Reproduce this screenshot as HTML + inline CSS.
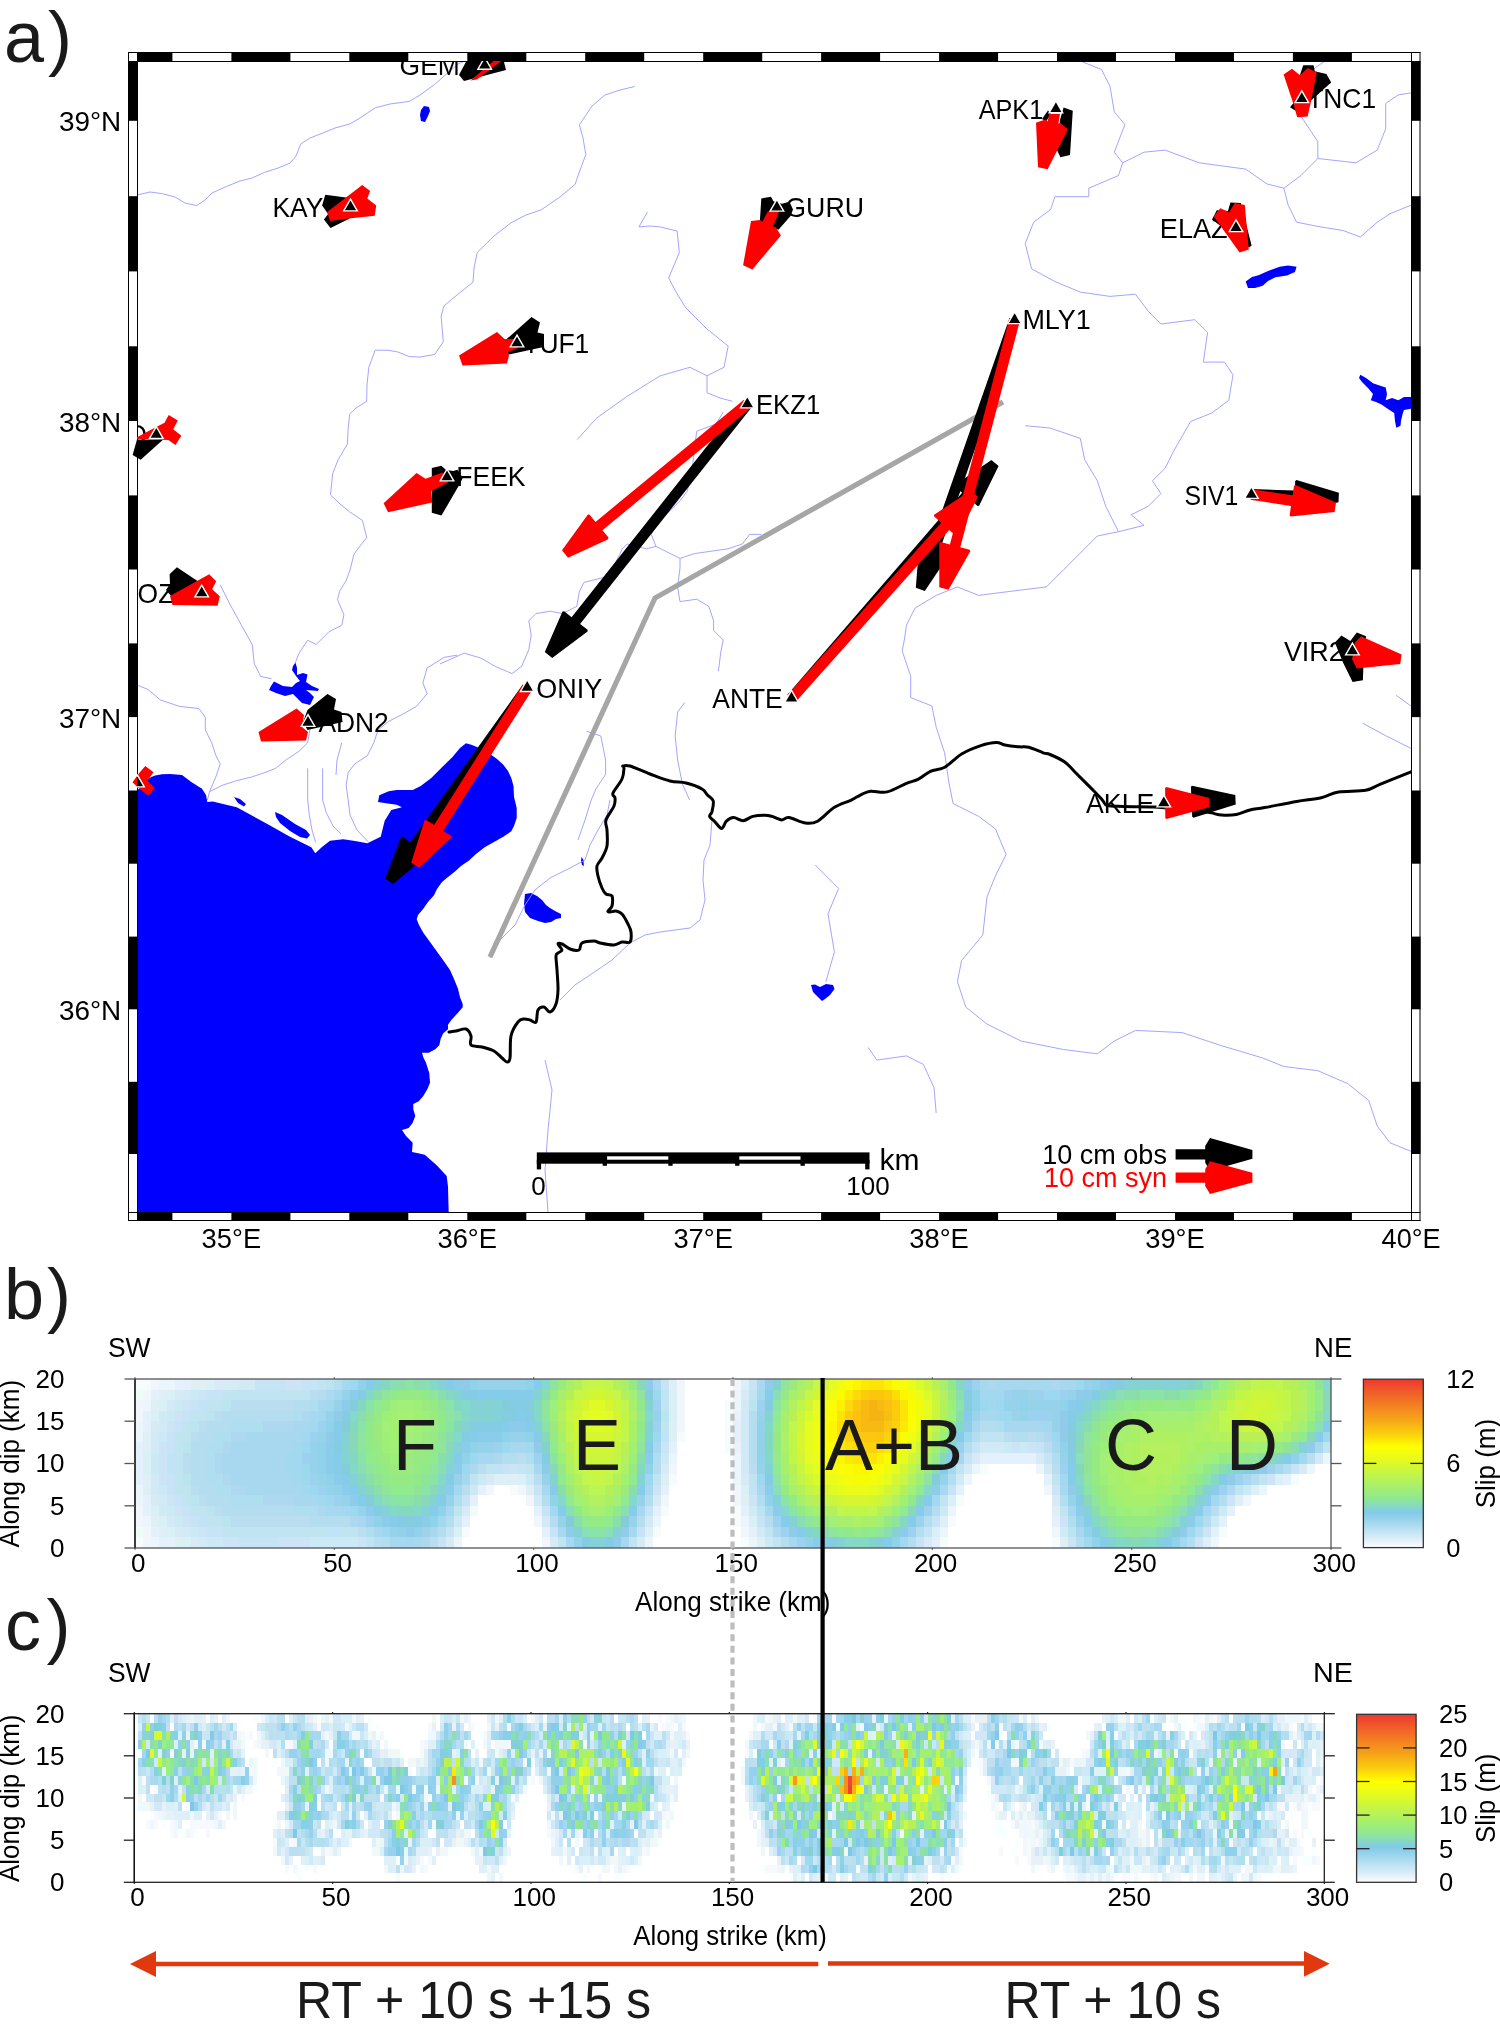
<!DOCTYPE html><html><head><meta charset="utf-8"><title>Figure</title><style>html,body{margin:0;padding:0;background:#fff;}svg{display:block;will-change:transform;}text{font-family:"Liberation Sans",sans-serif;}</style></head><body><svg width="1500" height="2034" viewBox="0 0 1500 2034"><defs><clipPath id="mc"><rect x="137" y="61" width="1274" height="1151"/></clipPath><clipPath id="oc"><rect x="128" y="61" width="1292" height="1151"/></clipPath></defs><rect width="1500" height="2034" fill="#fff"/><text transform="translate(4.0,61.5)" font-size="72" fill="#1a1a1a">a</text><text transform="translate(48.0,61.5)" font-size="72" fill="#1a1a1a">)</text><text transform="translate(4.0,1318.5)" font-size="72" fill="#1a1a1a">b</text><text transform="translate(47.0,1318.5)" font-size="72" fill="#1a1a1a">)</text><text transform="translate(5.0,1650.3)" font-size="72" fill="#1a1a1a">c</text><text transform="translate(46.5,1650.3)" font-size="72" fill="#1a1a1a">)</text><g clip-path="url(#mc)"><path d="M137.0 790.0 L140.0 788.5 L144.0 784.0 L149.0 778.0 L155.0 775.5 L162.0 774.3 L170.0 774.0 L182.0 775.0 L191.3 782.0 L202.0 788.7 L206.0 795.0 L207.3 802.0 L212.7 801.5 L236.7 807.3 L268.7 824.7 L290.0 836.7 L311.3 847.3 L315.3 853.2 L322.0 847.0 L330.0 840.7 L343.3 839.3 L355.0 841.0 L367.3 843.3 L380.7 836.7 L384.7 820.7 L391.3 810.0 L402.0 807.3 L396.7 804.7 L386.0 803.3 L378.0 802.0 L379.3 795.3 L388.7 791.3 L396.7 790.0 L412.7 790.0 L420.7 786.0 L431.3 778.0 L442.0 767.3 L452.7 756.7 L460.0 748.0 L466.0 743.3 L471.3 744.7 L482.0 749.0 L490.0 754.0 L497.0 759.0 L503.3 764.7 L508.0 771.0 L511.3 778.0 L513.5 786.0 L514.0 796.7 L516.7 808.0 L516.7 818.0 L514.0 826.0 L511.3 831.3 L503.3 836.7 L494.0 842.0 L484.7 847.3 L476.0 854.0 L468.7 860.7 L461.0 866.0 L455.3 871.3 L448.0 877.0 L442.0 882.0 L437.0 889.0 L434.0 895.3 L428.0 902.0 L423.3 908.7 L418.0 915.0 L416.7 919.3 L419.0 925.0 L423.3 932.7 L430.0 942.0 L436.7 951.3 L443.0 960.0 L450.0 970.0 L454.0 979.0 L458.0 988.7 L460.0 997.3 L462.7 1004.0 L462.7 1007.3 L458.0 1012.7 L451.3 1020.0 L448.0 1024.7 L448.0 1029.3 L443.3 1033.3 L440.7 1038.7 L439.3 1045.3 L435.3 1049.3 L428.7 1052.7 L422.0 1052.7 L423.3 1057.3 L426.0 1062.7 L429.3 1073.3 L430.0 1082.7 L427.3 1089.3 L423.3 1096.0 L418.7 1101.3 L413.3 1104.0 L413.3 1109.3 L415.3 1116.0 L412.7 1122.7 L408.7 1128.0 L402.0 1130.0 L406.0 1136.0 L412.7 1142.7 L412.0 1152.0 L418.0 1153.3 L424.7 1154.7 L436.7 1165.3 L446.7 1176.0 L448.0 1186.7 L448.7 1213.0 L137.0 1213.0Z" fill="#0000ff"/><path d="M234.0 797.0 L240.0 799.0 L246.0 804.0 L244.0 806.5 L238.0 803.0Z" fill="#0000ff"/><path d="M275.0 812.0 L282.0 815.0 L295.0 824.0 L306.0 830.0 L310.0 835.0 L307.0 838.5 L300.0 837.0 L290.0 831.0 L280.0 823.0 L276.0 817.0Z" fill="#0000ff"/><path d="M295.5 662.5 L297.0 668.0 L297.0 675.0 L303.0 673.0 L307.5 674.5 L306.0 682.0 L312.0 686.0 L319.0 689.0 L318.0 691.0 L306.0 690.0 L310.0 693.0 L314.0 697.0 L310.0 705.0 L302.0 703.0 L297.0 698.0 L293.0 694.0 L285.0 696.0 L276.0 693.0 L269.0 690.0 L271.0 686.0 L274.0 681.5 L283.0 686.0 L292.0 687.0 L296.0 683.0 L300.0 681.0 L296.0 676.0 L292.0 670.0 L293.0 666.0Z" fill="#0000ff"/><path d="M424.0 106.0 L429.0 107.0 L430.0 111.0 L428.0 116.0 L425.0 122.0 L421.0 121.0 L420.0 115.0 L421.0 110.0Z" fill="#0000ff"/><path d="M525.0 894.0 L531.0 893.0 L537.0 896.0 L542.0 900.0 L546.0 905.0 L550.0 908.0 L555.0 911.0 L561.0 914.0 L561.0 918.0 L556.0 919.0 L551.0 922.0 L545.0 923.0 L538.0 921.0 L530.0 918.0 L525.0 912.0 L524.0 904.0Z" fill="#0000ff"/><path d="M581.5 857.0 L583.5 860.0 L583.8 866.0 L582.0 865.0 L581.0 861.0Z" fill="#0000ff"/><path d="M1245.7 281.5 L1252.0 277.0 L1258.5 275.2 L1268.0 271.0 L1279.7 266.7 L1288.0 265.5 L1296.6 266.7 L1295.0 272.0 L1287.0 275.5 L1275.4 277.3 L1268.0 281.0 L1262.7 285.8 L1255.0 288.0 L1248.0 288.0Z" fill="#0000ff"/><path d="M1360.3 374.8 L1366.0 378.0 L1373.0 383.3 L1378.0 385.0 L1385.7 387.6 L1387.0 394.0 L1385.7 400.3 L1392.0 398.0 L1398.4 400.3 L1404.0 397.0 L1411.0 397.0 L1411.0 408.7 L1404.0 410.0 L1402.6 414.0 L1401.0 421.0 L1400.5 425.7 L1396.3 427.8 L1395.0 421.0 L1394.2 413.0 L1388.0 409.0 L1381.5 404.5 L1376.0 402.0 L1370.8 400.3 L1373.0 394.0 L1368.0 388.0 L1362.0 382.0 L1359.0 378.0Z" fill="#0000ff"/><path d="M811.0 985.0 L815.0 984.5 L820.0 987.0 L826.0 984.0 L833.0 985.0 L834.5 989.0 L830.0 995.0 L825.0 999.0 L822.0 1001.0 L818.0 997.0 L813.0 992.0Z" fill="#0000ff"/><g fill="none" stroke="#9a9aff" stroke-width="0.9" stroke-linejoin="round"><path d="M137.0 195.0 L150.0 192.0 L162.5 193.7 L175.0 197.0 L185.0 203.0 L196.5 205.6 L205.0 200.0 L212.0 193.0 L226.3 186.5 L240.0 181.0 L252.0 178.0 L264.6 172.4 L278.0 168.0 L290.1 163.1 L296.0 156.0 L300.8 143.9 L310.0 138.0 L324.2 132.5 L335.0 128.0 L349.7 124.0 L360.0 118.0 L375.2 107.8 L390.0 104.0 L409.2 101.4 L420.0 95.0 L434.7 84.4 L443.0 77.0 L451.8 69.5 L458.0 64.0 L464.5 61.0"/><path d="M634.7 86.5 L620.0 90.0 L604.9 95.0 L592.0 106.0 L579.4 124.8 L583.0 138.0 L585.8 154.6 L580.0 170.0 L575.1 184.4 L560.0 197.0 L541.1 209.9 L526.0 215.0 L511.3 222.6 L494.0 236.0 L477.3 252.4 L474.0 268.0 L473.0 282.2 L462.0 291.0 L451.8 299.2 L444.0 306.0 L441.1 316.2 L443.3 341.7 L434.7 354.5 L420.0 357.0 L409.2 356.6 L398.0 352.0 L388.0 350.2 L375.2 350.2 L368.8 367.3 L367.0 385.0 L366.7 401.3 L356.0 408.0 L349.7 414.0 L348.0 430.0 L347.5 443.8 L338.0 460.0 L332.7 473.6 L330.5 494.9 L340.0 504.0 L349.7 511.9 L362.4 520.4 L366.7 537.4 L360.0 546.0 L353.9 554.4 L350.0 570.0 L346.1 580.5 L339.7 591.2 L337.5 599.7 L343.9 614.7 L341.8 625.3 L329.0 631.7 L316.2 644.5 L307.7 640.3 L299.1 653.1 L294.9 663.7"/><path d="M647.4 212.0 L638.9 226.9 L650.0 226.0 L660.2 226.9 L677.2 231.1 L679.3 252.4 L668.7 277.9 L676.0 292.0 L685.7 307.7 L707.0 329.0 L728.2 346.0 L724.0 367.3 L707.0 375.8 L707.0 392.8 L720.0 398.0 L732.5 401.3"/><path d="M577.2 439.6 L596.4 418.3 L626.1 397.0 L660.2 375.8 L690.0 367.3 L707.0 375.8"/><path d="M1080.3 61.0 L1101.6 69.5 L1110.0 86.4 L1114.3 111.9 L1124.9 124.6 L1114.3 152.2 L1122.7 162.8 L1118.5 175.5 L1088.8 188.2 L1088.8 196.7 L1054.9 196.7 L1050.7 209.4 L1033.7 222.2 L1025.2 243.4 L1031.6 268.8 L1054.9 281.5 L1080.3 292.1 L1110.0 296.4 L1135.5 294.2 L1148.2 311.2 L1160.9 324.0 L1194.8 319.7 L1207.6 332.4 L1203.3 362.1 L1224.5 362.1 L1233.0 374.8 L1228.8 400.3 L1211.8 413.0 L1190.6 421.5 L1173.6 451.2 L1165.2 468.1 L1152.4 480.8 L1160.9 493.6 L1148.2 506.3 L1131.2 514.8 L1144.0 525.4 L1118.5 531.7 L1097.3 536.0 L1080.3 553.0 L1063.4 569.9 L1046.4 586.9 L1012.5 591.1 L978.6 595.4 L957.4 586.9 L936.2 595.4 L915.0 608.1 L906.5 625.0 L904.3 640.0 L902.2 650.9 L910.7 676.3 L910.7 697.5 L931.9 706.0 L936.2 727.2 L944.6 752.7 L948.9 782.4 L953.1 803.6 L978.6 816.3 L995.5 829.0 L1006.1 854.5 L995.5 875.7 L987.0 896.9 L982.8 935.0 L961.6 960.5 L957.4 981.7 L965.8 1007.1 L987.0 1024.1 L1021.0 1041.0 L1063.4 1049.5 L1097.3 1053.8 L1114.3 1041.0 L1135.5 1030.4 L1182.1 1032.6 L1220.3 1045.3 L1262.7 1058.0 L1283.9 1066.5 L1317.8 1070.7 L1347.5 1083.5 L1368.7 1100.4 L1377.2 1125.9 L1390.0 1142.8 L1411.0 1151.3"/><path d="M1122.7 162.8 L1144.0 152.2 L1165.2 150.1 L1199.1 162.8 L1245.7 169.1 L1267.0 184.0 L1283.9 188.2 L1288.2 205.2 L1296.6 222.2 L1317.8 226.4 L1343.3 230.6 L1360.3 237.0 L1377.2 222.2 L1390.0 213.7 L1411.0 205.2"/><path d="M1283.9 188.2 L1300.9 175.5 L1317.8 158.5 L1317.8 141.6 L1300.9 116.1 L1300.9 103.4 L1305.0 85.0 L1312.0 70.0 L1325.0 61.0"/><path d="M1317.8 158.5 L1356.0 162.8 L1377.2 150.1 L1385.7 128.9 L1385.7 103.4 L1398.4 94.9 L1411.0 92.8"/><path d="M1025.2 425.7 L1050.0 428.0 L1080.3 438.4 L1084.6 459.6 L1097.3 480.8 L1105.8 506.3 L1118.5 531.7"/><path d="M815.3 865.0 L838.6 888.4 L828.0 913.8 L834.4 952.0 L825.9 981.7"/><path d="M868.3 1047.4 L876.8 1060.1 L906.5 1055.9 L923.4 1064.4 L934.0 1087.7 L936.2 1113.1"/><path d="M1396.3 695.4 L1411.0 706.0"/><path d="M1362.4 723.0 L1385.7 735.7 L1411.0 748.4"/><path d="M220.2 584.8 L230.9 606.1 L241.5 625.3 L252.2 644.5 L254.3 663.7 L260.7 676.5 L271.4 678.7"/><path d="M309.8 729.9 L307.7 742.7 L299.1 751.2 L286.3 759.7 L275.7 768.3 L265.0 772.5 L252.2 776.8 L235.1 781.1 L222.3 785.3 L209.5 791.7 L207.4 800.0"/><path d="M137.0 685.1 L147.7 689.3 L160.5 700.0 L179.7 706.4 L198.9 708.5 L205.3 717.1 L205.3 729.9 L211.7 742.7 L215.9 755.5 L220.2 764.0 L215.9 776.8 L209.5 791.7"/><path d="M457.0 655.2 L444.2 657.3 L427.1 668.0 L422.9 682.9 L427.1 693.6 L416.5 706.4 L401.5 714.9 L388.7 721.3 L378.1 729.9 L373.8 742.7 L367.4 755.5 L354.6 764.0 L348.2 772.5 L346.1 785.3 L348.2 800.0 L350.0 815.0 L357.0 830.0 L368.8 842.5"/><path d="M322.6 768.3 L322.6 800.0 L326.3 812.7 L333.0 826.0 L341.2 834.0"/><path d="M307.7 768.3 L307.7 800.0 L309.3 815.0 L312.0 830.0 L315.6 842.5"/><path d="M341.8 742.7 L337.0 760.0 L336.0 775.0"/><path d="M440.0 664.0 L464.0 653.2 L480.8 658.0 L495.2 666.4 L512.0 673.6 L521.6 666.4 L528.8 649.6 L531.2 635.2 L528.8 620.8 L536.0 613.6 L550.4 611.2 L562.4 613.6 L576.8 606.4 L579.2 592.0 L584.0 582.4 L603.2 577.6 L612.8 568.0 L622.4 548.8 L627.2 544.0 L636.8 546.4 L646.4 548.8 L656.0 546.4 L665.6 551.2 L680.0 558.4 L694.4 553.6 L711.2 551.2 L728.0 548.8 L742.4 544.0 L749.6 534.4 L761.6 534.4"/><path d="M680.0 558.4 L680.0 568.0 L677.6 587.2 L680.0 601.6 L696.8 599.2 L708.8 606.4 L713.6 620.8 L713.6 630.4 L723.2 640.0 L720.8 652.0 L718.4 671.2"/><path d="M656.0 546.4 L651.2 534.4 L656.0 524.8 L665.6 515.2 L680.0 500.8 L687.2 491.2 L692.0 472.0 L694.4 448.0 L696.8 431.2 L716.0 424.0 L723.2 412.0"/><path d="M684.8 702.4 L677.6 712.0 L675.2 736.0 L677.6 760.0 L682.4 784.0 L689.6 800.0"/><path d="M586.4 731.2 L600.8 736.0 L605.6 760.0 L605.6 774.4 L596.0 788.8 L591.2 800.0 L585.0 820.0 L578.0 840.0"/><path d="M490.0 958.0 L500.0 940.0 L515.0 925.0 L525.0 905.0 L535.0 890.0 L550.0 878.0 L570.0 868.0 L585.0 860.0 L590.0 845.0 L598.0 830.0 L607.0 815.0 L610.0 800.0"/><path d="M545.0 1060.0 L552.0 1090.0 L548.0 1130.0 L545.0 1170.0 L548.0 1212.0"/><path d="M560.0 1000.0 L575.0 985.0 L590.0 975.0 L612.0 960.0 L630.0 943.0"/><path d="M630.0 943.0 L645.0 935.0 L660.0 932.0 L690.0 928.0 L700.0 920.0 L705.0 900.0 L703.0 880.0 L704.0 860.0 L710.0 845.0 L712.0 820.0"/></g><path d="M449.0 1032.0 C450.2 1031.8 453.2 1031.5 456.0 1031.0 C458.8 1030.5 463.5 1028.2 466.0 1029.0 C468.5 1029.8 470.2 1033.3 471.0 1036.0 C471.8 1038.7 469.2 1043.2 471.0 1045.0 C472.8 1046.8 478.2 1046.0 482.0 1047.0 C485.8 1048.0 490.7 1049.2 494.0 1051.0 C497.3 1052.8 499.8 1056.2 502.0 1058.0 C504.2 1059.8 505.7 1062.0 507.0 1062.0 C508.3 1062.0 509.3 1062.3 510.0 1058.0 C510.7 1053.7 509.7 1042.0 511.0 1036.0 C512.3 1030.0 515.8 1024.8 518.0 1022.0 C520.2 1019.2 522.0 1019.3 524.0 1019.0 C526.0 1018.7 528.0 1019.5 530.0 1020.0 C532.0 1020.5 534.7 1023.7 536.0 1022.0 C537.3 1020.3 536.7 1012.5 538.0 1010.0 C539.3 1007.5 542.0 1006.7 544.0 1007.0 C546.0 1007.3 548.0 1012.5 550.0 1012.0 C552.0 1011.5 554.7 1007.7 556.0 1004.0 C557.3 1000.3 557.8 995.7 558.0 990.0 C558.2 984.3 557.3 975.7 557.0 970.0 C556.7 964.3 555.8 958.8 556.0 956.0 C556.2 953.2 557.0 954.0 558.0 953.0 C559.0 952.0 562.0 951.5 562.0 950.0 C562.0 948.5 558.0 945.0 558.0 944.0 C558.0 943.0 560.0 943.2 562.0 944.0 C564.0 944.8 567.2 948.0 570.0 949.0 C572.8 950.0 577.0 951.0 579.0 950.0 C581.0 949.0 579.5 944.5 582.0 943.0 C584.5 941.5 591.0 941.0 594.0 941.0 C597.0 941.0 596.7 942.3 600.0 943.0 C603.3 943.7 610.3 945.2 614.0 945.0 C617.7 944.8 619.3 942.5 622.0 942.0 C624.7 941.5 628.5 943.7 630.0 942.0 C631.5 940.3 631.3 935.0 631.0 932.0 C630.7 929.0 629.5 927.0 628.0 924.0 C626.5 921.0 624.0 916.2 622.0 914.0 C620.0 911.8 618.0 911.3 616.0 911.0 C614.0 910.7 611.3 912.0 610.0 912.0 C608.7 912.0 607.7 912.0 608.0 911.0 C608.3 910.0 611.3 908.5 612.0 906.0 C612.7 903.5 613.0 898.0 612.0 896.0 C611.0 894.0 607.7 895.3 606.0 894.0 C604.3 892.7 603.3 891.0 602.0 888.0 C600.7 885.0 598.8 879.7 598.0 876.0 C597.2 872.3 596.3 869.0 597.0 866.0 C597.7 863.0 600.3 861.3 602.0 858.0 C603.7 854.7 606.2 850.7 607.0 846.0 C607.8 841.3 607.2 834.3 607.0 830.0 C606.8 825.7 604.8 824.0 606.0 820.0 C607.2 816.0 612.5 809.7 614.0 806.0 C615.5 802.3 615.2 800.2 615.0 798.0 C614.8 795.8 611.8 796.2 613.0 793.0 C614.2 789.8 620.2 783.2 622.0 779.0 C623.8 774.8 623.8 770.2 624.0 768.0 C624.2 765.8 622.0 766.3 623.0 766.0 C624.0 765.7 625.5 764.7 630.0 766.0 C634.5 767.3 643.3 771.5 650.0 774.0 C656.7 776.5 664.0 779.5 670.0 781.0 C676.0 782.5 680.7 781.7 686.0 783.0 C691.3 784.3 698.5 787.0 702.0 789.0 C705.5 791.0 705.3 792.8 707.2 794.8 C709.1 796.8 712.4 798.0 713.2 800.8 C714.0 803.6 712.6 809.0 712.0 811.6 C711.4 814.2 709.2 814.8 709.6 816.4 C710.0 818.0 712.4 819.2 714.4 821.2 C716.4 823.2 719.6 828.4 721.6 828.4 C723.6 828.4 724.4 823.0 726.4 821.2 C728.4 819.4 730.8 817.7 733.6 817.6 C736.4 817.5 740.0 820.9 743.2 820.7 C746.4 820.5 749.2 817.3 752.8 816.4 C756.4 815.5 761.6 815.2 764.8 815.2 C768.0 815.2 769.2 815.6 772.0 816.4 C774.8 817.2 778.8 819.8 781.6 820.0 C784.4 820.2 784.8 817.1 788.8 817.6 C792.8 818.1 800.8 822.5 805.6 823.1 C810.4 823.7 812.8 823.8 817.6 821.2 C822.4 818.6 828.8 810.8 834.4 807.3 C840.0 803.8 846.8 802.2 851.2 800.1 C855.6 798.0 857.6 796.3 860.8 794.8 C864.0 793.3 866.0 791.7 870.4 791.2 C874.8 790.7 881.2 793.2 887.2 791.9 C893.2 790.6 901.2 785.4 906.4 783.3 C911.6 781.2 914.4 781.2 918.4 779.2 C922.4 777.2 926.0 773.3 930.4 771.3 C934.8 769.3 939.6 770.1 944.8 767.2 C950.0 764.3 955.6 757.6 961.6 754.0 C967.6 750.4 975.0 747.5 980.8 745.6 C986.6 743.7 992.4 742.6 996.4 742.5 C1000.4 742.4 1001.0 744.2 1004.8 744.9 C1008.6 745.6 1015.2 746.4 1019.2 746.8 C1023.2 747.2 1024.8 746.3 1028.8 747.3 C1032.8 748.3 1039.7 751.6 1043.2 752.8 C1046.7 754.0 1046.4 753.0 1050.0 754.5 C1053.6 756.0 1060.7 759.1 1064.8 762.0 C1068.9 764.9 1069.8 766.9 1074.7 771.8 C1079.6 776.7 1089.7 786.7 1094.4 791.5 C1099.1 796.3 1100.6 798.1 1102.7 800.4 C1104.8 802.7 1103.7 804.5 1107.2 805.5 C1110.8 806.5 1116.3 806.2 1124.0 806.5 C1131.7 806.8 1144.3 806.6 1153.6 807.0 C1162.9 807.4 1172.3 808.3 1180.0 809.0 C1187.7 809.7 1194.8 810.4 1200.0 811.0 C1205.2 811.6 1207.9 812.2 1211.5 812.9 C1215.1 813.6 1217.5 814.8 1221.7 815.1 C1225.9 815.4 1231.7 815.4 1236.4 814.5 C1241.1 813.6 1245.3 811.1 1250.0 810.0 C1254.7 808.9 1256.8 809.0 1264.6 807.6 C1272.4 806.2 1287.2 803.0 1296.7 801.4 C1306.2 799.8 1314.3 799.3 1321.3 797.7 C1328.3 796.1 1331.2 793.2 1338.6 792.0 C1346.0 790.8 1358.7 791.6 1365.7 790.3 C1372.7 789.0 1373.0 787.2 1380.5 784.1 C1388.0 781.0 1405.9 773.8 1411.0 771.8" fill="none" stroke="#000" stroke-width="3" stroke-linejoin="round" stroke-linecap="round"/><path d="M490.0 957.0 L655.0 598.0 L1003.0 402.0" fill="none" stroke="#a6a6a6" stroke-width="5.2" stroke-linejoin="miter"/><g font-size="26" fill="#000"><text transform="translate(399.6,75.0) scale(1,1.04)" font-size="26.4">GEM</text><text transform="translate(978.7,119.0) scale(1,1.04)" font-size="26.4" textLength="64.5" lengthAdjust="spacingAndGlyphs">APK1</text><text transform="translate(1376.1,108.4) scale(1,1.04)" font-size="26.4" text-anchor="end">TNC1</text><text transform="translate(272.5,217.0) scale(1,1.04)" font-size="26.4">KAY</text><text transform="translate(785.3,216.8) scale(1,1.04)" font-size="26.4" textLength="78.7" lengthAdjust="spacingAndGlyphs">GURU</text><text transform="translate(1159.8,237.8) scale(1,1.04)" font-size="26.4" textLength="67.9" lengthAdjust="spacingAndGlyphs">ELAZ</text><text transform="translate(589.3,353.3) scale(1,1.04)" font-size="26.4" text-anchor="end">TUF1</text><text transform="translate(1022.4,328.9) scale(1,1.04)" font-size="26.4" textLength="68.4" lengthAdjust="spacingAndGlyphs">MLY1</text><text transform="translate(755.9,414.0) scale(1,1.04)" font-size="26.4" textLength="64.3" lengthAdjust="spacingAndGlyphs">EKZ1</text><text transform="translate(147.1,444.0) scale(1,1.04)" font-size="26.4" text-anchor="end">NIGD</text><text transform="translate(456.2,486.3) scale(1,1.04)" font-size="26.4" textLength="69.4" lengthAdjust="spacingAndGlyphs">FEEK</text><text transform="translate(1184.6,504.6) scale(1,1.04)" font-size="26.4" textLength="53.8" lengthAdjust="spacingAndGlyphs">SIV1</text><text transform="translate(137.6,603.0) scale(1,1.04)" font-size="26.4">OZA</text><text transform="translate(1283.9,660.8) scale(1,1.04)" font-size="26.4" textLength="59.8" lengthAdjust="spacingAndGlyphs">VIR2</text><text transform="translate(536.3,697.5) scale(1,1.04)" font-size="26.4" textLength="65.9" lengthAdjust="spacingAndGlyphs">ONIY</text><text transform="translate(712.3,708.2) scale(1,1.04)" font-size="26.4" textLength="70.4" lengthAdjust="spacingAndGlyphs">ANTE</text><text transform="translate(388.8,732.0) scale(1,1.04)" font-size="26.4" text-anchor="end">ADN2</text><text transform="translate(1086.1,813.0) scale(1,1.04)" font-size="26.4" textLength="68.1" lengthAdjust="spacingAndGlyphs">AKLE</text></g></g><rect x="128" y="52" width="1292.5" height="9" fill="#fff"/><rect x="128" y="1212" width="1292.5" height="9" fill="#fff"/><rect x="128" y="52" width="9" height="1169" fill="#fff"/><rect x="1411" y="52" width="9.5" height="1169" fill="#fff"/><rect x="137.0" y="52" width="35.4" height="9" fill="#000"/><rect x="137.0" y="1212" width="35.4" height="9" fill="#000"/><rect x="231.4" y="52" width="59.0" height="9" fill="#000"/><rect x="231.4" y="1212" width="59.0" height="9" fill="#000"/><rect x="349.3" y="52" width="59.0" height="9" fill="#000"/><rect x="349.3" y="1212" width="59.0" height="9" fill="#000"/><rect x="467.3" y="52" width="59.0" height="9" fill="#000"/><rect x="467.3" y="1212" width="59.0" height="9" fill="#000"/><rect x="585.2" y="52" width="59.0" height="9" fill="#000"/><rect x="585.2" y="1212" width="59.0" height="9" fill="#000"/><rect x="703.2" y="52" width="59.0" height="9" fill="#000"/><rect x="703.2" y="1212" width="59.0" height="9" fill="#000"/><rect x="821.1" y="52" width="59.0" height="9" fill="#000"/><rect x="821.1" y="1212" width="59.0" height="9" fill="#000"/><rect x="939.1" y="52" width="59.0" height="9" fill="#000"/><rect x="939.1" y="1212" width="59.0" height="9" fill="#000"/><rect x="1057.0" y="52" width="59.0" height="9" fill="#000"/><rect x="1057.0" y="1212" width="59.0" height="9" fill="#000"/><rect x="1175.0" y="52" width="59.0" height="9" fill="#000"/><rect x="1175.0" y="1212" width="59.0" height="9" fill="#000"/><rect x="1292.9" y="52" width="59.0" height="9" fill="#000"/><rect x="1292.9" y="1212" width="59.0" height="9" fill="#000"/><rect x="128" y="1081.8" width="9" height="72.2" fill="#000"/><rect x="1411" y="1081.8" width="9.5" height="72.2" fill="#000"/><rect x="128" y="936.6" width="9" height="72.7" fill="#000"/><rect x="1411" y="936.6" width="9.5" height="72.7" fill="#000"/><rect x="128" y="790.5" width="9" height="73.2" fill="#000"/><rect x="1411" y="790.5" width="9.5" height="73.2" fill="#000"/><rect x="128" y="643.4" width="9" height="73.7" fill="#000"/><rect x="1411" y="643.4" width="9.5" height="73.7" fill="#000"/><rect x="128" y="495.4" width="9" height="74.1" fill="#000"/><rect x="1411" y="495.4" width="9.5" height="74.1" fill="#000"/><rect x="128" y="346.3" width="9" height="74.7" fill="#000"/><rect x="1411" y="346.3" width="9.5" height="74.7" fill="#000"/><rect x="128" y="196.2" width="9" height="75.2" fill="#000"/><rect x="1411" y="196.2" width="9.5" height="75.2" fill="#000"/><rect x="128" y="61.0" width="9" height="59.8" fill="#000"/><rect x="1411" y="61.0" width="9.5" height="59.8" fill="#000"/><line x1="128.5" y1="52" x2="128.5" y2="1221" stroke="#000" stroke-width="1"/><line x1="137.5" y1="52" x2="137.5" y2="1221" stroke="#000" stroke-width="1"/><line x1="1411.5" y1="52" x2="1411.5" y2="1221" stroke="#000" stroke-width="1"/><line x1="1420" y1="52" x2="1420" y2="1221" stroke="#000" stroke-width="1"/><line x1="128" y1="52.5" x2="1420.5" y2="52.5" stroke="#000" stroke-width="1"/><line x1="128" y1="61.5" x2="1420.5" y2="61.5" stroke="#000" stroke-width="1"/><line x1="128" y1="1212.5" x2="1420.5" y2="1212.5" stroke="#000" stroke-width="1"/><line x1="128" y1="1220.5" x2="1420.5" y2="1220.5" stroke="#000" stroke-width="1"/><g clip-path="url(#oc)"><g fill="#000"><polygon points="468.0,58.0 503.0,58.0 506.0,70.0 464.0,81.0 459.0,75.0"/><polygon points="1063.6,107.6 1072.8,110.8 1070.0,155.0 1060.4,157.2 1057.0,150.0 1060.0,120.0"/><polygon points="1042.0,119.0 1048.0,110.4 1051.0,114.0 1046.0,121.5"/><polygon points="1303.2,65.2 1313.6,65.2 1314.8,71.2 1326.4,74.0 1331.2,82.4 1324.4,88.4 1310.8,100.8 1296.0,111.0 1290.0,107.2 1296.0,100.0 1300.0,75.0"/><polygon points="325.3,194.7 345.9,197.5 367.3,198.9 370.1,201.7 348.7,219.0 330.5,227.9 323.9,219.5 328.1,213.9 322.1,205.5"/><polygon points="761.3,198.5 771.0,196.7 773.4,201.3 781.8,203.7 789.5,201.8 793.0,209.5 790.5,216.0 778.5,229.8 772.9,227.5 762.2,222.3 759.9,220.5"/><polygon points="1230.4,202.6 1240.8,203.0 1251.6,245.4 1249.2,247.4 1212.0,219.4 1216.8,210.2 1228.0,211.0"/><polygon points="531.5,317.0 540.0,322.5 537.5,332.5 544.0,334.0 543.5,347.0 509.0,354.5 507.0,352.5 504.5,341.0"/><polygon points="137.0,439.5 162.7,440.0 140.7,459.8 132.6,454.9"/><polygon points="431.8,468.0 441.4,465.8 446.0,470.0 453.3,470.9 457.3,469.7 462.9,477.7 459.5,484.5 441.4,515.6 431.8,512.8"/><polygon points="176.9,567.3 196.4,580.2 213.0,590.0 205.0,600.0 171.0,596.0 166.0,590.0 170.0,584.0 169.6,574.3"/><polygon points="1341.4,635.4 1350.3,641.0 1356.8,632.6 1366.1,636.3 1363.0,660.0 1363.3,669.0 1362.9,680.2 1352.6,682.1 1342.3,661.1 1334.9,642.4"/><polygon points="327.5,694.0 336.0,699.0 334.0,709.5 341.5,712.0 342.5,722.0 307.5,730.0 303.0,722.0 307.5,710.0"/><polygon points="552.2,657.9 587.6,631.4 587.6,629.8 580.1,623.9 751.5,407.4 743.1,400.6 571.6,617.2 564.1,611.2 562.5,611.5 544.8,652.1"/><polygon points="393.1,884.0 427.1,855.6 427.0,854.1 419.1,848.5 531.6,690.7 522.8,684.5 410.3,842.2 402.5,836.7 401.0,837.1 385.3,878.4"/><polygon points="924.8,591.0 949.5,554.3 949.0,552.8 939.9,549.6 1019.7,321.5 1009.5,317.9 929.7,546.1 920.7,542.9 919.3,543.7 915.8,587.8"/><polygon points="991.4,459.9 954.9,484.9 954.9,486.5 962.1,492.7 787.4,694.8 795.6,701.8 970.3,499.8 977.6,506.1 979.1,505.8 998.6,466.1"/><polygon points="1338.9,492.8 1296.5,480.0 1295.2,481.0 1294.9,490.6 1251.6,489.1 1251.2,499.9 1294.5,501.4 1294.2,511.0 1295.4,512.0 1338.5,502.2"/><polygon points="1235.3,795.1 1192.0,785.7 1190.9,786.8 1191.3,796.4 1163.6,797.6 1164.0,808.4 1191.8,807.2 1192.2,816.7 1193.5,817.7 1235.7,804.5"/></g><g fill="#f00"><polygon points="470.5,80.5 477.0,79.5 504.0,59.0 496.0,59.0"/><polygon points="1036.0,122.8 1045.2,119.6 1047.6,121.6 1049.2,114.0 1060.0,114.0 1058.4,123.6 1060.8,123.2 1068.0,129.6 1047.6,169.2 1038.0,167.2"/><polygon points="1283.6,74.4 1292.0,68.8 1300.0,75.2 1307.6,68.0 1316.8,72.4 1310.8,102.4 1307.6,116.4 1297.2,117.2 1293.2,103.2"/><polygon points="362.2,184.9 370.1,191.0 367.3,198.5 376.2,205.5 374.8,215.7 348.7,218.5 330.0,220.9 327.2,212.0"/><polygon points="767.8,211.6 779.0,211.6 772.9,227.5 775.7,227.0 780.9,235.4 752.4,269.5 743.1,265.3 751.0,220.9 759.9,220.0 762.2,222.3"/><polygon points="1220.4,208.2 1229.2,212.2 1234.8,203.0 1244.8,205.0 1248.8,249.4 1239.6,252.6 1213.6,216.2"/><polygon points="497.0,332.0 504.5,339.0 514.0,339.0 518.0,348.0 508.0,352.0 509.0,355.5 507.0,363.5 462.5,365.5 459.0,355.5"/><polygon points="137.0,437.2 152.9,428.8 164.5,422.7 168.7,415.0 177.8,420.4 173.2,429.3 181.3,435.8 175.5,444.9 168.3,440.0 137.0,439.1"/><polygon points="416.5,473.1 425.5,478.8 442.5,472.6 448.2,482.2 431.2,491.3 432.3,502.6 388.1,512.2 383.6,503.2"/><polygon points="209.2,574.3 216.2,581.3 212.1,589.3 219.8,596.3 217.6,605.8 172.5,605.1 170.0,595.9"/><polygon points="1361.0,636.3 1401.6,654.5 1400.2,663.9 1356.8,668.5 1352.1,659.2 1354.9,642.4"/><polygon points="296.5,708.5 304.0,715.0 302.0,727.0 308.0,732.0 306.0,740.5 261.0,741.5 258.5,732.0"/><polygon points="145.3,766.0 153.5,772.3 147.3,780.7 154.8,788.0 148.3,795.7 137.7,787.3 132.5,782.3 139.0,773.3"/><polygon points="568.0,557.7 608.2,539.2 608.5,537.6 602.4,530.2 750.7,408.2 743.9,399.8 595.5,521.9 589.4,514.5 587.9,514.5 562.0,550.3"/><polygon points="419.2,867.7 451.6,837.5 451.4,836.0 443.2,830.9 531.8,690.5 522.6,684.7 434.1,825.1 426.0,820.0 424.5,820.5 411.2,862.7"/><polygon points="948.5,589.7 970.3,551.2 969.6,549.8 960.3,547.3 1019.8,321.1 1009.4,318.3 949.9,544.6 940.6,542.1 939.3,543.0 939.3,587.3"/><polygon points="971.0,490.3 934.1,514.8 934.0,516.3 941.2,522.7 787.5,694.7 795.5,701.9 949.2,529.9 956.4,536.3 957.9,536.1 978.0,496.7"/><polygon points="1336.0,502.5 1295.4,485.0 1294.0,485.8 1292.6,495.3 1252.2,489.2 1250.6,499.8 1291.0,506.0 1289.6,515.4 1290.6,516.6 1334.6,511.9"/><polygon points="1209.2,797.9 1166.3,787.0 1165.1,788.0 1165.2,797.6 1163.8,797.6 1163.8,808.4 1165.2,808.4 1165.3,818.0 1166.5,819.0 1209.2,807.3"/></g></g><g clip-path="url(#mc)" fill="#000" stroke="#fff" stroke-width="1.4" stroke-linejoin="miter"><polygon points="484.7,57.4 491.5,69.2 477.9,69.2"/><polygon points="1055.9,101.0 1062.7,112.8 1049.1,112.8"/><polygon points="1301.8,90.8 1308.6,102.6 1295.0,102.6"/><polygon points="350.5,199.1 357.3,210.9 343.7,210.9"/><polygon points="776.9,199.3 783.7,211.1 770.1,211.1"/><polygon points="1236.0,219.8 1242.8,231.6 1229.2,231.6"/><polygon points="517.0,335.1 523.8,346.9 510.2,346.9"/><polygon points="1014.6,311.8 1021.4,323.6 1007.8,323.6"/><polygon points="747.3,396.1 754.1,407.9 740.5,407.9"/><polygon points="156.3,426.6 163.1,438.4 149.5,438.4"/><polygon points="447.0,469.1 453.8,480.9 440.2,480.9"/><polygon points="1251.4,486.6 1258.2,498.4 1244.6,498.4"/><polygon points="201.7,585.1 208.5,596.9 194.9,596.9"/><polygon points="1352.4,643.1 1359.2,654.9 1345.6,654.9"/><polygon points="527.2,679.7 534.0,691.5 520.4,691.5"/><polygon points="791.5,690.4 798.3,702.2 784.7,702.2"/><polygon points="308.0,714.6 314.8,726.4 301.2,726.4"/><polygon points="1163.8,795.1 1170.6,806.9 1157.0,806.9"/><polygon points="137.5,775.1 144.3,786.9 130.7,786.9"/></g><g font-size="26" fill="#000"><text transform="translate(58.9,1019.9) scale(1,1.04)" font-size="26.5" textLength="62.3" lengthAdjust="spacingAndGlyphs">36°N</text><text transform="translate(58.9,727.7) scale(1,1.04)" font-size="26.5" textLength="62.3" lengthAdjust="spacingAndGlyphs">37°N</text><text transform="translate(58.9,431.6) scale(1,1.04)" font-size="26.5" textLength="62.3" lengthAdjust="spacingAndGlyphs">38°N</text><text transform="translate(58.9,131.4) scale(1,1.04)" font-size="26.5" textLength="62.3" lengthAdjust="spacingAndGlyphs">39°N</text><text transform="translate(201.6,1248.4) scale(1,1.04)" font-size="26.5" textLength="59.5" lengthAdjust="spacingAndGlyphs">35°E</text><text transform="translate(437.5,1248.4) scale(1,1.04)" font-size="26.5" textLength="59.5" lengthAdjust="spacingAndGlyphs">36°E</text><text transform="translate(673.4,1248.4) scale(1,1.04)" font-size="26.5" textLength="59.5" lengthAdjust="spacingAndGlyphs">37°E</text><text transform="translate(909.3,1248.4) scale(1,1.04)" font-size="26.5" textLength="59.5" lengthAdjust="spacingAndGlyphs">38°E</text><text transform="translate(1145.2,1248.4) scale(1,1.04)" font-size="26.5" textLength="59.5" lengthAdjust="spacingAndGlyphs">39°E</text><text transform="translate(1381.6,1248.4) scale(1,1.04)" font-size="26.5" textLength="59.0" lengthAdjust="spacingAndGlyphs">40°E</text></g><rect x="536.8" y="1152.4" width="332.7" height="11.3" fill="#000"/><rect x="607.1" y="1156.3" width="61.2" height="3.4" fill="#fff"/><rect x="739.3" y="1156.3" width="61.2" height="3.4" fill="#fff"/><rect x="602.7" y="1160" width="4.3" height="5.8" fill="#000"/><rect x="668.3" y="1160" width="4.3" height="5.8" fill="#000"/><rect x="735.1" y="1160" width="4.3" height="5.8" fill="#000"/><rect x="800.5" y="1160" width="4.3" height="5.8" fill="#000"/><rect x="536.8" y="1160" width="4.3" height="9.4" fill="#000"/><rect x="865.2" y="1160" width="4.3" height="9.4" fill="#000"/><text transform="translate(538.5,1195.0)" font-size="26" text-anchor="middle">0</text><text transform="translate(868.0,1195.0)" font-size="26" text-anchor="middle">100</text><text transform="translate(879.5,1169.5)" font-size="30">km</text><text transform="translate(1042.3,1163.6) scale(1,1.02)" font-size="26.5" textLength="124.6" lengthAdjust="spacingAndGlyphs">10 cm obs</text><text transform="translate(1043.9,1186.8) scale(1,1.02)" font-size="26.5" fill="#f00" textLength="123.0" lengthAdjust="spacingAndGlyphs">10 cm syn</text><polygon fill="#000" points="1252.4,1150.0 1210.0,1138.0 1205.2,1146.0 1205.2,1149.2 1175.6,1149.2 1175.6,1159.6 1205.2,1159.6 1205.2,1162.8 1210.0,1170.8 1252.4,1158.8"/><polygon fill="#f00" points="1252.4,1172.8 1210.0,1161.2 1205.2,1169.2 1205.2,1172.4 1175.6,1172.4 1175.6,1182.8 1205.2,1182.8 1205.2,1186.0 1210.0,1194.0 1252.4,1182.4"/><g transform="translate(135,1379) scale(7.973333333333334,10.5625)" shape-rendering="crispEdges"><path fill="#f6fcfc" d="M0 0h2v1h-2zM74 2h1v1h-1zM74 3h1v1h-1zM74 4h1v1h-1zM68 5h1v1h-1zM74 5h1v1h-1zM74 6h1v1h-1zM106 8h1v1h-1zM67 9h1v1h-1zM145 9h1v1h-1zM47 10h1v1h-1zM103 11h1v1h-1zM66 12h1v1h-1zM75 12h1v1h-1zM75 13h1v1h-1zM102 13h1v1h-1zM41 14h1v1h-1zM65 14h1v1h-1zM136 14h1v1h-1zM0 15h1v1h-1zM76 15h1v1h-1zM101 15h1v1h-1zM115 15h1v1h-1z"/><path fill="#f0f6fc" d="M2 0h1v1h-1zM68 0h1v1h-1zM75 0h1v1h-1zM1 1h1v1h-1zM68 1h1v1h-1zM0 2h1v1h-1zM68 2h1v1h-1zM0 3h1v1h-1zM68 3h1v1h-1zM68 4h1v1h-1zM67 8h1v1h-1zM44 10h1v1h-1zM48 10h1v1h-1zM75 10h1v1h-1zM114 10h1v1h-1zM49 11h1v1h-1zM66 11h1v1h-1zM75 11h1v1h-1zM139 11h1v1h-1zM0 12h1v1h-1zM0 13h1v1h-1zM50 13h1v1h-1zM1 14h1v1h-1zM76 14h1v1h-1zM115 14h1v1h-1zM1 15h1v1h-1zM51 15h1v1h-1zM135 15h1v1h-1z"/><path fill="#eaf6fc" d="M3 0h2v1h-2zM75 1h1v1h-1zM1 2h1v1h-1zM75 2h1v1h-1zM0 4h1v1h-1zM0 5h1v1h-1zM67 7h1v1h-1zM75 7h1v1h-1zM149 7h1v1h-1zM75 8h1v1h-1zM105 8h1v1h-1zM113 8h1v1h-1zM147 8h1v1h-1zM75 9h1v1h-1zM104 9h1v1h-1zM0 10h1v1h-1zM141 10h1v1h-1zM0 11h1v1h-1zM102 12h1v1h-1zM1 13h1v1h-1zM65 13h1v1h-1zM76 13h1v1h-1zM101 14h1v1h-1zM2 15h1v1h-1zM40 15h1v1h-1zM64 15h1v1h-1zM77 15h1v1h-1z"/><path fill="#e4f0fc" d="M5 0h2v1h-2zM2 1h1v1h-1zM1 3h1v1h-1zM1 4h1v1h-1zM75 4h1v1h-1zM75 5h1v1h-1zM0 6h1v1h-1zM67 6h1v1h-1zM0 7h1v1h-1zM106 7h7v1h-7zM0 8h1v1h-1zM0 9h1v1h-1zM114 9h1v1h-1zM144 9h1v1h-1zM43 10h1v1h-1zM66 10h1v1h-1zM103 10h1v1h-1zM1 11h1v1h-1zM42 11h1v1h-1zM1 12h1v1h-1zM50 12h1v1h-1zM65 12h1v1h-1zM76 12h1v1h-1zM137 12h1v1h-1zM41 13h1v1h-1zM115 13h1v1h-1zM136 13h1v1h-1zM2 14h1v1h-1zM51 14h1v1h-1zM77 14h1v1h-1zM135 14h1v1h-1zM3 15h2v1h-2zM100 15h1v1h-1z"/><path fill="#def0f6" d="M7 0h2v1h-2zM67 0h1v1h-1zM3 1h1v1h-1zM2 2h1v1h-1zM67 4h1v1h-1zM1 5h1v1h-1zM67 5h1v1h-1zM1 6h1v1h-1zM1 9h1v1h-1zM45 9h3v1h-3zM66 9h1v1h-1zM1 10h1v1h-1zM49 10h1v1h-1zM140 10h1v1h-1zM76 11h1v1h-1zM138 11h1v1h-1zM115 12h1v1h-1zM2 13h1v1h-1zM101 13h1v1h-1zM3 14h1v1h-1zM64 14h1v1h-1zM5 15h1v1h-1zM78 15h1v1h-1zM116 15h1v1h-1zM134 15h1v1h-1z"/><path fill="#d8f0f6" d="M9 0h1v1h-1zM76 0h1v1h-1zM4 1h1v1h-1zM67 1h1v1h-1zM3 2h1v1h-1zM67 2h1v1h-1zM2 3h1v1h-1zM67 3h1v1h-1zM1 7h1v1h-1zM1 8h1v1h-1zM48 9h1v1h-1zM143 9h1v1h-1zM76 10h1v1h-1zM102 11h1v1h-1zM2 12h1v1h-1zM3 13h1v1h-1zM77 13h1v1h-1zM4 14h1v1h-1zM40 14h1v1h-1zM100 14h1v1h-1zM6 15h1v1h-1z"/><path fill="#d8eaf6" d="M10 0h3v1h-3zM5 1h1v1h-1zM76 1h1v1h-1zM2 4h1v1h-1zM105 7h1v1h-1zM113 7h1v1h-1zM66 8h1v1h-1zM104 8h1v1h-1zM146 8h1v1h-1zM44 9h1v1h-1zM76 9h1v1h-1zM2 11h1v1h-1zM65 11h1v1h-1zM115 11h1v1h-1zM41 12h1v1h-1zM5 14h1v1h-1zM7 15h1v1h-1zM39 15h1v1h-1zM52 15h1v1h-1zM63 15h1v1h-1zM99 15h1v1h-1z"/><path fill="#d2eaf6" d="M13 0h2v1h-2zM6 1h1v1h-1zM4 2h1v1h-1zM76 2h1v1h-1zM3 3h1v1h-1zM76 3h1v1h-1zM3 4h1v1h-1zM76 4h1v1h-1zM2 5h1v1h-1zM76 5h1v1h-1zM2 6h1v1h-1zM76 6h1v1h-1zM106 6h3v1h-3zM76 7h1v1h-1zM148 7h1v1h-1zM76 8h1v1h-1zM114 8h1v1h-1zM2 9h1v1h-1zM103 9h1v1h-1zM2 10h1v1h-1zM3 11h1v1h-1zM50 11h1v1h-1zM3 12h1v1h-1zM77 12h1v1h-1zM4 13h1v1h-1zM51 13h1v1h-1zM64 13h1v1h-1zM6 14h1v1h-1zM78 14h1v1h-1zM116 14h1v1h-1zM8 15h1v1h-1z"/><path fill="#c6e4f6" d="M15 0h4v1h-4zM21 0h2v1h-2zM66 0h1v1h-1zM77 0h1v1h-1zM9 1h2v1h-2zM7 2h1v1h-1zM6 3h1v1h-1zM5 4h1v1h-1zM4 5h1v1h-1zM4 6h1v1h-1zM105 6h1v1h-1zM113 6h1v1h-1zM104 7h1v1h-1zM114 7h1v1h-1zM46 8h1v1h-1zM48 8h1v1h-1zM145 8h1v1h-1zM4 9h1v1h-1zM4 10h1v1h-1zM50 10h1v1h-1zM102 10h1v1h-1zM5 11h1v1h-1zM41 11h1v1h-1zM6 12h1v1h-1zM51 12h1v1h-1zM64 12h1v1h-1zM7 13h1v1h-1zM78 13h1v1h-1zM100 13h1v1h-1zM9 14h2v1h-2zM39 14h1v1h-1zM52 14h1v1h-1zM63 14h1v1h-1zM99 14h1v1h-1zM13 15h5v1h-5zM38 15h1v1h-1zM98 15h1v1h-1z"/><path fill="#cce4f6" d="M19 0h2v1h-2zM8 1h1v1h-1zM6 2h1v1h-1zM5 3h1v1h-1zM4 4h1v1h-1zM3 6h1v1h-1zM66 6h1v1h-1zM110 6h1v1h-1zM112 6h1v1h-1zM3 7h1v1h-1zM3 8h1v1h-1zM47 8h1v1h-1zM3 9h1v1h-1zM142 9h1v1h-1zM65 10h1v1h-1zM115 10h1v1h-1zM4 11h1v1h-1zM77 11h1v1h-1zM137 11h1v1h-1zM5 12h1v1h-1zM6 13h1v1h-1zM116 13h1v1h-1zM8 14h1v1h-1zM134 14h1v1h-1zM11 15h2v1h-2zM18 15h4v1h-4zM28 15h1v1h-1zM117 15h1v1h-1zM133 15h1v1h-1z"/><path fill="#c0e4f0" d="M23 0h1v1h-1zM11 1h11v1h-11zM66 1h1v1h-1zM77 1h1v1h-1zM9 2h2v1h-2zM66 2h1v1h-1zM7 3h2v1h-2zM6 4h1v1h-1zM66 4h1v1h-1zM5 5h2v1h-2zM106 5h1v1h-1zM108 5h1v1h-1zM5 6h1v1h-1zM149 6h1v1h-1zM5 7h1v1h-1zM5 8h1v1h-1zM44 8h1v1h-1zM49 8h1v1h-1zM103 8h1v1h-1zM5 9h1v1h-1zM42 9h1v1h-1zM65 9h1v1h-1zM77 9h1v1h-1zM115 9h1v1h-1zM141 9h1v1h-1zM5 10h2v1h-2zM138 10h1v1h-1zM6 11h1v1h-1zM101 11h1v1h-1zM7 12h2v1h-2zM40 12h1v1h-1zM116 12h1v1h-1zM9 13h2v1h-2zM11 14h13v1h-13zM26 14h2v1h-2zM79 14h1v1h-1zM29 15h1v1h-1zM53 15h1v1h-1zM62 15h1v1h-1zM80 15h1v1h-1z"/><path fill="#bae4f0" d="M24 0h1v1h-1zM11 2h1v1h-1zM77 2h1v1h-1zM9 3h1v1h-1zM66 3h1v1h-1zM7 4h1v1h-1zM6 6h1v1h-1zM6 9h1v1h-1zM7 11h1v1h-1zM9 12h1v1h-1zM78 12h1v1h-1zM11 13h1v1h-1zM117 14h1v1h-1z"/><path fill="#b4def0" d="M25 0h1v1h-1zM23 1h1v1h-1zM20 2h2v1h-2zM11 3h9v1h-9zM77 3h1v1h-1zM9 4h3v1h-3zM77 4h1v1h-1zM106 4h2v1h-2zM8 5h2v1h-2zM77 5h1v1h-1zM105 5h1v1h-1zM110 5h2v1h-2zM113 5h1v1h-1zM7 6h2v1h-2zM77 6h1v1h-1zM104 6h1v1h-1zM7 7h2v1h-2zM46 7h2v1h-2zM77 7h1v1h-1zM7 8h2v1h-2zM65 8h1v1h-1zM144 8h1v1h-1zM7 9h2v1h-2zM102 9h1v1h-1zM140 9h1v1h-1zM8 10h2v1h-2zM9 11h3v1h-3zM51 11h1v1h-1zM64 11h1v1h-1zM116 11h1v1h-1zM136 11h1v1h-1zM11 12h9v1h-9zM100 12h1v1h-1zM22 13h5v1h-5zM39 13h1v1h-1zM52 13h1v1h-1zM63 13h1v1h-1zM79 13h1v1h-1zM99 13h1v1h-1zM134 13h1v1h-1zM38 14h1v1h-1zM98 14h1v1h-1zM133 14h1v1h-1zM31 15h1v1h-1zM81 15h1v1h-1zM97 15h1v1h-1zM118 15h1v1h-1zM132 15h1v1h-1z"/><path fill="#a8d8f0" d="M26 0h1v1h-1zM65 0h1v1h-1zM78 0h1v1h-1zM106 0h1v1h-1zM108 0h7v1h-7zM116 0h2v1h-2zM23 2h1v1h-1zM22 3h1v1h-1zM106 3h2v1h-2zM20 4h2v1h-2zM105 4h1v1h-1zM109 4h5v1h-5zM14 5h7v1h-7zM12 6h8v1h-8zM47 6h2v1h-2zM65 6h1v1h-1zM115 6h1v1h-1zM148 6h1v1h-1zM11 7h8v1h-8zM43 7h2v1h-2zM103 7h1v1h-1zM11 8h8v1h-8zM50 8h1v1h-1zM143 8h1v1h-1zM12 9h8v1h-8zM41 9h1v1h-1zM139 9h1v1h-1zM14 10h7v1h-7zM51 10h1v1h-1zM64 10h1v1h-1zM78 10h1v1h-1zM101 10h1v1h-1zM116 10h1v1h-1zM20 11h3v1h-3zM24 12h2v1h-2zM39 12h1v1h-1zM63 12h1v1h-1zM28 13h1v1h-1zM30 14h1v1h-1zM37 14h1v1h-1zM53 14h1v1h-1zM62 14h1v1h-1zM118 14h1v1h-1zM32 15h2v1h-2zM35 15h1v1h-1zM54 15h1v1h-1zM61 15h1v1h-1zM82 15h1v1h-1z"/><path fill="#9cd8f0" d="M27 0h1v1h-1zM118 0h1v1h-1zM65 1h1v1h-1zM114 1h2v1h-2zM106 2h1v1h-1zM108 2h1v1h-1zM109 3h1v1h-1zM65 5h1v1h-1zM104 5h1v1h-1zM115 5h1v1h-1zM149 5h1v1h-1zM21 6h1v1h-1zM46 6h1v1h-1zM42 7h1v1h-1zM21 8h1v1h-1zM41 8h1v1h-1zM21 9h1v1h-1zM64 9h1v1h-1zM78 9h1v1h-1zM22 10h1v1h-1zM24 11h1v1h-1zM27 12h1v1h-1zM133 13h1v1h-1zM31 14h1v1h-1zM132 14h1v1h-1z"/><path fill="#90d2ea" d="M28 0h1v1h-1zM42 0h1v1h-1zM49 0h1v1h-1zM120 0h1v1h-1zM105 1h1v1h-1zM105 2h1v1h-1zM111 2h1v1h-1zM116 2h1v1h-1zM24 4h1v1h-1zM78 4h1v1h-1zM46 5h1v1h-1zM49 5h1v1h-1zM78 5h1v1h-1zM23 6h1v1h-1zM42 6h1v1h-1zM78 6h1v1h-1zM116 6h1v1h-1zM23 7h1v1h-1zM41 7h1v1h-1zM78 7h1v1h-1zM145 7h1v1h-1zM23 8h1v1h-1zM64 8h1v1h-1zM24 9h1v1h-1zM25 10h1v1h-1zM52 11h1v1h-1zM79 11h1v1h-1zM38 12h1v1h-1zM30 13h1v1h-1zM37 13h1v1h-1zM33 14h1v1h-1zM35 14h1v1h-1zM119 14h1v1h-1zM55 15h1v1h-1zM84 15h1v1h-1zM95 15h1v1h-1zM120 15h1v1h-1zM130 15h1v1h-1z"/><path fill="#84ccea" d="M29 0h1v1h-1zM39 0h1v1h-1zM50 0h1v1h-1zM122 0h1v1h-1zM43 1h7v1h-7zM79 1h1v1h-1zM118 2h1v1h-1zM48 3h1v1h-1zM104 3h1v1h-1zM117 3h1v1h-1zM25 4h1v1h-1zM46 4h1v1h-1zM49 4h1v1h-1zM149 4h1v1h-1zM25 5h1v1h-1zM42 5h1v1h-1zM50 5h1v1h-1zM103 5h1v1h-1zM148 5h1v1h-1zM25 7h1v1h-1zM40 7h1v1h-1zM144 7h1v1h-1zM25 8h1v1h-1zM101 8h1v1h-1zM117 8h1v1h-1zM140 8h1v1h-1zM26 9h1v1h-1zM117 9h1v1h-1zM27 10h1v1h-1zM52 10h1v1h-1zM63 10h1v1h-1zM28 11h1v1h-1zM38 11h1v1h-1zM99 11h1v1h-1zM37 12h1v1h-1zM53 12h1v1h-1zM62 12h1v1h-1zM98 12h1v1h-1zM32 13h1v1h-1zM81 13h1v1h-1zM97 13h1v1h-1zM119 13h1v1h-1zM83 14h1v1h-1zM86 15h1v1h-1zM94 15h1v1h-1zM121 15h1v1h-1zM129 15h1v1h-1z"/><path fill="#84d2d8" d="M30 0h1v1h-1zM38 0h1v1h-1zM124 0h1v1h-1zM129 0h2v1h-2zM43 2h1v1h-1zM45 2h1v1h-1zM119 2h1v1h-1zM45 3h1v1h-1zM118 3h1v1h-1zM50 4h1v1h-1zM64 5h1v1h-1zM40 6h1v1h-1zM146 6h1v1h-1zM39 8h1v1h-1zM27 9h1v1h-1zM63 9h1v1h-1zM28 10h1v1h-1zM38 10h1v1h-1zM80 11h1v1h-1zM31 12h1v1h-1zM131 13h1v1h-1zM55 14h1v1h-1zM60 14h1v1h-1zM57 15h2v1h-2zM122 15h1v1h-1zM128 15h1v1h-1z"/><path fill="#84d8c0" d="M31 0h1v1h-1zM103 0h1v1h-1zM133 0h1v1h-1zM39 1h1v1h-1zM122 1h1v1h-1zM28 2h1v1h-1zM40 2h1v1h-1zM119 3h1v1h-1zM27 4h1v1h-1zM79 5h1v1h-1zM118 5h1v1h-1zM79 6h1v1h-1zM27 7h1v1h-1zM101 7h1v1h-1zM63 8h1v1h-1zM137 8h1v1h-1zM28 9h1v1h-1zM29 10h1v1h-1zM98 11h1v1h-1zM33 12h2v1h-2zM96 13h1v1h-1zM85 14h1v1h-1zM124 15h1v1h-1zM126 15h1v1h-1z"/><path fill="#8adeb4" d="M32 0h1v1h-1zM36 0h1v1h-1zM80 1h1v1h-1zM121 2h1v1h-1zM40 3h1v1h-1zM145 6h1v1h-1zM28 8h1v1h-1zM38 8h1v1h-1zM31 11h1v1h-1zM54 12h1v1h-1zM61 12h1v1h-1zM131 12h1v1h-1zM83 13h1v1h-1zM94 14h1v1h-1zM122 14h1v1h-1z"/><path fill="#8adeae" d="M33 0h1v1h-1zM35 0h1v1h-1zM30 1h1v1h-1zM38 1h1v1h-1zM51 1h1v1h-1zM103 1h1v1h-1zM124 1h1v1h-1zM28 3h1v1h-1zM103 3h1v1h-1zM119 4h1v1h-1zM39 5h1v1h-1zM63 7h1v1h-1zM100 8h1v1h-1zM136 8h1v1h-1zM30 10h1v1h-1zM62 10h1v1h-1zM133 10h1v1h-1zM132 11h1v1h-1zM120 12h1v1h-1zM55 13h1v1h-1zM60 13h1v1h-1zM121 13h1v1h-1zM86 14h1v1h-1zM128 14h1v1h-1z"/><path fill="#8ae4a8" d="M34 0h1v1h-1zM134 0h1v1h-1zM126 1h3v1h-3zM131 1h1v1h-1zM29 2h1v1h-1zM39 2h1v1h-1zM103 2h1v1h-1zM28 4h1v1h-1zM51 4h1v1h-1zM28 7h1v1h-1zM37 9h1v1h-1zM134 9h1v1h-1zM36 10h1v1h-1zM119 10h1v1h-1zM32 11h1v1h-1zM57 14h2v1h-2z"/><path fill="#84d8c6" d="M37 0h1v1h-1zM29 1h1v1h-1zM50 2h1v1h-1zM120 2h1v1h-1zM41 3h1v1h-1zM50 3h1v1h-1zM79 4h1v1h-1zM103 4h1v1h-1zM39 7h1v1h-1zM79 7h1v1h-1zM27 8h1v1h-1zM38 9h1v1h-1zM118 9h1v1h-1zM135 9h1v1h-1zM30 11h1v1h-1zM32 12h1v1h-1zM35 12h1v1h-1zM120 13h1v1h-1zM129 14h1v1h-1zM90 15h2v1h-2zM123 15h1v1h-1zM127 15h1v1h-1z"/><path fill="#8accea" d="M40 0h1v1h-1zM64 0h1v1h-1zM104 0h1v1h-1zM121 0h1v1h-1zM27 1h1v1h-1zM119 1h1v1h-1zM26 2h1v1h-1zM117 2h1v1h-1zM47 4h2v1h-2zM43 5h3v1h-3zM24 6h1v1h-1zM41 6h1v1h-1zM24 7h1v1h-1zM64 7h1v1h-1zM102 7h1v1h-1zM24 8h1v1h-1zM40 8h1v1h-1zM51 8h1v1h-1zM25 9h1v1h-1zM26 10h1v1h-1zM39 10h1v1h-1zM79 10h1v1h-1zM135 10h1v1h-1zM134 11h1v1h-1zM29 12h1v1h-1zM80 12h1v1h-1zM118 12h1v1h-1zM133 12h1v1h-1zM31 13h1v1h-1zM36 13h1v1h-1zM132 13h1v1h-1zM96 14h1v1h-1zM85 15h1v1h-1z"/><path fill="#90ccea" d="M41 0h1v1h-1zM79 0h1v1h-1zM118 1h1v1h-1zM25 3h1v1h-1zM116 3h1v1h-1zM104 4h1v1h-1zM116 4h1v1h-1zM24 5h1v1h-1zM116 5h1v1h-1zM50 6h1v1h-1zM147 6h1v1h-1zM141 8h1v1h-1zM137 9h1v1h-1zM100 10h1v1h-1zM117 10h1v1h-1zM27 11h1v1h-1zM34 14h1v1h-1zM54 14h1v1h-1zM61 14h1v1h-1zM82 14h1v1h-1zM131 14h1v1h-1zM60 15h1v1h-1z"/><path fill="#96d2ea" d="M43 0h6v1h-6zM119 0h1v1h-1zM26 1h1v1h-1zM110 1h2v1h-2zM117 1h1v1h-1zM25 2h1v1h-1zM109 2h2v1h-2zM112 2h4v1h-4zM24 3h1v1h-1zM65 3h1v1h-1zM78 3h1v1h-1zM111 3h1v1h-1zM115 3h1v1h-1zM115 4h1v1h-1zM23 5h1v1h-1zM47 5h2v1h-2zM22 6h1v1h-1zM43 6h2v1h-2zM103 6h1v1h-1zM22 7h1v1h-1zM116 7h1v1h-1zM22 8h1v1h-1zM78 8h1v1h-1zM23 9h1v1h-1zM40 9h1v1h-1zM51 9h1v1h-1zM101 9h1v1h-1zM24 10h1v1h-1zM26 11h1v1h-1zM39 11h1v1h-1zM63 11h1v1h-1zM117 11h1v1h-1zM28 12h1v1h-1zM53 13h1v1h-1zM62 13h1v1h-1zM118 13h1v1h-1zM32 14h1v1h-1z"/><path fill="#84d8cc" d="M51 0h1v1h-1zM149 0h1v1h-1zM41 2h1v1h-1zM27 3h1v1h-1zM64 3h1v1h-1zM149 3h1v1h-1zM118 4h1v1h-1zM40 5h1v1h-1zM99 10h1v1h-1zM53 11h1v1h-1zM62 11h1v1h-1zM81 12h1v1h-1zM121 14h1v1h-1zM89 15h1v1h-1z"/><path fill="#90e4a2" d="M52 0h1v1h-1zM80 2h1v1h-1zM39 3h1v1h-1zM28 5h1v1h-1zM119 5h1v1h-1zM28 6h1v1h-1zM80 9h1v1h-1zM99 9h1v1h-1zM129 13h1v1h-1zM127 14h1v1h-1z"/><path fill="#9cea7e" d="M53 0h1v1h-1zM82 0h1v1h-1zM102 1h1v1h-1zM36 2h1v1h-1zM37 3h1v1h-1zM124 3h1v1h-1zM30 4h1v1h-1zM52 4h1v1h-1zM122 4h1v1h-1zM30 5h1v1h-1zM36 5h1v1h-1zM121 5h1v1h-1zM145 5h1v1h-1zM35 6h1v1h-1zM31 7h1v1h-1zM34 7h1v1h-1zM32 8h2v1h-2zM132 9h1v1h-1zM54 10h1v1h-1zM61 10h1v1h-1zM121 10h1v1h-1zM131 10h1v1h-1zM128 12h1v1h-1zM86 13h1v1h-1z"/><path fill="#a8f06c" d="M54 0h1v1h-1zM61 0h1v1h-1zM83 0h1v1h-1zM101 0h1v1h-1zM137 0h1v1h-1zM53 1h1v1h-1zM82 1h1v1h-1zM62 2h1v1h-1zM81 3h1v1h-1zM133 3h1v1h-1zM125 4h8v1h-8zM62 5h1v1h-1zM124 5h1v1h-1zM123 6h1v1h-1zM134 6h6v1h-6zM99 7h1v1h-1zM122 7h2v1h-2zM132 7h1v1h-1zM81 8h1v1h-1zM122 8h1v1h-1zM131 8h1v1h-1zM123 9h1v1h-1zM130 9h1v1h-1zM82 10h1v1h-1zM123 10h2v1h-2zM129 10h1v1h-1zM83 11h1v1h-1zM124 11h4v1h-4zM85 12h1v1h-1zM88 13h2v1h-2zM92 13h1v1h-1z"/><path fill="#b4f05a" d="M55 0h1v1h-1zM60 0h1v1h-1zM84 0h1v1h-1zM145 0h1v1h-1zM61 1h1v1h-1zM83 1h1v1h-1zM137 1h1v1h-1zM101 2h1v1h-1zM136 2h1v1h-1zM101 3h1v1h-1zM135 3h1v1h-1zM145 3h1v1h-1zM135 4h1v1h-1zM144 4h1v1h-1zM100 5h1v1h-1zM136 5h1v1h-1zM127 7h3v1h-3zM55 9h1v1h-1zM60 9h1v1h-1zM56 10h1v1h-1zM59 10h1v1h-1zM83 10h1v1h-1zM96 10h1v1h-1zM87 12h1v1h-1zM93 12h1v1h-1z"/><path fill="#c0f64e" d="M56 0h1v1h-1zM59 0h1v1h-1zM140 0h1v1h-1zM143 0h1v1h-1zM61 2h1v1h-1zM136 3h1v1h-1zM144 3h1v1h-1zM82 4h1v1h-1zM143 4h1v1h-1zM54 5h1v1h-1zM61 5h1v1h-1zM98 7h1v1h-1zM56 9h1v1h-1zM59 9h1v1h-1zM94 11h1v1h-1zM88 12h1v1h-1zM92 12h1v1h-1z"/><path fill="#c6f648" d="M57 0h2v1h-2zM85 0h1v1h-1zM55 1h1v1h-1zM60 1h1v1h-1zM84 1h1v1h-1zM54 3h1v1h-1zM137 3h1v1h-1zM143 3h1v1h-1zM56 8h1v1h-1zM59 8h1v1h-1zM57 9h2v1h-2zM96 9h1v1h-1zM95 10h1v1h-1zM86 11h1v1h-1z"/><path fill="#96ea84" d="M62 0h1v1h-1zM33 1h3v1h-3zM52 1h1v1h-1zM81 1h1v1h-1zM134 1h1v1h-1zM31 2h1v1h-1zM37 2h1v1h-1zM127 2h2v1h-2zM131 2h2v1h-2zM30 3h1v1h-1zM123 3h1v1h-1zM121 4h1v1h-1zM37 5h1v1h-1zM52 5h1v1h-1zM80 5h1v1h-1zM30 6h1v1h-1zM36 6h1v1h-1zM80 6h1v1h-1zM120 6h1v1h-1zM143 6h1v1h-1zM30 7h1v1h-1zM35 7h2v1h-2zM120 7h1v1h-1zM136 7h1v1h-1zM31 8h1v1h-1zM35 8h1v1h-1zM53 8h1v1h-1zM62 8h1v1h-1zM120 8h1v1h-1zM134 8h1v1h-1zM32 9h3v1h-3zM120 9h1v1h-1zM81 10h1v1h-1zM82 11h1v1h-1zM121 11h1v1h-1zM130 11h1v1h-1zM83 12h1v1h-1zM122 12h1v1h-1zM129 12h1v1h-1zM57 13h2v1h-2zM94 13h1v1h-1zM124 13h4v1h-4z"/><path fill="#8ad8ba" d="M63 0h1v1h-1zM149 1h1v1h-1zM149 2h1v1h-1zM27 5h1v1h-1zM51 5h1v1h-1zM147 5h1v1h-1zM27 6h1v1h-1zM39 6h1v1h-1zM118 6h1v1h-1zM142 7h1v1h-1zM52 8h1v1h-1zM37 10h1v1h-1zM36 11h1v1h-1zM119 11h1v1h-1zM97 12h1v1h-1zM125 15h1v1h-1z"/><path fill="#84d2cc" d="M80 0h1v1h-1zM132 0h1v1h-1zM51 6h1v1h-1zM92 15h1v1h-1z"/><path fill="#90e49c" d="M81 0h1v1h-1zM31 1h1v1h-1zM37 1h1v1h-1zM63 1h1v1h-1zM132 1h1v1h-1zM51 2h1v1h-1zM51 3h1v1h-1zM38 6h1v1h-1zM63 6h1v1h-1zM119 6h1v1h-1zM140 7h1v1h-1zM29 8h1v1h-1zM37 8h1v1h-1zM135 8h1v1h-1zM119 9h1v1h-1zM31 10h1v1h-1zM120 11h1v1h-1zM84 13h1v1h-1zM95 13h1v1h-1zM87 14h1v1h-1zM93 14h1v1h-1zM124 14h1v1h-1zM126 14h1v1h-1z"/><path fill="#d2f636" d="M86 0h1v1h-1zM84 2h1v1h-1zM140 2h2v1h-2zM55 3h1v1h-1zM60 3h1v1h-1zM139 3h2v1h-2zM55 4h1v1h-1zM60 4h1v1h-1zM83 4h1v1h-1zM56 6h4v1h-4zM83 7h1v1h-1zM97 7h1v1h-1zM84 9h1v1h-1zM94 10h1v1h-1zM88 11h1v1h-1z"/><path fill="#e4fc24" d="M87 0h1v1h-1zM86 1h1v1h-1zM85 2h1v1h-1zM99 2h1v1h-1zM57 3h2v1h-2zM99 3h1v1h-1zM84 4h1v1h-1zM97 6h1v1h-1zM84 7h1v1h-1z"/><path fill="#f0fc12" d="M88 0h1v1h-1zM87 1h1v1h-1zM86 2h1v1h-1zM85 4h1v1h-1zM85 5h1v1h-1zM97 5h1v1h-1zM85 6h1v1h-1zM86 8h1v1h-1zM88 9h1v1h-1zM93 9h1v1h-1z"/><path fill="#fcfc06" d="M89 0h1v1h-1zM87 2h1v1h-1zM86 4h1v1h-1zM97 4h1v1h-1zM86 5h1v1h-1zM86 6h1v1h-1zM88 8h1v1h-1zM93 8h1v1h-1z"/><path fill="#fcf600" d="M90 0h1v1h-1zM96 1h1v1h-1zM87 4h1v1h-1zM87 5h1v1h-1zM88 7h1v1h-1zM90 8h2v1h-2z"/><path fill="#fcea06" d="M91 0h1v1h-1zM89 1h1v1h-1zM96 4h1v1h-1zM88 6h1v1h-1zM89 7h1v1h-1z"/><path fill="#fce406" d="M92 0h2v1h-2zM96 2h1v1h-1zM88 3h1v1h-1zM96 3h1v1h-1zM88 5h1v1h-1zM95 5h1v1h-1zM94 6h1v1h-1zM90 7h3v1h-3z"/><path fill="#fcf006" d="M94 0h1v1h-1zM88 2h1v1h-1zM93 7h1v1h-1z"/><path fill="#fcfc00" d="M95 0h1v1h-1zM88 1h1v1h-1zM97 2h1v1h-1zM87 3h1v1h-1zM97 3h1v1h-1zM96 5h1v1h-1zM87 6h1v1h-1zM95 6h1v1h-1zM87 7h1v1h-1zM94 7h1v1h-1zM89 8h1v1h-1zM92 8h1v1h-1z"/><path fill="#f6fc0c" d="M96 0h1v1h-1zM86 3h1v1h-1zM86 7h1v1h-1zM95 7h1v1h-1zM87 8h1v1h-1zM89 9h1v1h-1zM92 9h1v1h-1z"/><path fill="#eafc18" d="M97 0h1v1h-1zM98 1h1v1h-1zM85 3h1v1h-1zM98 4h1v1h-1zM85 7h1v1h-1zM87 9h1v1h-1zM89 10h3v1h-3z"/><path fill="#d8fc2a" d="M98 0h1v1h-1zM99 1h1v1h-1zM84 3h1v1h-1zM56 4h1v1h-1zM59 4h1v1h-1zM84 8h1v1h-1zM85 9h1v1h-1z"/><path fill="#ccf63c" d="M99 0h1v1h-1zM56 1h1v1h-1zM59 1h1v1h-1zM140 1h3v1h-3zM55 2h1v1h-1zM60 2h1v1h-1zM100 2h1v1h-1zM139 2h1v1h-1zM142 2h1v1h-1zM83 3h1v1h-1zM100 3h1v1h-1zM138 3h1v1h-1zM141 3h2v1h-2zM140 4h1v1h-1zM55 5h1v1h-1zM60 5h1v1h-1zM99 5h1v1h-1zM98 6h1v1h-1zM56 7h4v1h-4zM57 8h2v1h-2zM83 8h1v1h-1zM85 10h1v1h-1zM87 11h1v1h-1zM93 11h1v1h-1z"/><path fill="#baf054" d="M100 0h1v1h-1zM139 0h1v1h-1zM144 0h1v1h-1zM145 1h1v1h-1zM145 2h1v1h-1zM82 3h1v1h-1zM137 5h5v1h-5zM54 6h1v1h-1zM61 6h1v1h-1zM99 6h1v1h-1zM82 8h1v1h-1zM85 11h1v1h-1z"/><path fill="#90ea8a" d="M102 0h1v1h-1zM32 1h1v1h-1zM36 1h1v1h-1zM63 2h1v1h-1zM125 2h1v1h-1zM38 3h1v1h-1zM122 3h1v1h-1zM29 4h1v1h-1zM38 4h1v1h-1zM63 4h1v1h-1zM102 4h1v1h-1zM147 4h1v1h-1zM29 5h1v1h-1zM120 5h1v1h-1zM29 6h1v1h-1zM37 6h1v1h-1zM138 7h1v1h-1zM30 8h1v1h-1zM36 8h1v1h-1zM31 9h1v1h-1zM35 9h1v1h-1zM133 9h1v1h-1zM120 10h1v1h-1zM97 11h1v1h-1zM55 12h1v1h-1zM60 12h1v1h-1zM85 13h1v1h-1zM123 13h1v1h-1zM89 14h1v1h-1zM91 14h1v1h-1z"/><path fill="#9cd2f0" d="M105 0h1v1h-1zM109 1h1v1h-1zM113 1h1v1h-1zM116 1h1v1h-1zM65 2h1v1h-1zM78 2h1v1h-1zM112 3h3v1h-3zM23 4h1v1h-1zM65 4h1v1h-1zM22 5h1v1h-1zM45 6h1v1h-1zM21 7h1v1h-1zM50 7h1v1h-1zM116 8h1v1h-1zM22 9h1v1h-1zM138 9h1v1h-1zM23 10h1v1h-1zM136 10h1v1h-1zM25 11h1v1h-1zM99 12h1v1h-1zM29 13h1v1h-1zM80 13h1v1h-1zM81 14h1v1h-1zM97 14h1v1h-1zM83 15h1v1h-1z"/><path fill="#aed8f0" d="M107 0h1v1h-1zM115 0h1v1h-1zM24 1h1v1h-1zM21 3h1v1h-1zM16 4h4v1h-4zM12 5h2v1h-2zM114 5h1v1h-1zM11 6h1v1h-1zM10 7h1v1h-1zM45 7h1v1h-1zM10 8h1v1h-1zM42 8h1v1h-1zM11 9h1v1h-1zM12 10h2v1h-2zM137 10h1v1h-1zM16 11h4v1h-4zM23 12h1v1h-1zM27 13h1v1h-1zM80 14h1v1h-1zM36 15h1v1h-1z"/><path fill="#84ccde" d="M123 0h1v1h-1zM64 1h1v1h-1zM27 2h1v1h-1zM49 2h1v1h-1zM79 2h1v1h-1zM104 2h1v1h-1zM46 3h1v1h-1zM42 4h1v1h-1zM117 5h1v1h-1zM117 6h1v1h-1zM34 13h1v1h-1zM130 14h1v1h-1zM87 15h1v1h-1zM93 15h1v1h-1z"/><path fill="#84d2d2" d="M125 0h4v1h-4zM131 0h1v1h-1zM40 1h1v1h-1zM50 1h1v1h-1zM121 1h1v1h-1zM42 2h1v1h-1zM44 2h1v1h-1zM64 2h1v1h-1zM42 3h3v1h-3zM79 3h1v1h-1zM41 4h1v1h-1zM64 4h1v1h-1zM26 5h1v1h-1zM26 6h1v1h-1zM102 6h1v1h-1zM26 7h1v1h-1zM143 7h1v1h-1zM79 8h1v1h-1zM138 8h1v1h-1zM52 9h1v1h-1zM118 10h1v1h-1zM134 10h1v1h-1zM37 11h1v1h-1zM133 11h1v1h-1zM36 12h1v1h-1zM119 12h1v1h-1zM132 12h1v1h-1zM82 13h1v1h-1zM84 14h1v1h-1zM95 14h1v1h-1zM88 15h1v1h-1z"/><path fill="#90ea90" d="M135 0h1v1h-1zM133 1h1v1h-1zM30 2h1v1h-1zM124 2h1v1h-1zM80 3h1v1h-1zM63 5h1v1h-1zM146 5h1v1h-1zM52 6h1v1h-1zM29 7h1v1h-1zM37 7h1v1h-1zM80 8h1v1h-1zM53 9h1v1h-1zM62 9h1v1h-1zM32 10h3v1h-3zM98 10h1v1h-1zM132 10h1v1h-1zM54 11h1v1h-1zM61 11h1v1h-1zM131 11h1v1h-1zM96 12h1v1h-1zM121 12h1v1h-1zM56 13h1v1h-1zM59 13h1v1h-1zM128 13h1v1h-1zM88 14h1v1h-1zM92 14h1v1h-1z"/><path fill="#9cf07e" d="M136 0h1v1h-1zM52 2h1v1h-1zM102 3h1v1h-1zM142 6h1v1h-1zM135 7h1v1h-1zM133 8h1v1h-1zM123 12h1v1h-1z"/><path fill="#b4f060" d="M138 0h1v1h-1zM101 1h1v1h-1zM146 1h1v1h-1zM82 2h1v1h-1zM146 2h1v1h-1zM53 3h1v1h-1zM134 4h1v1h-1zM135 5h1v1h-1zM142 5h1v1h-1zM126 6h5v1h-5zM54 7h1v1h-1zM61 7h1v1h-1zM126 7h1v1h-1zM130 7h1v1h-1zM126 8h4v1h-4zM82 9h1v1h-1zM97 9h1v1h-1zM127 9h1v1h-1zM57 11h2v1h-2zM84 11h1v1h-1zM95 11h1v1h-1z"/><path fill="#c0f648" d="M141 0h2v1h-2zM138 1h1v1h-1zM144 1h1v1h-1zM54 2h1v1h-1zM83 2h1v1h-1zM137 2h1v1h-1zM144 2h1v1h-1zM61 3h1v1h-1zM54 4h1v1h-1zM61 4h1v1h-1zM100 4h1v1h-1zM137 4h1v1h-1zM142 4h1v1h-1zM82 5h1v1h-1zM82 6h1v1h-1zM55 7h1v1h-1zM60 7h1v1h-1zM82 7h1v1h-1zM97 8h1v1h-1zM83 9h1v1h-1zM84 10h1v1h-1zM89 12h3v1h-3z"/><path fill="#a8f066" d="M146 0h1v1h-1zM136 1h1v1h-1zM62 4h1v1h-1zM81 4h1v1h-1zM101 4h1v1h-1zM53 5h1v1h-1zM125 5h1v1h-1zM133 6h1v1h-1zM81 7h1v1h-1zM123 8h1v1h-1zM55 10h1v1h-1zM60 10h1v1h-1zM128 10h1v1h-1zM56 11h1v1h-1zM59 11h1v1h-1zM91 13h1v1h-1z"/><path fill="#9cf078" d="M147 0h1v1h-1zM32 2h1v1h-1zM35 2h1v1h-1zM81 2h1v1h-1zM102 2h1v1h-1zM133 2h1v1h-1zM31 3h1v1h-1zM36 3h1v1h-1zM52 3h1v1h-1zM125 3h2v1h-2zM147 3h1v1h-1zM36 4h1v1h-1zM123 4h1v1h-1zM31 5h1v1h-1zM35 5h1v1h-1zM101 5h1v1h-1zM31 6h1v1h-1zM34 6h1v1h-1zM121 6h1v1h-1zM32 7h2v1h-2zM53 7h1v1h-1zM62 7h1v1h-1zM81 9h1v1h-1zM98 9h1v1h-1zM121 9h1v1h-1zM122 11h1v1h-1zM129 11h1v1h-1zM56 12h1v1h-1zM59 12h1v1h-1zM84 12h1v1h-1zM95 12h1v1h-1zM124 12h1v1h-1zM127 12h1v1h-1z"/><path fill="#90e496" d="M148 0h1v1h-1zM38 2h1v1h-1zM123 2h1v1h-1zM29 3h1v1h-1zM121 3h1v1h-1zM148 3h1v1h-1zM120 4h1v1h-1zM38 5h1v1h-1zM101 6h1v1h-1zM144 6h1v1h-1zM119 7h1v1h-1zM139 7h1v1h-1zM119 8h1v1h-1zM30 9h1v1h-1zM36 9h1v1h-1zM35 10h1v1h-1zM130 12h1v1h-1zM122 13h1v1h-1zM125 14h1v1h-1z"/><path fill="#f0fcfc" d="M0 1h1v1h-1zM42 12h1v1h-1zM0 14h1v1h-1z"/><path fill="#cceaf6" d="M7 1h1v1h-1zM5 2h1v1h-1zM4 3h1v1h-1zM3 5h1v1h-1zM109 6h1v1h-1zM111 6h1v1h-1zM2 7h1v1h-1zM66 7h1v1h-1zM2 8h1v1h-1zM43 9h1v1h-1zM49 9h1v1h-1zM3 10h1v1h-1zM42 10h1v1h-1zM139 10h1v1h-1zM4 12h1v1h-1zM101 12h1v1h-1zM136 12h1v1h-1zM5 13h1v1h-1zM40 13h1v1h-1zM135 13h1v1h-1zM7 14h1v1h-1zM9 15h2v1h-2zM22 15h6v1h-6zM79 15h1v1h-1z"/><path fill="#badef0" d="M22 1h1v1h-1zM12 2h8v1h-8zM10 3h1v1h-1zM8 4h1v1h-1zM7 5h1v1h-1zM109 5h1v1h-1zM112 5h1v1h-1zM114 6h1v1h-1zM6 7h1v1h-1zM48 7h1v1h-1zM147 7h1v1h-1zM6 8h1v1h-1zM43 8h1v1h-1zM77 8h1v1h-1zM115 8h1v1h-1zM50 9h1v1h-1zM7 10h1v1h-1zM41 10h1v1h-1zM8 11h1v1h-1zM10 12h1v1h-1zM135 12h1v1h-1zM12 13h10v1h-10zM28 14h1v1h-1zM30 15h1v1h-1zM37 15h1v1h-1z"/><path fill="#a2d8f0" d="M25 1h1v1h-1zM78 1h1v1h-1zM106 1h3v1h-3zM24 2h1v1h-1zM107 2h1v1h-1zM23 3h1v1h-1zM108 3h1v1h-1zM22 4h1v1h-1zM114 4h1v1h-1zM21 5h1v1h-1zM20 6h1v1h-1zM49 6h1v1h-1zM19 7h2v1h-2zM146 7h1v1h-1zM19 8h2v1h-2zM102 8h1v1h-1zM20 9h1v1h-1zM116 9h1v1h-1zM21 10h1v1h-1zM40 10h1v1h-1zM23 11h1v1h-1zM100 11h1v1h-1zM135 11h1v1h-1zM26 12h1v1h-1zM52 12h1v1h-1zM79 12h1v1h-1zM117 12h1v1h-1zM134 12h1v1h-1zM38 13h1v1h-1zM34 15h1v1h-1zM96 15h1v1h-1zM119 15h1v1h-1zM131 15h1v1h-1z"/><path fill="#84cce4" d="M28 1h1v1h-1zM41 1h2v1h-2zM104 1h1v1h-1zM120 1h1v1h-1zM47 2h2v1h-2zM26 3h1v1h-1zM47 3h1v1h-1zM49 3h1v1h-1zM43 4h3v1h-3zM117 4h1v1h-1zM41 5h1v1h-1zM25 6h1v1h-1zM64 6h1v1h-1zM51 7h1v1h-1zM117 7h1v1h-1zM139 8h1v1h-1zM39 9h1v1h-1zM79 9h1v1h-1zM136 9h1v1h-1zM118 11h1v1h-1zM30 12h1v1h-1zM33 13h1v1h-1zM35 13h1v1h-1zM120 14h1v1h-1zM56 15h1v1h-1zM59 15h1v1h-1z"/><path fill="#b4f054" d="M54 1h1v1h-1z"/><path fill="#d2f630" d="M57 1h2v1h-2zM85 1h1v1h-1zM92 11h1v1h-1z"/><path fill="#a2f078" d="M62 1h1v1h-1zM135 1h1v1h-1zM33 2h2v1h-2zM127 3h5v1h-5zM31 4h1v1h-1zM146 4h1v1h-1zM34 5h1v1h-1zM122 5h1v1h-1zM32 6h2v1h-2zM141 6h1v1h-1zM121 7h1v1h-1zM134 7h1v1h-1zM121 8h1v1h-1zM97 10h1v1h-1zM130 10h1v1h-1zM55 11h1v1h-1zM60 11h1v1h-1zM125 12h2v1h-2zM87 13h1v1h-1zM93 13h1v1h-1z"/><path fill="#fcd80c" d="M90 1h1v1h-1zM89 2h1v1h-1zM90 6h1v1h-1zM93 6h1v1h-1z"/><path fill="#fccc0c" d="M91 1h1v1h-1zM94 1h1v1h-1zM95 2h1v1h-1zM89 3h1v1h-1zM95 3h1v1h-1zM89 4h1v1h-1zM90 5h1v1h-1z"/><path fill="#fcc60c" d="M92 1h2v1h-2zM90 2h1v1h-1zM93 5h1v1h-1z"/><path fill="#fcde06" d="M95 1h1v1h-1zM88 4h1v1h-1z"/><path fill="#f6fc06" d="M97 1h1v1h-1zM90 9h2v1h-2z"/><path fill="#c6f642" d="M100 1h1v1h-1zM139 1h1v1h-1zM143 1h1v1h-1zM143 2h1v1h-1zM138 4h1v1h-1zM141 4h1v1h-1zM55 6h1v1h-1zM60 6h1v1h-1z"/><path fill="#9cd2ea" d="M112 1h1v1h-1zM105 3h1v1h-1zM110 3h1v1h-1zM142 8h1v1h-1zM98 13h1v1h-1zM36 14h1v1h-1z"/><path fill="#8adeba" d="M123 1h1v1h-1zM148 4h1v1h-1zM118 7h1v1h-1zM80 10h1v1h-1zM130 13h1v1h-1zM56 14h1v1h-1zM59 14h1v1h-1z"/><path fill="#8adea8" d="M125 1h1v1h-1zM129 1h2v1h-2zM120 3h1v1h-1zM102 5h1v1h-1zM38 7h1v1h-1zM141 7h1v1h-1zM29 9h1v1h-1zM53 10h1v1h-1zM35 11h1v1h-1z"/><path fill="#a2f072" d="M147 1h1v1h-1zM134 2h1v1h-1zM147 2h1v1h-1zM32 3h1v1h-1zM35 3h1v1h-1zM132 3h1v1h-1zM32 4h1v1h-1zM35 4h1v1h-1zM124 4h1v1h-1zM32 5h2v1h-2zM62 6h1v1h-1zM100 6h1v1h-1zM122 6h1v1h-1zM132 8h1v1h-1zM54 9h1v1h-1zM61 9h1v1h-1zM131 9h1v1h-1zM122 10h1v1h-1zM96 11h1v1h-1zM123 11h1v1h-1zM128 11h1v1h-1z"/><path fill="#96ea8a" d="M148 1h1v1h-1zM126 2h1v1h-1zM129 2h2v1h-2zM148 2h1v1h-1zM63 3h1v1h-1zM80 4h1v1h-1zM80 7h1v1h-1zM100 7h1v1h-1zM137 7h1v1h-1zM90 14h1v1h-1z"/><path fill="#c0e4f6" d="M8 2h1v1h-1zM66 5h1v1h-1zM107 5h1v1h-1zM4 7h1v1h-1zM4 8h1v1h-1zM45 8h1v1h-1zM77 10h1v1h-1zM8 13h1v1h-1zM24 14h2v1h-2z"/><path fill="#aedef0" d="M22 2h1v1h-1zM20 3h1v1h-1zM12 4h4v1h-4zM108 4h1v1h-1zM10 5h2v1h-2zM9 6h2v1h-2zM9 7h1v1h-1zM49 7h1v1h-1zM65 7h1v1h-1zM115 7h1v1h-1zM9 8h1v1h-1zM9 9h2v1h-2zM10 10h2v1h-2zM12 11h4v1h-4zM40 11h1v1h-1zM78 11h1v1h-1zM20 12h3v1h-3zM117 13h1v1h-1zM29 14h1v1h-1z"/><path fill="#84ccd8" d="M46 2h1v1h-1zM26 4h1v1h-1zM26 8h1v1h-1zM100 9h1v1h-1zM29 11h1v1h-1zM54 13h1v1h-1zM61 13h1v1h-1z"/><path fill="#aef060" d="M53 2h1v1h-1zM53 4h1v1h-1zM127 5h5v1h-5zM134 5h1v1h-1zM125 6h1v1h-1zM131 6h1v1h-1zM125 7h1v1h-1zM131 7h1v1h-1zM125 8h1v1h-1zM130 8h1v1h-1zM125 9h2v1h-2zM128 9h1v1h-1zM86 12h1v1h-1z"/><path fill="#d8f630" d="M56 2h1v1h-1zM59 2h1v1h-1zM99 4h1v1h-1zM56 5h4v1h-4zM83 5h1v1h-1zM83 6h1v1h-1zM96 8h1v1h-1zM95 9h1v1h-1zM86 10h1v1h-1zM89 11h3v1h-3z"/><path fill="#defc24" d="M57 2h2v1h-2zM57 4h2v1h-2zM98 5h1v1h-1zM87 10h1v1h-1zM93 10h1v1h-1z"/><path fill="#f6ba12" d="M91 2h1v1h-1zM93 2h1v1h-1zM91 3h1v1h-1zM91 4h3v1h-3z"/><path fill="#f6b412" d="M92 2h1v1h-1zM92 3h2v1h-2z"/><path fill="#fcc012" d="M94 2h1v1h-1zM90 3h1v1h-1zM90 4h1v1h-1z"/><path fill="#f0fc0c" d="M98 2h1v1h-1zM98 3h1v1h-1zM96 6h1v1h-1zM94 8h1v1h-1z"/><path fill="#8ae4a2" d="M122 2h1v1h-1zM39 4h1v1h-1zM52 7h1v1h-1zM33 11h2v1h-2zM81 11h1v1h-1zM82 12h1v1h-1zM123 14h1v1h-1z"/><path fill="#aef066" d="M135 2h1v1h-1zM62 3h1v1h-1zM134 3h1v1h-1zM146 3h1v1h-1zM133 4h1v1h-1zM145 4h1v1h-1zM81 5h1v1h-1zM126 5h1v1h-1zM132 5h2v1h-2zM143 5h1v1h-1zM81 6h1v1h-1zM124 6h1v1h-1zM132 6h1v1h-1zM124 7h1v1h-1zM54 8h1v1h-1zM61 8h1v1h-1zM98 8h1v1h-1zM124 8h1v1h-1zM124 9h1v1h-1zM129 9h1v1h-1zM125 10h3v1h-3zM94 12h1v1h-1zM90 13h1v1h-1z"/><path fill="#ccf642" d="M138 2h1v1h-1zM139 4h1v1h-1z"/><path fill="#a8f072" d="M33 3h2v1h-2zM33 4h2v1h-2zM123 5h1v1h-1zM144 5h1v1h-1zM53 6h1v1h-1zM140 6h1v1h-1zM133 7h1v1h-1zM122 9h1v1h-1zM57 12h2v1h-2z"/><path fill="#defc2a" d="M56 3h1v1h-1zM59 3h1v1h-1z"/><path fill="#eaf0fc" d="M75 3h1v1h-1zM75 6h1v1h-1z"/><path fill="#f6c012" d="M94 3h1v1h-1z"/><path fill="#9cea84" d="M37 4h1v1h-1zM34 8h1v1h-1zM99 8h1v1h-1z"/><path fill="#84d8ba" d="M40 4h1v1h-1zM118 8h1v1h-1z"/><path fill="#fcc612" d="M94 4h1v1h-1zM91 5h2v1h-2z"/><path fill="#fcd20c" d="M95 4h1v1h-1zM89 5h1v1h-1zM94 5h1v1h-1zM91 6h2v1h-2z"/><path fill="#baf654" d="M136 4h1v1h-1zM55 8h1v1h-1zM60 8h1v1h-1zM57 10h2v1h-2z"/><path fill="#e4fc1e" d="M84 5h1v1h-1zM84 6h1v1h-1zM96 7h1v1h-1zM85 8h1v1h-1zM95 8h1v1h-1zM86 9h1v1h-1zM94 9h1v1h-1zM88 10h1v1h-1zM92 10h1v1h-1z"/><path fill="#fcde0c" d="M89 6h1v1h-1z"/></g><g transform="translate(134.3,1713.7) scale(3.966666666666667,8.873684210526312)" shape-rendering="crispEdges"><path fill="#c8e8f0" d="M1 0h1v1h-1zM3 0h1v1h-1zM81 0h1v1h-1zM118 0h1v1h-1zM123 0h1v1h-1zM220 0h1v1h-1zM259 0h1v1h-1zM18 1h1v1h-1zM32 1h1v1h-1zM43 1h1v1h-1zM50 1h1v1h-1zM119 1h1v1h-1zM171 1h1v1h-1zM282 1h1v1h-1zM18 2h1v1h-1zM33 2h1v1h-1zM50 2h1v1h-1zM199 3h1v1h-1zM209 3h1v1h-1zM250 3h1v1h-1zM26 4h1v1h-1zM90 4h1v1h-1zM99 4h1v1h-1zM209 4h1v1h-1zM295 4h1v1h-1zM62 5h1v1h-1zM66 5h1v1h-1zM134 5h1v1h-1zM266 5h1v1h-1zM292 5h1v1h-1zM59 6h1v1h-1zM72 6h1v1h-1zM90 6h1v1h-1zM200 6h1v1h-1zM237 6h2v1h-2zM89 7h1v1h-1zM97 7h1v1h-1zM279 7h1v1h-1zM89 8h1v1h-1zM165 8h1v1h-1zM220 8h1v1h-1zM291 8h1v1h-1zM20 9h1v1h-1zM94 9h1v1h-1zM269 9h1v1h-1zM39 10h1v1h-1zM52 10h1v1h-1zM60 10h1v1h-1zM63 10h1v1h-1zM85 10h1v1h-1zM156 10h1v1h-1zM158 10h1v1h-1zM264 10h1v1h-1zM56 11h1v1h-1zM61 11h1v1h-1zM204 11h1v1h-1zM228 11h1v1h-1zM248 11h1v1h-1zM256 11h1v1h-1zM284 11h1v1h-1zM45 12h1v1h-1zM57 12h1v1h-1zM229 12h1v1h-1zM272 12h1v1h-1zM284 12h1v1h-1zM286 12h1v1h-1zM55 13h1v1h-1zM36 14h1v1h-1zM42 14h1v1h-1zM114 14h1v1h-1zM277 14h1v1h-1zM43 15h1v1h-1zM91 15h1v1h-1zM112 15h1v1h-1zM188 15h1v1h-1zM229 15h1v1h-1zM231 15h1v1h-1zM250 15h1v1h-1zM256 15h1v1h-1zM261 15h1v1h-1zM273 15h1v1h-1zM281 15h1v1h-1zM88 16h1v1h-1zM188 16h1v1h-1zM237 16h1v1h-1zM257 16h1v1h-1zM270 16h1v1h-1zM276 16h1v1h-1zM285 16h1v1h-1zM197 17h2v1h-2zM204 17h1v1h-1zM250 17h1v1h-1zM182 18h1v1h-1zM187 18h1v1h-1zM192 18h1v1h-1zM276 18h1v1h-1z"/><path fill="#b8e0f0" d="M2 0h1v1h-1zM5 0h1v1h-1zM37 0h1v1h-1zM42 0h1v1h-1zM104 0h1v1h-1zM120 0h1v1h-1zM124 0h1v1h-1zM275 0h1v1h-1zM278 0h2v1h-2zM283 0h1v1h-1zM286 0h1v1h-1zM11 1h1v1h-1zM19 1h1v1h-1zM21 1h1v1h-1zM39 1h1v1h-1zM42 1h1v1h-1zM56 1h2v1h-2zM120 1h1v1h-1zM128 1h1v1h-1zM166 1h1v1h-1zM247 1h1v1h-1zM252 1h1v1h-1zM22 2h1v1h-1zM34 2h1v1h-1zM36 2h1v1h-1zM40 2h1v1h-1zM84 2h1v1h-1zM162 2h1v1h-1zM249 2h1v1h-1zM254 2h1v1h-1zM258 2h1v1h-1zM46 3h1v1h-1zM81 3h1v1h-1zM100 3h1v1h-1zM109 3h1v1h-1zM116 3h1v1h-1zM133 3h1v1h-1zM157 3h1v1h-1zM214 3h1v1h-1zM38 4h1v1h-1zM51 4h1v1h-1zM84 4h1v1h-1zM127 4h1v1h-1zM130 4h1v1h-1zM217 4h1v1h-1zM260 4h1v1h-1zM293 4h1v1h-1zM27 5h1v1h-1zM40 5h1v1h-1zM50 5h1v1h-1zM84 5h1v1h-1zM115 5h1v1h-1zM155 5h1v1h-1zM209 5h1v1h-1zM229 5h1v1h-1zM249 5h1v1h-1zM265 5h1v1h-1zM1 6h1v1h-1zM11 6h1v1h-1zM39 6h1v1h-1zM48 6h2v1h-2zM128 6h1v1h-1zM154 6h1v1h-1zM177 6h1v1h-1zM221 6h2v1h-2zM224 6h1v1h-1zM226 6h1v1h-1zM267 6h1v1h-1zM24 7h1v1h-1zM98 7h1v1h-1zM104 7h1v1h-1zM122 7h1v1h-1zM220 7h1v1h-1zM224 7h1v1h-1zM257 7h1v1h-1zM21 8h2v1h-2zM50 8h2v1h-2zM96 8h1v1h-1zM156 8h1v1h-1zM170 8h1v1h-1zM286 8h1v1h-1zM294 8h1v1h-1zM17 9h1v1h-1zM19 9h1v1h-1zM51 9h1v1h-1zM58 9h1v1h-1zM61 9h1v1h-1zM84 9h1v1h-1zM131 9h1v1h-1zM156 9h1v1h-1zM266 9h1v1h-1zM47 10h1v1h-1zM57 10h1v1h-1zM71 10h1v1h-1zM83 10h1v1h-1zM38 11h1v1h-1zM52 11h2v1h-2zM71 11h1v1h-1zM73 11h1v1h-1zM84 11h1v1h-1zM206 11h1v1h-1zM247 11h1v1h-1zM72 12h1v1h-1zM106 12h1v1h-1zM131 12h1v1h-1zM159 12h1v1h-1zM231 12h1v1h-1zM235 12h1v1h-1zM256 12h2v1h-2zM49 13h1v1h-1zM63 13h1v1h-1zM78 13h1v1h-1zM86 13h1v1h-1zM247 13h1v1h-1zM257 13h1v1h-1zM266 13h1v1h-1zM270 13h1v1h-1zM45 14h1v1h-1zM48 14h1v1h-1zM71 14h1v1h-1zM85 14h1v1h-1zM88 14h1v1h-1zM119 14h1v1h-1zM122 14h1v1h-1zM126 14h1v1h-1zM160 14h1v1h-1zM270 14h1v1h-1zM280 14h1v1h-1zM39 15h2v1h-2zM165 15h1v1h-1zM232 15h1v1h-1zM235 15h1v1h-1zM237 15h1v1h-1zM247 15h1v1h-1zM255 15h1v1h-1zM280 15h1v1h-1zM172 16h1v1h-1zM177 16h1v1h-1zM179 16h1v1h-1zM181 16h1v1h-1zM239 16h1v1h-1zM260 16h1v1h-1zM275 16h1v1h-1zM277 16h1v1h-1zM175 17h1v1h-1zM191 17h2v1h-2zM247 17h1v1h-1zM271 17h1v1h-1z"/><path fill="#f8ffff" d="M4 0h1v1h-1zM30 0h2v1h-2zM46 0h1v1h-1zM59 0h1v1h-1zM103 0h1v1h-1zM256 0h1v1h-1zM264 0h1v1h-1zM269 0h1v1h-1zM276 0h1v1h-1zM59 1h1v1h-1zM61 1h1v1h-1zM230 1h1v1h-1zM259 1h1v1h-1zM264 1h1v1h-1zM267 1h1v1h-1zM28 2h1v1h-1zM61 2h1v1h-1zM87 2h1v1h-1zM128 2h1v1h-1zM218 2h1v1h-1zM28 3h1v1h-1zM84 3h1v1h-1zM160 3h1v1h-1zM67 4h1v1h-1zM156 4h1v1h-1zM212 4h1v1h-1zM35 5h1v1h-1zM46 5h1v1h-1zM58 5h1v1h-1zM153 5h1v1h-1zM212 5h1v1h-1zM99 7h1v1h-1zM247 7h1v1h-1zM215 8h1v1h-1zM103 9h1v1h-1zM215 9h1v1h-1zM24 10h1v1h-1zM135 10h1v1h-1zM296 10h1v1h-1zM4 11h1v1h-1zM230 11h1v1h-1zM291 11h1v1h-1zM7 12h1v1h-1zM35 12h1v1h-1zM93 12h1v1h-1zM133 12h1v1h-1zM217 12h2v1h-2zM248 12h1v1h-1zM263 12h1v1h-1zM11 13h2v1h-2zM15 13h1v1h-1zM50 13h1v1h-1zM95 13h1v1h-1zM209 13h1v1h-1zM217 13h3v1h-3zM232 13h1v1h-1zM296 13h1v1h-1zM132 14h1v1h-1zM222 14h1v1h-1zM294 14h1v1h-1zM81 15h1v1h-1zM221 15h1v1h-1zM270 15h1v1h-1zM282 15h1v1h-1zM297 15h1v1h-1zM66 16h1v1h-1zM280 16h1v1h-1zM294 16h3v1h-3zM41 17h1v1h-1zM43 17h1v1h-1zM110 17h1v1h-1zM158 17h1v1h-1zM182 17h1v1h-1zM200 17h1v1h-1zM208 17h1v1h-1zM227 17h1v1h-1zM41 18h1v1h-1zM113 18h1v1h-1zM121 18h2v1h-2zM165 18h1v1h-1zM204 18h2v1h-2zM234 18h1v1h-1zM247 18h1v1h-1zM251 18h1v1h-1zM253 18h1v1h-1zM284 18h1v1h-1z"/><path fill="#98d0f0" d="M6 0h1v1h-1zM108 0h1v1h-1zM113 0h1v1h-1zM184 0h1v1h-1zM191 0h1v1h-1zM196 0h1v1h-1zM2 1h1v1h-1zM40 1h1v1h-1zM96 1h1v1h-1zM167 1h1v1h-1zM206 1h1v1h-1zM223 1h1v1h-1zM245 1h2v1h-2zM81 2h1v1h-1zM92 2h1v1h-1zM97 2h1v1h-1zM179 2h1v1h-1zM190 2h1v1h-1zM216 2h1v1h-1zM222 2h1v1h-1zM288 2h1v1h-1zM19 3h1v1h-1zM53 3h1v1h-1zM77 3h1v1h-1zM124 3h1v1h-1zM39 4h2v1h-2zM53 4h1v1h-1zM58 4h1v1h-1zM94 4h1v1h-1zM98 4h1v1h-1zM118 4h1v1h-1zM126 4h1v1h-1zM158 4h1v1h-1zM163 4h1v1h-1zM167 4h1v1h-1zM208 4h1v1h-1zM251 4h1v1h-1zM263 4h1v1h-1zM265 4h1v1h-1zM56 5h1v1h-1zM76 5h1v1h-1zM95 5h1v1h-1zM122 5h1v1h-1zM217 5h1v1h-1zM252 5h1v1h-1zM293 5h1v1h-1zM12 6h1v1h-1zM28 6h1v1h-1zM45 6h1v1h-1zM53 6h1v1h-1zM56 6h1v1h-1zM61 6h1v1h-1zM91 6h1v1h-1zM94 6h1v1h-1zM121 6h1v1h-1zM155 6h1v1h-1zM160 6h1v1h-1zM217 6h1v1h-1zM247 6h1v1h-1zM269 6h1v1h-1zM271 6h1v1h-1zM28 7h1v1h-1zM47 7h1v1h-1zM51 7h1v1h-1zM59 7h1v1h-1zM62 7h1v1h-1zM69 7h1v1h-1zM74 7h1v1h-1zM96 7h1v1h-1zM128 7h1v1h-1zM155 7h1v1h-1zM217 7h1v1h-1zM250 7h1v1h-1zM258 7h1v1h-1zM264 7h1v1h-1zM57 8h1v1h-1zM61 8h1v1h-1zM69 8h1v1h-1zM75 8h1v1h-1zM84 8h1v1h-1zM95 8h1v1h-1zM158 8h1v1h-1zM234 8h2v1h-2zM14 9h1v1h-1zM65 9h1v1h-1zM71 9h1v1h-1zM75 9h1v1h-1zM77 9h1v1h-1zM114 9h1v1h-1zM116 9h1v1h-1zM207 9h1v1h-1zM231 9h1v1h-1zM239 9h1v1h-1zM241 9h1v1h-1zM15 10h1v1h-1zM59 10h1v1h-1zM69 10h1v1h-1zM72 10h1v1h-1zM78 10h1v1h-1zM106 10h1v1h-1zM112 10h1v1h-1zM160 10h1v1h-1zM281 10h1v1h-1zM45 11h1v1h-1zM55 11h1v1h-1zM82 11h1v1h-1zM88 11h1v1h-1zM118 11h1v1h-1zM125 11h1v1h-1zM262 11h1v1h-1zM266 11h1v1h-1zM63 12h1v1h-1zM107 12h1v1h-1zM113 12h1v1h-1zM264 12h2v1h-2zM275 12h1v1h-1zM44 13h1v1h-1zM87 13h1v1h-1zM93 13h1v1h-1zM118 13h1v1h-1zM120 13h1v1h-1zM124 13h1v1h-1zM267 13h1v1h-1zM89 14h1v1h-1zM195 14h1v1h-1zM262 14h1v1h-1zM269 14h1v1h-1zM281 14h1v1h-1zM64 15h2v1h-2zM181 15h1v1h-1zM204 15h1v1h-1zM238 15h1v1h-1zM246 15h1v1h-1zM67 16h1v1h-1zM259 16h1v1h-1zM194 17h1v1h-1z"/><path fill="#a8d8f0" d="M7 0h1v1h-1zM106 0h1v1h-1zM172 0h4v1h-4zM177 0h1v1h-1zM190 0h1v1h-1zM207 0h1v1h-1zM12 1h1v1h-1zM38 1h1v1h-1zM41 1h1v1h-1zM95 1h1v1h-1zM98 1h1v1h-1zM102 1h1v1h-1zM129 1h1v1h-1zM221 1h1v1h-1zM257 1h1v1h-1zM285 1h1v1h-1zM20 2h1v1h-1zM45 2h2v1h-2zM52 2h2v1h-2zM90 2h1v1h-1zM100 2h1v1h-1zM129 2h1v1h-1zM161 2h1v1h-1zM166 2h1v1h-1zM168 2h1v1h-1zM171 2h1v1h-1zM205 2h1v1h-1zM227 2h1v1h-1zM256 2h1v1h-1zM262 2h1v1h-1zM280 2h1v1h-1zM295 2h1v1h-1zM21 3h1v1h-1zM102 3h1v1h-1zM108 3h1v1h-1zM158 3h2v1h-2zM252 3h1v1h-1zM260 3h2v1h-2zM24 4h1v1h-1zM44 4h1v1h-1zM50 4h1v1h-1zM56 4h1v1h-1zM59 4h1v1h-1zM76 4h1v1h-1zM219 4h1v1h-1zM294 4h1v1h-1zM1 5h1v1h-1zM26 5h1v1h-1zM51 5h1v1h-1zM96 5h1v1h-1zM219 5h2v1h-2zM250 5h1v1h-1zM259 5h1v1h-1zM41 6h1v1h-1zM63 6h1v1h-1zM98 6h1v1h-1zM207 6h1v1h-1zM216 6h1v1h-1zM219 6h2v1h-2zM252 6h2v1h-2zM272 6h1v1h-1zM5 7h1v1h-1zM23 7h1v1h-1zM25 7h1v1h-1zM50 7h1v1h-1zM70 7h1v1h-1zM232 7h1v1h-1zM234 7h1v1h-1zM242 7h1v1h-1zM265 7h1v1h-1zM267 7h1v1h-1zM10 8h1v1h-1zM17 8h1v1h-1zM39 8h1v1h-1zM46 8h1v1h-1zM59 8h1v1h-1zM64 8h1v1h-1zM231 8h1v1h-1zM239 8h1v1h-1zM248 8h1v1h-1zM256 8h1v1h-1zM260 8h1v1h-1zM16 9h1v1h-1zM48 9h1v1h-1zM76 9h1v1h-1zM86 9h1v1h-1zM163 9h1v1h-1zM236 9h1v1h-1zM246 9h1v1h-1zM272 9h1v1h-1zM287 9h1v1h-1zM53 10h1v1h-1zM55 10h1v1h-1zM70 10h1v1h-1zM111 10h1v1h-1zM193 10h2v1h-2zM229 10h1v1h-1zM233 10h1v1h-1zM243 10h1v1h-1zM271 10h1v1h-1zM47 11h1v1h-1zM59 11h1v1h-1zM72 11h1v1h-1zM75 11h3v1h-3zM87 11h1v1h-1zM257 11h1v1h-1zM261 11h1v1h-1zM40 12h1v1h-1zM52 12h1v1h-1zM56 12h1v1h-1zM78 12h2v1h-2zM108 12h1v1h-1zM124 12h1v1h-1zM130 12h1v1h-1zM233 12h1v1h-1zM236 12h1v1h-1zM247 12h1v1h-1zM280 12h1v1h-1zM43 13h1v1h-1zM108 13h1v1h-1zM114 13h1v1h-1zM264 13h1v1h-1zM41 14h1v1h-1zM44 14h1v1h-1zM169 14h1v1h-1zM171 14h1v1h-1zM176 14h2v1h-2zM234 14h1v1h-1zM247 14h2v1h-2zM271 14h1v1h-1zM63 15h1v1h-1zM69 15h1v1h-1zM120 15h1v1h-1zM163 15h1v1h-1zM167 15h1v1h-1zM182 15h1v1h-1zM234 15h1v1h-1zM259 15h1v1h-1zM263 15h1v1h-1zM165 16h1v1h-1zM175 16h1v1h-1zM205 16h1v1h-1zM242 16h1v1h-1zM245 16h1v1h-1zM258 16h1v1h-1zM271 16h1v1h-1zM172 17h1v1h-1z"/><path fill="#b0e0f0" d="M8 0h1v1h-1zM93 0h1v1h-1zM95 0h1v1h-1zM109 0h1v1h-1zM219 0h1v1h-1zM281 0h2v1h-2zM93 1h1v1h-1zM125 1h1v1h-1zM224 1h1v1h-1zM256 1h1v1h-1zM271 1h1v1h-1zM274 1h1v1h-1zM294 1h1v1h-1zM39 2h1v1h-1zM77 2h1v1h-1zM101 2h1v1h-1zM121 2h1v1h-1zM158 2h1v1h-1zM170 2h1v1h-1zM177 2h1v1h-1zM220 2h1v1h-1zM223 2h1v1h-1zM273 2h1v1h-1zM289 2h2v1h-2zM298 2h1v1h-1zM37 3h1v1h-1zM50 3h1v1h-1zM54 3h1v1h-1zM56 3h1v1h-1zM58 3h1v1h-1zM76 3h1v1h-1zM82 3h1v1h-1zM131 3h1v1h-1zM202 3h1v1h-1zM218 3h1v1h-1zM224 3h1v1h-1zM248 3h1v1h-1zM262 3h1v1h-1zM47 4h1v1h-1zM119 4h1v1h-1zM161 4h1v1h-1zM226 4h1v1h-1zM268 4h1v1h-1zM270 4h1v1h-1zM275 4h1v1h-1zM49 5h1v1h-1zM75 5h1v1h-1zM83 5h1v1h-1zM89 5h1v1h-1zM225 5h1v1h-1zM270 5h1v1h-1zM294 5h1v1h-1zM4 6h1v1h-1zM103 6h1v1h-1zM118 6h1v1h-1zM122 6h1v1h-1zM215 6h1v1h-1zM225 6h1v1h-1zM6 7h1v1h-1zM8 7h1v1h-1zM71 7h3v1h-3zM154 7h1v1h-1zM218 7h1v1h-1zM225 7h1v1h-1zM229 7h1v1h-1zM241 7h1v1h-1zM246 7h1v1h-1zM252 7h1v1h-1zM7 8h1v1h-1zM20 8h1v1h-1zM23 8h1v1h-1zM52 8h1v1h-1zM60 8h1v1h-1zM131 8h1v1h-1zM227 8h1v1h-1zM270 8h1v1h-1zM10 9h1v1h-1zM39 9h1v1h-1zM47 9h1v1h-1zM72 9h1v1h-1zM109 9h1v1h-1zM160 9h1v1h-1zM208 9h1v1h-1zM218 9h1v1h-1zM220 9h1v1h-1zM16 10h1v1h-1zM86 10h1v1h-1zM206 10h1v1h-1zM255 10h1v1h-1zM270 10h1v1h-1zM74 11h1v1h-1zM86 11h1v1h-1zM117 11h1v1h-1zM158 11h1v1h-1zM229 11h1v1h-1zM268 11h1v1h-1zM271 11h1v1h-1zM127 12h1v1h-1zM129 12h1v1h-1zM205 12h1v1h-1zM262 12h1v1h-1zM269 12h1v1h-1zM285 12h1v1h-1zM39 13h1v1h-1zM42 13h1v1h-1zM45 13h1v1h-1zM117 13h1v1h-1zM192 13h1v1h-1zM233 13h1v1h-1zM271 13h1v1h-1zM283 13h1v1h-1zM43 14h1v1h-1zM46 14h2v1h-2zM87 14h1v1h-1zM109 14h1v1h-1zM120 14h1v1h-1zM282 14h1v1h-1zM70 15h1v1h-1zM183 15h1v1h-1zM206 15h1v1h-1zM252 15h1v1h-1zM258 15h1v1h-1zM267 15h1v1h-1zM274 15h1v1h-1zM279 15h1v1h-1zM166 16h1v1h-1zM174 16h1v1h-1zM183 16h1v1h-1zM269 16h1v1h-1zM273 16h1v1h-1zM278 16h2v1h-2zM282 16h1v1h-1zM169 17h1v1h-1zM174 17h1v1h-1zM177 17h1v1h-1zM180 17h2v1h-2zM193 17h1v1h-1zM196 17h1v1h-1zM265 17h1v1h-1zM272 17h1v1h-1zM185 18h1v1h-1zM193 18h1v1h-1z"/><path fill="#e0f0f8" d="M9 0h1v1h-1zM15 0h2v1h-2zM22 0h1v1h-1zM39 0h1v1h-1zM43 0h1v1h-1zM56 0h1v1h-1zM92 0h1v1h-1zM101 0h1v1h-1zM128 0h1v1h-1zM157 0h1v1h-1zM162 0h1v1h-1zM164 0h2v1h-2zM167 0h2v1h-2zM206 0h1v1h-1zM210 0h1v1h-1zM226 0h1v1h-1zM245 0h1v1h-1zM250 0h1v1h-1zM273 0h1v1h-1zM295 0h1v1h-1zM45 1h1v1h-1zM54 1h1v1h-1zM109 1h1v1h-1zM117 1h1v1h-1zM137 1h1v1h-1zM160 1h1v1h-1zM164 1h1v1h-1zM182 1h1v1h-1zM195 1h1v1h-1zM229 1h1v1h-1zM243 1h1v1h-1zM249 1h1v1h-1zM290 1h1v1h-1zM297 1h1v1h-1zM32 2h1v1h-1zM89 2h1v1h-1zM112 2h1v1h-1zM115 2h1v1h-1zM131 2h2v1h-2zM136 2h2v1h-2zM156 2h2v1h-2zM186 2h1v1h-1zM191 2h1v1h-1zM210 2h1v1h-1zM225 2h1v1h-1zM257 2h1v1h-1zM291 2h1v1h-1zM297 2h1v1h-1zM14 3h1v1h-1zM22 3h1v1h-1zM74 3h2v1h-2zM85 3h1v1h-1zM89 3h1v1h-1zM123 3h1v1h-1zM134 3h1v1h-1zM165 3h1v1h-1zM213 3h1v1h-1zM219 3h1v1h-1zM229 3h1v1h-1zM245 3h1v1h-1zM266 3h1v1h-1zM268 3h1v1h-1zM296 3h1v1h-1zM298 3h1v1h-1zM19 4h1v1h-1zM36 4h1v1h-1zM63 4h1v1h-1zM73 4h1v1h-1zM92 4h1v1h-1zM128 4h1v1h-1zM134 4h1v1h-1zM138 4h1v1h-1zM67 5h1v1h-1zM73 5h1v1h-1zM135 5h2v1h-2zM160 5h1v1h-1zM162 5h1v1h-1zM214 5h1v1h-1zM234 5h1v1h-1zM298 5h1v1h-1zM7 6h1v1h-1zM26 6h1v1h-1zM43 6h1v1h-1zM132 6h2v1h-2zM136 6h1v1h-1zM214 6h1v1h-1zM242 6h3v1h-3zM251 6h1v1h-1zM292 6h1v1h-1zM299 6h1v1h-1zM76 7h1v1h-1zM209 7h1v1h-1zM295 7h2v1h-2zM2 8h1v1h-1zM27 8h1v1h-1zM38 8h1v1h-1zM49 8h1v1h-1zM80 8h1v1h-1zM87 8h1v1h-1zM133 8h1v1h-1zM136 8h1v1h-1zM198 8h1v1h-1zM204 8h1v1h-1zM271 8h1v1h-1zM293 8h1v1h-1zM37 9h1v1h-1zM56 9h1v1h-1zM104 9h1v1h-1zM136 9h1v1h-1zM251 9h1v1h-1zM294 9h1v1h-1zM297 9h1v1h-1zM10 10h1v1h-1zM18 10h1v1h-1zM22 10h1v1h-1zM54 10h1v1h-1zM66 10h1v1h-1zM73 10h1v1h-1zM79 10h1v1h-1zM123 10h1v1h-1zM133 10h1v1h-1zM176 10h1v1h-1zM208 10h1v1h-1zM239 10h1v1h-1zM252 10h1v1h-1zM266 10h1v1h-1zM280 10h1v1h-1zM10 11h3v1h-3zM15 11h2v1h-2zM36 11h2v1h-2zM58 11h1v1h-1zM160 11h1v1h-1zM196 11h1v1h-1zM223 11h1v1h-1zM250 11h1v1h-1zM252 11h1v1h-1zM255 11h1v1h-1zM264 11h1v1h-1zM276 11h1v1h-1zM288 11h1v1h-1zM11 12h1v1h-1zM21 12h1v1h-1zM59 12h1v1h-1zM120 12h1v1h-1zM128 12h1v1h-1zM208 12h1v1h-1zM251 12h2v1h-2zM271 12h1v1h-1zM35 13h1v1h-1zM46 13h1v1h-1zM57 13h1v1h-1zM82 13h1v1h-1zM158 13h1v1h-1zM176 13h1v1h-1zM198 13h1v1h-1zM242 13h1v1h-1zM248 13h1v1h-1zM251 13h2v1h-2zM277 13h1v1h-1zM38 14h1v1h-1zM50 14h1v1h-1zM52 14h2v1h-2zM60 14h1v1h-1zM106 14h1v1h-1zM129 14h1v1h-1zM159 14h1v1h-1zM250 14h1v1h-1zM252 14h1v1h-1zM258 14h1v1h-1zM272 14h1v1h-1zM285 14h1v1h-1zM289 14h1v1h-1zM291 14h2v1h-2zM37 15h1v1h-1zM50 15h1v1h-1zM71 15h3v1h-3zM86 15h1v1h-1zM93 15h1v1h-1zM106 15h2v1h-2zM109 15h1v1h-1zM119 15h1v1h-1zM122 15h1v1h-1zM125 15h1v1h-1zM127 15h1v1h-1zM160 15h1v1h-1zM228 15h1v1h-1zM230 15h1v1h-1zM251 15h1v1h-1zM265 15h1v1h-1zM287 15h1v1h-1zM42 16h1v1h-1zM45 16h2v1h-2zM63 16h3v1h-3zM75 16h1v1h-1zM92 16h1v1h-1zM109 16h1v1h-1zM114 16h1v1h-1zM116 16h1v1h-1zM123 16h1v1h-1zM190 16h1v1h-1zM195 16h1v1h-1zM200 16h1v1h-1zM207 16h1v1h-1zM235 16h1v1h-1zM249 16h2v1h-2zM267 16h1v1h-1zM286 16h1v1h-1zM289 16h1v1h-1zM65 17h1v1h-1zM87 17h2v1h-2zM90 17h2v1h-2zM166 17h1v1h-1zM237 17h1v1h-1zM249 17h1v1h-1zM254 17h1v1h-1zM257 17h1v1h-1zM261 17h1v1h-1zM263 17h1v1h-1zM268 17h2v1h-2zM274 17h1v1h-1zM276 17h3v1h-3zM283 17h2v1h-2zM286 17h1v1h-1zM289 17h2v1h-2zM166 18h1v1h-1zM168 18h1v1h-1zM171 18h1v1h-1zM173 18h1v1h-1zM178 18h1v1h-1zM198 18h1v1h-1zM243 18h1v1h-1zM271 18h1v1h-1zM274 18h1v1h-1z"/><path fill="#c0e0f0" d="M10 0h1v1h-1zM36 0h1v1h-1zM41 0h1v1h-1zM105 0h1v1h-1zM114 0h1v1h-1zM126 0h1v1h-1zM208 0h1v1h-1zM215 0h1v1h-1zM218 0h1v1h-1zM254 0h1v1h-1zM277 0h1v1h-1zM8 1h1v1h-1zM14 1h1v1h-1zM23 1h1v1h-1zM33 1h3v1h-3zM92 1h1v1h-1zM99 1h1v1h-1zM111 1h1v1h-1zM121 1h1v1h-1zM123 1h1v1h-1zM126 1h1v1h-1zM162 1h1v1h-1zM168 1h1v1h-1zM209 1h1v1h-1zM214 1h1v1h-1zM216 1h1v1h-1zM219 1h1v1h-1zM226 1h1v1h-1zM254 1h2v1h-2zM272 1h1v1h-1zM276 1h2v1h-2zM1 2h1v1h-1zM23 2h1v1h-1zM25 2h1v1h-1zM35 2h1v1h-1zM37 2h1v1h-1zM82 2h1v1h-1zM133 2h1v1h-1zM163 2h1v1h-1zM207 2h1v1h-1zM242 2h1v1h-1zM252 2h1v1h-1zM271 2h1v1h-1zM20 3h1v1h-1zM45 3h1v1h-1zM57 3h1v1h-1zM129 3h1v1h-1zM156 3h1v1h-1zM163 3h1v1h-1zM180 3h1v1h-1zM208 3h1v1h-1zM223 3h1v1h-1zM271 3h1v1h-1zM285 3h1v1h-1zM295 3h1v1h-1zM35 4h1v1h-1zM74 4h1v1h-1zM101 4h1v1h-1zM214 4h1v1h-1zM218 4h1v1h-1zM241 4h1v1h-1zM269 4h1v1h-1zM271 4h1v1h-1zM47 5h1v1h-1zM60 5h2v1h-2zM63 5h2v1h-2zM74 5h1v1h-1zM80 5h1v1h-1zM88 5h1v1h-1zM102 5h1v1h-1zM131 5h1v1h-1zM154 5h1v1h-1zM156 5h1v1h-1zM182 5h1v1h-1zM215 5h2v1h-2zM228 5h1v1h-1zM231 5h2v1h-2zM248 5h1v1h-1zM2 6h1v1h-1zM74 6h1v1h-1zM87 6h1v1h-1zM99 6h1v1h-1zM102 6h1v1h-1zM176 6h1v1h-1zM290 6h1v1h-1zM3 7h1v1h-1zM39 7h2v1h-2zM48 7h1v1h-1zM131 7h2v1h-2zM169 7h1v1h-1zM219 7h1v1h-1zM222 7h1v1h-1zM227 7h1v1h-1zM230 7h1v1h-1zM249 7h1v1h-1zM293 7h1v1h-1zM3 8h1v1h-1zM6 8h1v1h-1zM8 8h1v1h-1zM12 8h1v1h-1zM41 8h1v1h-1zM53 8h1v1h-1zM104 8h1v1h-1zM174 8h1v1h-1zM5 9h2v1h-2zM15 9h1v1h-1zM22 9h1v1h-1zM59 9h2v1h-2zM87 9h1v1h-1zM105 9h1v1h-1zM190 9h1v1h-1zM223 9h2v1h-2zM253 9h1v1h-1zM267 9h1v1h-1zM288 9h2v1h-2zM11 10h1v1h-1zM19 10h1v1h-1zM50 10h1v1h-1zM56 10h1v1h-1zM232 10h1v1h-1zM245 10h1v1h-1zM286 10h1v1h-1zM60 11h1v1h-1zM63 11h1v1h-1zM85 11h1v1h-1zM106 11h1v1h-1zM114 11h1v1h-1zM163 11h1v1h-1zM207 11h1v1h-1zM231 11h1v1h-1zM245 11h2v1h-2zM46 12h1v1h-1zM80 12h1v1h-1zM83 12h2v1h-2zM160 12h1v1h-1zM186 12h1v1h-1zM207 12h1v1h-1zM230 12h1v1h-1zM232 12h1v1h-1zM261 12h1v1h-1zM270 12h1v1h-1zM38 13h1v1h-1zM41 13h1v1h-1zM62 13h1v1h-1zM76 13h2v1h-2zM127 13h2v1h-2zM159 13h1v1h-1zM208 13h1v1h-1zM245 13h2v1h-2zM284 13h3v1h-3zM63 14h1v1h-1zM76 14h1v1h-1zM116 14h2v1h-2zM125 14h1v1h-1zM161 14h1v1h-1zM205 14h1v1h-1zM230 14h1v1h-1zM249 14h1v1h-1zM257 14h1v1h-1zM259 14h3v1h-3zM278 14h1v1h-1zM288 14h1v1h-1zM41 15h2v1h-2zM92 15h1v1h-1zM115 15h1v1h-1zM117 15h1v1h-1zM164 15h1v1h-1zM205 15h1v1h-1zM264 15h1v1h-1zM268 15h1v1h-1zM271 15h1v1h-1zM284 15h1v1h-1zM91 16h1v1h-1zM163 16h1v1h-1zM180 16h1v1h-1zM201 16h2v1h-2zM241 16h1v1h-1zM281 16h1v1h-1zM66 17h1v1h-1zM183 17h2v1h-2zM188 17h1v1h-1zM195 17h1v1h-1zM203 17h1v1h-1zM239 17h1v1h-1zM181 18h1v1h-1z"/><path fill="#d8e8f8" d="M11 0h1v1h-1zM113 1h1v1h-1zM131 1h1v1h-1zM293 1h1v1h-1zM248 2h1v1h-1zM269 2h1v1h-1zM34 3h1v1h-1zM107 3h1v1h-1zM290 4h1v1h-1zM292 4h1v1h-1zM194 7h1v1h-1zM216 7h1v1h-1zM18 8h1v1h-1zM237 8h1v1h-1zM295 8h1v1h-1zM24 9h1v1h-1zM172 9h1v1h-1zM177 9h1v1h-1zM248 9h1v1h-1zM282 9h1v1h-1zM17 10h1v1h-1zM23 10h1v1h-1zM226 10h1v1h-1zM235 10h1v1h-1zM129 11h1v1h-1zM132 11h1v1h-1zM289 11h1v1h-1zM39 12h1v1h-1zM73 12h1v1h-1zM206 12h1v1h-1zM36 13h1v1h-1zM172 13h1v1h-1zM290 13h1v1h-1zM93 14h1v1h-1zM254 15h1v1h-1zM257 15h1v1h-1zM47 16h1v1h-1zM69 16h1v1h-1zM168 16h1v1h-1zM191 16h1v1h-1zM236 16h1v1h-1zM69 17h1v1h-1zM273 17h1v1h-1z"/><path fill="#d8f0f8" d="M12 0h1v1h-1zM19 0h1v1h-1zM33 0h1v1h-1zM52 0h3v1h-3zM77 0h1v1h-1zM80 0h1v1h-1zM98 0h1v1h-1zM107 0h1v1h-1zM158 0h1v1h-1zM209 0h1v1h-1zM224 0h1v1h-1zM247 0h1v1h-1zM253 0h1v1h-1zM257 0h1v1h-1zM284 0h1v1h-1zM1 1h1v1h-1zM17 1h1v1h-1zM25 1h1v1h-1zM49 1h1v1h-1zM101 1h1v1h-1zM127 1h1v1h-1zM248 1h1v1h-1zM270 1h1v1h-1zM287 1h1v1h-1zM295 1h1v1h-1zM11 2h1v1h-1zM58 2h1v1h-1zM185 2h1v1h-1zM209 2h1v1h-1zM245 2h1v1h-1zM251 2h1v1h-1zM264 2h1v1h-1zM293 2h1v1h-1zM10 3h1v1h-1zM36 3h1v1h-1zM40 3h1v1h-1zM61 3h1v1h-1zM137 3h1v1h-1zM173 3h1v1h-1zM230 3h1v1h-1zM249 3h1v1h-1zM267 3h1v1h-1zM294 3h1v1h-1zM297 3h1v1h-1zM6 4h1v1h-1zM81 4h1v1h-1zM95 4h1v1h-1zM132 4h2v1h-2zM155 4h1v1h-1zM172 4h1v1h-1zM210 4h1v1h-1zM243 4h1v1h-1zM258 4h1v1h-1zM298 4h1v1h-1zM38 5h2v1h-2zM85 5h1v1h-1zM128 5h1v1h-1zM210 5h1v1h-1zM283 5h1v1h-1zM289 5h1v1h-1zM71 6h1v1h-1zM101 6h1v1h-1zM135 6h1v1h-1zM137 6h1v1h-1zM258 6h1v1h-1zM270 6h1v1h-1zM294 6h2v1h-2zM1 7h1v1h-1zM10 7h1v1h-1zM38 7h1v1h-1zM49 7h1v1h-1zM57 7h1v1h-1zM88 7h1v1h-1zM95 7h1v1h-1zM133 7h2v1h-2zM162 7h1v1h-1zM239 7h2v1h-2zM297 7h1v1h-1zM1 8h1v1h-1zM85 8h2v1h-2zM103 8h1v1h-1zM110 8h1v1h-1zM206 8h1v1h-1zM209 8h1v1h-1zM223 8h1v1h-1zM228 8h1v1h-1zM243 8h1v1h-1zM265 8h2v1h-2zM292 8h1v1h-1zM11 9h1v1h-1zM23 9h1v1h-1zM96 9h1v1h-1zM134 9h1v1h-1zM226 9h1v1h-1zM8 10h2v1h-2zM88 10h2v1h-2zM95 10h1v1h-1zM131 10h1v1h-1zM155 10h1v1h-1zM220 10h1v1h-1zM237 10h1v1h-1zM250 10h2v1h-2zM253 10h1v1h-1zM13 11h1v1h-1zM50 11h1v1h-1zM64 11h1v1h-1zM83 11h1v1h-1zM157 11h1v1h-1zM176 11h1v1h-1zM208 11h1v1h-1zM221 11h1v1h-1zM253 11h1v1h-1zM287 11h1v1h-1zM48 12h1v1h-1zM132 12h1v1h-1zM158 12h1v1h-1zM228 12h1v1h-1zM255 12h1v1h-1zM288 12h1v1h-1zM37 13h1v1h-1zM52 13h1v1h-1zM68 13h1v1h-1zM119 13h1v1h-1zM129 13h2v1h-2zM229 13h1v1h-1zM249 13h1v1h-1zM72 14h3v1h-3zM84 14h1v1h-1zM127 14h1v1h-1zM208 14h1v1h-1zM229 14h1v1h-1zM251 14h1v1h-1zM284 14h1v1h-1zM62 15h1v1h-1zM118 15h1v1h-1zM123 15h1v1h-1zM126 15h1v1h-1zM248 15h1v1h-1zM43 16h1v1h-1zM70 16h1v1h-1zM112 16h2v1h-2zM124 16h1v1h-1zM126 16h1v1h-1zM231 16h1v1h-1zM234 16h1v1h-1zM247 16h1v1h-1zM265 16h1v1h-1zM268 16h1v1h-1zM287 16h1v1h-1zM290 16h1v1h-1zM64 17h1v1h-1zM167 17h1v1h-1zM206 17h1v1h-1zM241 17h2v1h-2zM256 17h1v1h-1zM259 17h1v1h-1zM266 17h1v1h-1zM285 17h1v1h-1zM190 18h1v1h-1zM197 18h1v1h-1zM259 18h1v1h-1z"/><path fill="#e8f0f8" d="M13 0h1v1h-1zM17 0h1v1h-1zM20 0h1v1h-1zM44 0h1v1h-1zM48 0h1v1h-1zM57 0h1v1h-1zM83 0h1v1h-1zM89 0h1v1h-1zM129 0h1v1h-1zM136 0h1v1h-1zM161 0h1v1h-1zM186 0h1v1h-1zM212 0h3v1h-3zM244 0h1v1h-1zM262 0h1v1h-1zM270 0h1v1h-1zM288 0h2v1h-2zM75 1h1v1h-1zM80 1h1v1h-1zM91 1h1v1h-1zM103 1h1v1h-1zM130 1h1v1h-1zM159 1h1v1h-1zM187 1h1v1h-1zM211 1h1v1h-1zM228 1h1v1h-1zM242 1h1v1h-1zM263 1h1v1h-1zM289 1h1v1h-1zM13 2h1v1h-1zM47 2h1v1h-1zM49 2h1v1h-1zM60 2h1v1h-1zM138 2h1v1h-1zM167 2h1v1h-1zM241 2h1v1h-1zM260 2h1v1h-1zM267 2h1v1h-1zM25 3h2v1h-2zM32 3h2v1h-2zM60 3h1v1h-1zM135 3h2v1h-2zM139 3h1v1h-1zM211 3h1v1h-1zM221 3h1v1h-1zM231 3h1v1h-1zM269 3h1v1h-1zM299 3h1v1h-1zM12 4h1v1h-1zM14 4h1v1h-1zM27 4h1v1h-1zM62 4h1v1h-1zM80 4h1v1h-1zM86 4h1v1h-1zM100 4h1v1h-1zM102 4h1v1h-1zM170 4h1v1h-1zM185 4h1v1h-1zM273 4h1v1h-1zM278 4h1v1h-1zM299 4h1v1h-1zM53 5h1v1h-1zM71 5h1v1h-1zM235 5h1v1h-1zM271 5h1v1h-1zM277 5h1v1h-1zM24 6h2v1h-2zM27 6h1v1h-1zM54 6h1v1h-1zM232 6h3v1h-3zM296 6h1v1h-1zM61 7h1v1h-1zM91 7h1v1h-1zM11 8h1v1h-1zM90 8h1v1h-1zM134 8h2v1h-2zM154 8h1v1h-1zM189 8h1v1h-1zM299 8h1v1h-1zM25 9h1v1h-1zM117 9h1v1h-1zM154 9h1v1h-1zM209 9h1v1h-1zM217 9h1v1h-1zM290 9h4v1h-4zM296 9h1v1h-1zM4 10h1v1h-1zM7 10h1v1h-1zM38 10h1v1h-1zM43 10h1v1h-1zM104 10h1v1h-1zM134 10h1v1h-1zM224 10h1v1h-1zM246 10h1v1h-1zM256 10h1v1h-1zM293 10h1v1h-1zM8 11h2v1h-2zM18 11h1v1h-1zM20 11h1v1h-1zM54 11h1v1h-1zM95 11h1v1h-1zM107 11h1v1h-1zM218 11h2v1h-2zM225 11h2v1h-2zM251 11h1v1h-1zM286 11h1v1h-1zM49 12h1v1h-1zM125 12h1v1h-1zM156 12h1v1h-1zM222 12h1v1h-1zM47 13h1v1h-1zM53 13h2v1h-2zM58 13h1v1h-1zM81 13h1v1h-1zM94 13h1v1h-1zM106 13h1v1h-1zM109 13h1v1h-1zM111 13h1v1h-1zM132 13h1v1h-1zM227 13h1v1h-1zM255 13h1v1h-1zM263 13h1v1h-1zM275 13h1v1h-1zM288 13h2v1h-2zM69 14h1v1h-1zM80 14h1v1h-1zM83 14h1v1h-1zM128 14h1v1h-1zM158 14h1v1h-1zM253 14h1v1h-1zM255 14h1v1h-1zM287 14h1v1h-1zM297 14h1v1h-1zM47 15h1v1h-1zM74 15h1v1h-1zM76 15h1v1h-1zM105 15h1v1h-1zM226 15h1v1h-1zM241 15h1v1h-1zM291 15h1v1h-1zM39 16h1v1h-1zM71 16h1v1h-1zM86 16h2v1h-2zM119 16h1v1h-1zM122 16h1v1h-1zM162 16h1v1h-1zM184 16h1v1h-1zM199 16h1v1h-1zM226 16h3v1h-3zM254 16h1v1h-1zM70 17h1v1h-1zM112 17h1v1h-1zM122 17h1v1h-1zM165 17h1v1h-1zM255 17h1v1h-1zM262 17h1v1h-1zM291 17h1v1h-1zM90 18h1v1h-1zM172 18h1v1h-1zM179 18h1v1h-1zM196 18h1v1h-1zM199 18h1v1h-1zM238 18h2v1h-2zM241 18h1v1h-1zM245 18h1v1h-1zM260 18h1v1h-1zM272 18h1v1h-1z"/><path fill="#e8f8f8" d="M14 0h1v1h-1zM47 0h1v1h-1zM137 0h1v1h-1zM189 0h1v1h-1zM215 3h1v1h-1zM29 5h1v1h-1zM72 5h1v1h-1zM237 5h3v1h-3zM37 7h1v1h-1zM25 8h1v1h-1zM63 8h1v1h-1zM66 8h1v1h-1zM76 8h1v1h-1zM222 8h1v1h-1zM7 11h1v1h-1zM81 11h1v1h-1zM38 12h1v1h-1zM227 12h1v1h-1zM105 13h1v1h-1zM272 13h1v1h-1zM62 14h1v1h-1zM228 14h1v1h-1zM286 14h1v1h-1zM51 15h1v1h-1zM68 15h1v1h-1zM94 15h1v1h-1zM230 16h1v1h-1zM67 17h1v1h-1zM163 17h1v1h-1zM231 17h1v1h-1zM235 17h1v1h-1zM245 17h1v1h-1zM292 17h1v1h-1zM89 18h1v1h-1zM167 18h1v1h-1zM261 18h1v1h-1zM273 18h1v1h-1zM277 18h1v1h-1z"/><path fill="#f0f8ff" d="M23 0h1v1h-1zM32 0h1v1h-1zM84 0h1v1h-1zM138 0h1v1h-1zM156 0h1v1h-1zM248 0h1v1h-1zM267 0h1v1h-1zM290 0h1v1h-1zM292 0h1v1h-1zM296 0h1v1h-1zM53 1h1v1h-1zM134 1h1v1h-1zM158 1h1v1h-1zM161 1h1v1h-1zM177 1h1v1h-1zM183 1h1v1h-1zM268 1h1v1h-1zM31 2h1v1h-1zM55 2h1v1h-1zM74 2h2v1h-2zM240 2h1v1h-1zM15 3h1v1h-1zM63 3h1v1h-1zM73 3h1v1h-1zM88 3h1v1h-1zM93 3h1v1h-1zM289 3h1v1h-1zM48 4h1v1h-1zM104 4h1v1h-1zM211 4h1v1h-1zM37 5h1v1h-1zM48 5h1v1h-1zM138 5h1v1h-1zM221 5h1v1h-1zM36 6h1v1h-1zM60 6h1v1h-1zM89 6h1v1h-1zM131 6h1v1h-1zM153 6h1v1h-1zM235 6h1v1h-1zM249 6h1v1h-1zM30 7h1v1h-1zM83 7h1v1h-1zM136 7h1v1h-1zM215 7h1v1h-1zM238 7h1v1h-1zM29 8h1v1h-1zM298 8h1v1h-1zM115 9h1v1h-1zM130 9h1v1h-1zM135 9h1v1h-1zM298 9h1v1h-1zM1 10h2v1h-2zM65 10h1v1h-1zM216 10h1v1h-1zM6 11h1v1h-1zM14 11h1v1h-1zM105 11h1v1h-1zM155 11h1v1h-1zM209 11h1v1h-1zM259 11h1v1h-1zM285 11h1v1h-1zM295 11h1v1h-1zM4 12h1v1h-1zM10 12h1v1h-1zM20 12h1v1h-1zM50 12h1v1h-1zM104 12h1v1h-1zM224 12h1v1h-1zM268 12h1v1h-1zM294 12h1v1h-1zM84 13h1v1h-1zM112 13h1v1h-1zM116 13h1v1h-1zM157 13h1v1h-1zM223 13h3v1h-3zM258 13h1v1h-1zM280 13h1v1h-1zM54 14h1v1h-1zM105 14h1v1h-1zM111 14h1v1h-1zM209 14h1v1h-1zM60 15h1v1h-1zM78 15h1v1h-1zM87 15h1v1h-1zM129 15h1v1h-1zM203 15h1v1h-1zM292 15h1v1h-1zM93 16h1v1h-1zM107 16h1v1h-1zM297 16h1v1h-1zM40 17h1v1h-1zM72 17h1v1h-1zM121 17h1v1h-1zM226 17h1v1h-1zM234 17h1v1h-1zM236 17h1v1h-1zM246 17h1v1h-1zM252 17h1v1h-1zM287 17h1v1h-1zM92 18h1v1h-1zM246 18h1v1h-1zM257 18h1v1h-1zM263 18h1v1h-1zM279 18h1v1h-1z"/><path fill="#c8e8f8" d="M34 0h1v1h-1zM40 0h1v1h-1zM78 0h1v1h-1zM97 0h1v1h-1zM122 0h1v1h-1zM221 0h1v1h-1zM274 0h1v1h-1zM51 1h1v1h-1zM55 1h1v1h-1zM90 1h1v1h-1zM220 1h1v1h-1zM227 1h1v1h-1zM250 1h1v1h-1zM275 1h1v1h-1zM17 2h1v1h-1zM57 2h1v1h-1zM113 2h1v1h-1zM130 2h1v1h-1zM164 2h1v1h-1zM228 2h1v1h-1zM250 2h1v1h-1zM263 2h1v1h-1zM270 2h1v1h-1zM101 3h1v1h-1zM155 3h1v1h-1zM161 3h1v1h-1zM176 3h1v1h-1zM201 3h1v1h-1zM263 3h1v1h-1zM292 3h1v1h-1zM52 4h1v1h-1zM60 4h1v1h-1zM86 5h1v1h-1zM117 5h1v1h-1zM230 5h1v1h-1zM267 5h1v1h-1zM3 6h1v1h-1zM47 6h1v1h-1zM261 6h1v1h-1zM293 6h1v1h-1zM203 7h1v1h-1zM248 7h1v1h-1zM280 7h1v1h-1zM290 7h1v1h-1zM173 8h1v1h-1zM186 8h1v1h-1zM7 9h1v1h-1zM50 9h1v1h-1zM85 9h1v1h-1zM133 9h1v1h-1zM222 9h1v1h-1zM225 9h1v1h-1zM228 9h1v1h-1zM260 9h1v1h-1zM49 10h1v1h-1zM64 10h1v1h-1zM94 10h1v1h-1zM207 10h1v1h-1zM219 10h1v1h-1zM272 10h1v1h-1zM94 11h1v1h-1zM188 11h1v1h-1zM278 11h1v1h-1zM81 12h1v1h-1zM94 12h1v1h-1zM91 13h1v1h-1zM207 13h1v1h-1zM107 14h1v1h-1zM279 14h1v1h-1zM283 14h1v1h-1zM244 15h1v1h-1zM262 15h1v1h-1zM283 15h1v1h-1zM288 15h1v1h-1zM290 15h1v1h-1zM164 16h1v1h-1zM171 16h1v1h-1zM238 16h1v1h-1zM252 16h2v1h-2zM262 16h1v1h-1zM283 16h1v1h-1zM244 17h1v1h-1zM258 17h1v1h-1zM282 17h1v1h-1zM191 18h1v1h-1z"/><path fill="#d0e8f8" d="M35 0h1v1h-1zM50 0h2v1h-2zM79 0h1v1h-1zM90 0h1v1h-1zM96 0h1v1h-1zM102 0h1v1h-1zM115 0h1v1h-1zM119 0h1v1h-1zM169 0h1v1h-1zM199 0h1v1h-1zM222 0h1v1h-1zM246 0h1v1h-1zM252 0h1v1h-1zM258 0h1v1h-1zM285 0h1v1h-1zM287 0h1v1h-1zM13 1h1v1h-1zM16 1h1v1h-1zM22 1h1v1h-1zM31 1h1v1h-1zM44 1h1v1h-1zM47 1h2v1h-2zM52 1h1v1h-1zM58 1h1v1h-1zM77 1h1v1h-1zM82 1h1v1h-1zM100 1h1v1h-1zM107 1h1v1h-1zM163 1h1v1h-1zM188 1h1v1h-1zM210 1h1v1h-1zM213 1h1v1h-1zM225 1h1v1h-1zM251 1h1v1h-1zM288 1h1v1h-1zM296 1h1v1h-1zM24 2h1v1h-1zM54 2h1v1h-1zM76 2h1v1h-1zM102 2h1v1h-1zM124 2h1v1h-1zM134 2h1v1h-1zM159 2h2v1h-2zM165 2h1v1h-1zM208 2h1v1h-1zM212 2h3v1h-3zM253 2h1v1h-1zM266 2h1v1h-1zM294 2h1v1h-1zM299 2h1v1h-1zM3 3h1v1h-1zM24 3h1v1h-1zM35 3h1v1h-1zM48 3h1v1h-1zM59 3h1v1h-1zM103 3h1v1h-1zM115 3h1v1h-1zM130 3h1v1h-1zM138 3h1v1h-1zM192 3h1v1h-1zM210 3h1v1h-1zM241 3h1v1h-1zM270 3h1v1h-1zM25 4h1v1h-1zM37 4h1v1h-1zM61 4h1v1h-1zM89 4h1v1h-1zM93 4h1v1h-1zM131 4h1v1h-1zM136 4h1v1h-1zM213 4h1v1h-1zM215 4h2v1h-2zM232 4h1v1h-1zM267 4h1v1h-1zM289 4h1v1h-1zM291 4h1v1h-1zM296 4h1v1h-1zM5 5h1v1h-1zM17 5h1v1h-1zM19 5h1v1h-1zM65 5h1v1h-1zM90 5h1v1h-1zM101 5h1v1h-1zM132 5h2v1h-2zM137 5h1v1h-1zM176 5h2v1h-2zM187 5h1v1h-1zM240 5h2v1h-2zM295 5h2v1h-2zM50 6h1v1h-1zM73 6h1v1h-1zM86 6h1v1h-1zM107 6h1v1h-1zM129 6h1v1h-1zM192 6h1v1h-1zM209 6h1v1h-1zM239 6h2v1h-2zM291 6h1v1h-1zM297 6h2v1h-2zM21 7h1v1h-1zM29 7h1v1h-1zM87 7h1v1h-1zM103 7h1v1h-1zM116 7h1v1h-1zM254 7h1v1h-1zM260 7h1v1h-1zM291 7h1v1h-1zM294 7h1v1h-1zM26 8h1v1h-1zM47 8h1v1h-1zM88 8h1v1h-1zM97 8h1v1h-1zM132 8h1v1h-1zM155 8h1v1h-1zM216 8h4v1h-4zM221 8h1v1h-1zM254 8h1v1h-1zM257 8h1v1h-1zM267 8h1v1h-1zM289 8h2v1h-2zM3 9h2v1h-2zM38 9h1v1h-1zM67 9h1v1h-1zM106 9h1v1h-1zM155 9h1v1h-1zM206 9h1v1h-1zM221 9h1v1h-1zM227 9h1v1h-1zM249 9h1v1h-1zM5 10h2v1h-2zM20 10h2v1h-2zM48 10h1v1h-1zM61 10h2v1h-2zM84 10h1v1h-1zM130 10h1v1h-1zM157 10h1v1h-1zM178 10h1v1h-1zM227 10h1v1h-1zM244 10h1v1h-1zM248 10h1v1h-1zM257 10h1v1h-1zM285 10h1v1h-1zM287 10h1v1h-1zM290 10h1v1h-1zM19 11h1v1h-1zM49 11h1v1h-1zM51 11h1v1h-1zM62 11h1v1h-1zM92 11h1v1h-1zM104 11h1v1h-1zM122 11h1v1h-1zM128 11h1v1h-1zM131 11h1v1h-1zM167 11h1v1h-1zM227 11h1v1h-1zM242 11h1v1h-1zM249 11h1v1h-1zM269 11h2v1h-2zM277 11h1v1h-1zM51 12h1v1h-1zM60 12h2v1h-2zM85 12h1v1h-1zM105 12h1v1h-1zM161 12h1v1h-1zM183 12h1v1h-1zM249 12h1v1h-1zM287 12h1v1h-1zM48 13h1v1h-1zM56 13h1v1h-1zM59 13h3v1h-3zM73 13h1v1h-1zM79 13h2v1h-2zM107 13h1v1h-1zM230 13h1v1h-1zM250 13h1v1h-1zM37 14h1v1h-1zM49 14h1v1h-1zM51 14h1v1h-1zM75 14h1v1h-1zM78 14h2v1h-2zM86 14h1v1h-1zM113 14h1v1h-1zM180 14h1v1h-1zM36 15h1v1h-1zM38 15h1v1h-1zM44 15h1v1h-1zM110 15h1v1h-1zM113 15h2v1h-2zM161 15h1v1h-1zM207 15h1v1h-1zM227 15h1v1h-1zM249 15h1v1h-1zM253 15h1v1h-1zM272 15h1v1h-1zM278 15h1v1h-1zM285 15h2v1h-2zM289 15h1v1h-1zM38 16h1v1h-1zM44 16h1v1h-1zM89 16h2v1h-2zM111 16h1v1h-1zM115 16h1v1h-1zM117 16h2v1h-2zM125 16h1v1h-1zM203 16h1v1h-1zM232 16h1v1h-1zM240 16h1v1h-1zM256 16h1v1h-1zM263 16h1v1h-1zM266 16h1v1h-1zM284 16h1v1h-1zM68 17h1v1h-1zM176 17h1v1h-1zM199 17h1v1h-1zM201 17h2v1h-2zM238 17h1v1h-1zM240 17h1v1h-1zM243 17h1v1h-1zM248 17h1v1h-1zM264 17h1v1h-1zM275 17h1v1h-1zM170 18h1v1h-1zM175 18h2v1h-2zM183 18h2v1h-2zM188 18h1v1h-1zM194 18h1v1h-1zM275 18h1v1h-1zM281 18h1v1h-1z"/><path fill="#f0f8f8" d="M45 0h1v1h-1zM49 0h1v1h-1zM55 0h1v1h-1zM75 0h1v1h-1zM82 0h1v1h-1zM91 0h1v1h-1zM100 0h1v1h-1zM135 0h1v1h-1zM160 0h1v1h-1zM166 0h1v1h-1zM223 0h1v1h-1zM227 0h1v1h-1zM249 0h1v1h-1zM261 0h1v1h-1zM271 0h1v1h-1zM291 0h1v1h-1zM293 0h1v1h-1zM84 1h1v1h-1zM89 1h1v1h-1zM94 1h1v1h-1zM156 1h1v1h-1zM165 1h1v1h-1zM262 1h1v1h-1zM269 1h1v1h-1zM298 1h2v1h-2zM26 2h1v1h-1zM48 2h1v1h-1zM56 2h1v1h-1zM59 2h1v1h-1zM62 2h1v1h-1zM135 2h1v1h-1zM155 2h1v1h-1zM292 2h1v1h-1zM17 3h1v1h-1zM27 3h1v1h-1zM31 3h1v1h-1zM83 3h1v1h-1zM91 3h2v1h-2zM94 3h1v1h-1zM113 3h1v1h-1zM154 3h1v1h-1zM212 3h1v1h-1zM217 3h1v1h-1zM222 3h1v1h-1zM228 3h1v1h-1zM33 4h1v1h-1zM49 4h1v1h-1zM64 4h3v1h-3zM91 4h1v1h-1zM135 4h1v1h-1zM139 4h1v1h-1zM225 4h1v1h-1zM240 4h1v1h-1zM257 4h1v1h-1zM262 4h1v1h-1zM30 5h1v1h-1zM69 5h2v1h-2zM87 5h1v1h-1zM98 5h1v1h-1zM163 5h1v1h-1zM222 5h1v1h-1zM233 5h1v1h-1zM299 5h1v1h-1zM30 6h1v1h-1zM37 6h2v1h-2zM104 6h1v1h-1zM248 6h1v1h-1zM86 7h1v1h-1zM102 7h1v1h-1zM123 7h1v1h-1zM153 7h1v1h-1zM207 7h1v1h-1zM28 8h1v1h-1zM48 8h1v1h-1zM70 8h1v1h-1zM73 8h1v1h-1zM98 8h1v1h-1zM250 8h1v1h-1zM253 8h1v1h-1zM288 8h1v1h-1zM296 8h1v1h-1zM1 9h1v1h-1zM46 9h1v1h-1zM73 9h1v1h-1zM240 9h1v1h-1zM247 9h1v1h-1zM295 9h1v1h-1zM3 10h1v1h-1zM25 10h1v1h-1zM221 10h1v1h-1zM223 10h1v1h-1zM230 10h1v1h-1zM288 10h1v1h-1zM294 10h1v1h-1zM23 11h1v1h-1zM25 11h1v1h-1zM66 11h1v1h-1zM133 11h1v1h-1zM135 11h1v1h-1zM217 11h1v1h-1zM222 11h1v1h-1zM224 11h1v1h-1zM294 11h1v1h-1zM22 12h1v1h-1zM36 12h1v1h-1zM75 12h1v1h-1zM134 12h1v1h-1zM203 12h1v1h-1zM223 12h1v1h-1zM225 12h1v1h-1zM244 12h1v1h-1zM253 12h1v1h-1zM276 12h1v1h-1zM290 12h1v1h-1zM295 12h1v1h-1zM10 13h1v1h-1zM13 13h1v1h-1zM83 13h1v1h-1zM131 13h1v1h-1zM193 13h1v1h-1zM226 13h1v1h-1zM228 13h1v1h-1zM253 13h2v1h-2zM40 14h1v1h-1zM61 14h1v1h-1zM81 14h2v1h-2zM130 14h2v1h-2zM157 14h1v1h-1zM224 14h1v1h-1zM226 14h1v1h-1zM254 14h1v1h-1zM290 14h1v1h-1zM35 15h1v1h-1zM49 15h1v1h-1zM61 15h1v1h-1zM77 15h1v1h-1zM85 15h1v1h-1zM108 15h1v1h-1zM158 15h1v1h-1zM179 15h1v1h-1zM224 15h1v1h-1zM293 15h1v1h-1zM37 16h1v1h-1zM68 16h1v1h-1zM120 16h2v1h-2zM127 16h1v1h-1zM208 16h1v1h-1zM229 16h1v1h-1zM251 16h1v1h-1zM255 16h1v1h-1zM274 16h1v1h-1zM63 17h1v1h-1zM89 17h1v1h-1zM114 17h1v1h-1zM118 17h2v1h-2zM123 17h1v1h-1zM162 17h1v1h-1zM207 17h1v1h-1zM251 17h1v1h-1zM253 17h1v1h-1zM267 17h1v1h-1zM280 17h2v1h-2zM288 17h1v1h-1zM174 18h1v1h-1zM195 18h1v1h-1zM237 18h1v1h-1zM240 18h1v1h-1zM242 18h1v1h-1zM244 18h1v1h-1zM262 18h1v1h-1zM266 18h1v1h-1zM268 18h2v1h-2zM280 18h1v1h-1zM282 18h1v1h-1z"/><path fill="#90d0e8" d="M94 0h1v1h-1zM116 0h1v1h-1zM187 0h1v1h-1zM195 0h1v1h-1zM198 0h1v1h-1zM201 0h1v1h-1zM216 0h1v1h-1zM4 1h1v1h-1zM15 1h1v1h-1zM78 1h1v1h-1zM104 1h1v1h-1zM114 1h1v1h-1zM175 1h1v1h-1zM180 1h1v1h-1zM207 1h1v1h-1zM217 1h1v1h-1zM222 1h1v1h-1zM281 1h1v1h-1zM12 2h1v1h-1zM16 2h1v1h-1zM78 2h1v1h-1zM98 2h1v1h-1zM120 2h1v1h-1zM180 2h1v1h-1zM183 2h1v1h-1zM201 2h1v1h-1zM206 2h1v1h-1zM275 2h1v1h-1zM281 2h1v1h-1zM11 3h1v1h-1zM13 3h1v1h-1zM16 3h1v1h-1zM114 3h1v1h-1zM117 3h1v1h-1zM206 3h2v1h-2zM243 3h1v1h-1zM258 3h1v1h-1zM8 4h1v1h-1zM129 4h1v1h-1zM160 4h1v1h-1zM228 4h1v1h-1zM248 4h1v1h-1zM250 4h1v1h-1zM256 4h1v1h-1zM264 4h1v1h-1zM272 4h1v1h-1zM277 4h1v1h-1zM288 4h1v1h-1zM42 5h1v1h-1zM45 5h1v1h-1zM103 5h1v1h-1zM190 5h1v1h-1zM242 5h1v1h-1zM258 5h1v1h-1zM264 5h1v1h-1zM268 5h1v1h-1zM13 6h1v1h-1zM22 6h1v1h-1zM42 6h1v1h-1zM105 6h1v1h-1zM110 6h1v1h-1zM123 6h1v1h-1zM218 6h1v1h-1zM11 7h1v1h-1zM55 7h1v1h-1zM58 7h1v1h-1zM67 7h2v1h-2zM85 7h1v1h-1zM105 7h3v1h-3zM206 7h1v1h-1zM208 7h1v1h-1zM228 7h1v1h-1zM235 7h1v1h-1zM237 7h1v1h-1zM269 7h1v1h-1zM9 8h1v1h-1zM72 8h1v1h-1zM74 8h1v1h-1zM83 8h1v1h-1zM109 8h1v1h-1zM119 8h2v1h-2zM226 8h1v1h-1zM229 8h2v1h-2zM240 8h1v1h-1zM269 8h1v1h-1zM9 9h1v1h-1zM70 9h1v1h-1zM111 9h1v1h-1zM126 9h1v1h-1zM159 9h1v1h-1zM161 9h1v1h-1zM238 9h1v1h-1zM245 9h1v1h-1zM268 9h1v1h-1zM273 9h1v1h-1zM284 9h1v1h-1zM40 10h2v1h-2zM74 10h1v1h-1zM77 10h1v1h-1zM87 10h1v1h-1zM108 10h1v1h-1zM116 10h2v1h-2zM170 10h1v1h-1zM242 10h1v1h-1zM46 11h1v1h-1zM80 11h1v1h-1zM89 11h1v1h-1zM112 11h1v1h-1zM120 11h1v1h-1zM192 11h1v1h-1zM265 11h1v1h-1zM281 11h1v1h-1zM44 12h1v1h-1zM69 12h1v1h-1zM71 12h1v1h-1zM118 12h1v1h-1zM162 12h1v1h-1zM176 12h1v1h-1zM234 12h1v1h-1zM246 12h1v1h-1zM260 12h1v1h-1zM92 13h1v1h-1zM115 13h1v1h-1zM122 13h2v1h-2zM160 13h1v1h-1zM163 13h1v1h-1zM167 13h1v1h-1zM181 13h1v1h-1zM184 13h1v1h-1zM199 13h2v1h-2zM234 13h1v1h-1zM282 13h1v1h-1zM67 14h1v1h-1zM167 14h2v1h-2zM170 14h1v1h-1zM183 14h1v1h-1zM187 14h1v1h-1zM231 14h1v1h-1zM242 14h1v1h-1zM168 15h1v1h-1zM191 15h1v1h-1zM196 15h1v1h-1zM201 15h1v1h-1zM276 15h2v1h-2zM173 16h1v1h-1zM178 16h1v1h-1zM198 16h1v1h-1zM173 17h1v1h-1z"/><path fill="#88e0b8" d="M110 0h2v1h-2zM190 1h1v1h-1zM126 2h1v1h-1zM287 3h1v1h-1zM121 4h1v1h-1zM180 4h1v1h-1zM197 4h1v1h-1zM4 5h1v1h-1zM10 5h1v1h-1zM159 5h1v1h-1zM281 5h1v1h-1zM6 6h1v1h-1zM14 6h1v1h-1zM116 6h1v1h-1zM283 6h1v1h-1zM65 7h1v1h-1zM157 7h1v1h-1zM164 7h1v1h-1zM15 8h1v1h-1zM187 8h1v1h-1zM236 8h1v1h-1zM244 8h1v1h-1zM88 9h1v1h-1zM67 10h1v1h-1zM110 10h1v1h-1zM114 10h1v1h-1zM192 10h1v1h-1zM123 11h1v1h-1zM126 11h1v1h-1zM115 12h1v1h-1zM174 12h1v1h-1zM166 13h1v1h-1zM236 13h1v1h-1zM173 14h1v1h-1zM202 14h1v1h-1zM174 15h1v1h-1z"/><path fill="#98e880" d="M112 0h1v1h-1zM279 3h1v1h-1zM280 4h1v1h-1zM282 4h1v1h-1zM111 5h1v1h-1zM78 6h1v1h-1zM42 8h1v1h-1zM78 8h1v1h-1zM54 9h1v1h-1zM167 9h1v1h-1zM175 9h1v1h-1zM184 9h1v1h-1z"/><path fill="#88d8d0" d="M117 0h1v1h-1zM246 5h1v1h-1zM129 7h1v1h-1zM169 10h1v1h-1zM172 12h1v1h-1z"/><path fill="#b0d8f0" d="M125 0h1v1h-1zM10 1h1v1h-1zM36 1h1v1h-1zM81 1h1v1h-1zM122 1h1v1h-1zM215 1h1v1h-1zM258 1h1v1h-1zM38 2h1v1h-1zM47 3h1v1h-1zM132 3h1v1h-1zM164 3h1v1h-1zM97 5h1v1h-1zM218 5h1v1h-1zM227 5h1v1h-1zM274 5h1v1h-1zM23 6h1v1h-1zM51 6h1v1h-1zM130 6h1v1h-1zM227 6h2v1h-2zM4 7h1v1h-1zM221 7h1v1h-1zM157 8h1v1h-1zM192 8h1v1h-1zM252 8h1v1h-1zM63 9h1v1h-1zM92 9h1v1h-1zM219 9h1v1h-1zM255 9h1v1h-1zM105 10h1v1h-1zM48 11h1v1h-1zM79 11h1v1h-1zM258 12h1v1h-1zM273 12h1v1h-1zM64 13h1v1h-1zM161 13h1v1h-1zM287 13h1v1h-1zM115 14h1v1h-1zM121 14h1v1h-1zM123 14h2v1h-2zM263 14h1v1h-1zM267 14h1v1h-1zM204 16h1v1h-1zM244 16h1v1h-1zM168 17h1v1h-1z"/><path fill="#f8f8ff" d="M132 0h1v1h-1zM134 0h1v1h-1zM159 0h1v1h-1zM171 0h1v1h-1zM176 0h1v1h-1zM211 0h1v1h-1zM268 0h1v1h-1zM272 0h1v1h-1zM294 0h1v1h-1zM46 1h1v1h-1zM74 1h1v1h-1zM85 1h1v1h-1zM133 1h1v1h-1zM135 1h1v1h-1zM138 1h1v1h-1zM218 1h1v1h-1zM279 1h1v1h-1zM291 1h1v1h-1zM27 2h1v1h-1zM29 2h1v1h-1zM88 2h1v1h-1zM139 2h1v1h-1zM247 2h1v1h-1zM30 3h1v1h-1zM38 3h2v1h-2zM72 3h1v1h-1zM9 4h1v1h-1zM57 4h1v1h-1zM72 4h1v1h-1zM154 4h1v1h-1zM239 4h1v1h-1zM266 4h1v1h-1zM100 5h1v1h-1zM213 5h1v1h-1zM236 5h1v1h-1zM29 6h1v1h-1zM69 6h1v1h-1zM213 6h1v1h-1zM250 6h1v1h-1zM268 6h1v1h-1zM289 6h1v1h-1zM2 7h1v1h-1zM100 7h1v1h-1zM299 7h1v1h-1zM5 8h1v1h-1zM238 8h1v1h-1zM27 9h1v1h-1zM62 9h1v1h-1zM74 9h1v1h-1zM95 9h1v1h-1zM216 9h1v1h-1zM13 10h1v1h-1zM217 10h1v1h-1zM240 10h1v1h-1zM289 10h1v1h-1zM292 10h1v1h-1zM295 10h1v1h-1zM297 10h2v1h-2zM5 11h1v1h-1zM21 11h1v1h-1zM116 11h1v1h-1zM134 11h1v1h-1zM175 11h1v1h-1zM3 12h1v1h-1zM5 12h1v1h-1zM9 12h1v1h-1zM14 12h6v1h-6zM221 12h1v1h-1zM226 12h1v1h-1zM9 13h1v1h-1zM14 13h1v1h-1zM18 13h1v1h-1zM104 13h1v1h-1zM292 13h1v1h-1zM294 13h1v1h-1zM35 14h1v1h-1zM39 14h1v1h-1zM225 14h1v1h-1zM227 14h1v1h-1zM276 14h1v1h-1zM293 14h1v1h-1zM48 15h1v1h-1zM116 15h1v1h-1zM128 15h1v1h-1zM208 15h1v1h-1zM218 15h1v1h-1zM225 15h1v1h-1zM294 15h1v1h-1zM72 16h1v1h-1zM74 16h1v1h-1zM206 16h1v1h-1zM222 16h1v1h-1zM225 16h1v1h-1zM292 16h1v1h-1zM298 16h1v1h-1zM38 17h1v1h-1zM45 17h1v1h-1zM73 17h1v1h-1zM111 17h1v1h-1zM124 17h1v1h-1zM159 17h3v1h-3zM205 17h1v1h-1zM230 17h1v1h-1zM270 17h1v1h-1zM66 18h1v1h-1zM117 18h1v1h-1zM203 18h1v1h-1zM235 18h2v1h-2zM249 18h2v1h-2zM252 18h1v1h-1zM256 18h1v1h-1zM283 18h1v1h-1z"/><path fill="#a0d8f0" d="M178 0h1v1h-1zM182 0h1v1h-1zM194 0h1v1h-1zM217 0h1v1h-1zM255 0h1v1h-1zM280 0h1v1h-1zM20 1h1v1h-1zM24 1h1v1h-1zM79 1h1v1h-1zM115 1h2v1h-2zM118 1h1v1h-1zM169 1h2v1h-2zM208 1h1v1h-1zM253 1h1v1h-1zM273 1h1v1h-1zM278 1h1v1h-1zM286 1h1v1h-1zM41 2h1v1h-1zM44 2h1v1h-1zM79 2h1v1h-1zM83 2h1v1h-1zM91 2h1v1h-1zM176 2h1v1h-1zM178 2h1v1h-1zM215 2h1v1h-1zM255 2h1v1h-1zM259 2h1v1h-1zM274 2h1v1h-1zM282 2h1v1h-1zM284 2h2v1h-2zM296 2h1v1h-1zM55 3h1v1h-1zM80 3h1v1h-1zM99 3h1v1h-1zM227 3h1v1h-1zM242 3h1v1h-1zM247 3h1v1h-1zM273 3h1v1h-1zM284 3h1v1h-1zM2 4h1v1h-1zM41 4h1v1h-1zM45 4h2v1h-2zM75 4h1v1h-1zM103 4h1v1h-1zM177 4h1v1h-1zM207 4h1v1h-1zM230 4h1v1h-1zM242 4h1v1h-1zM249 4h1v1h-1zM52 5h1v1h-1zM55 5h1v1h-1zM57 5h1v1h-1zM91 5h1v1h-1zM94 5h1v1h-1zM129 5h2v1h-2zM164 5h1v1h-1zM169 5h1v1h-1zM254 5h1v1h-1zM263 5h1v1h-1zM44 6h1v1h-1zM46 6h1v1h-1zM58 6h1v1h-1zM75 6h1v1h-1zM85 6h1v1h-1zM88 6h1v1h-1zM180 6h1v1h-1zM223 6h1v1h-1zM230 6h2v1h-2zM26 7h1v1h-1zM45 7h1v1h-1zM52 7h1v1h-1zM56 7h1v1h-1zM84 7h1v1h-1zM156 7h1v1h-1zM183 7h1v1h-1zM226 7h1v1h-1zM233 7h1v1h-1zM245 7h1v1h-1zM253 7h1v1h-1zM266 7h1v1h-1zM268 7h1v1h-1zM272 7h1v1h-1zM292 7h1v1h-1zM54 8h1v1h-1zM65 8h1v1h-1zM81 8h1v1h-1zM164 8h1v1h-1zM225 8h1v1h-1zM232 8h1v1h-1zM247 8h1v1h-1zM8 9h1v1h-1zM18 9h1v1h-1zM21 9h1v1h-1zM49 9h1v1h-1zM52 9h1v1h-1zM83 9h1v1h-1zM93 9h1v1h-1zM157 9h1v1h-1zM205 9h1v1h-1zM230 9h1v1h-1zM235 9h1v1h-1zM244 9h1v1h-1zM270 9h1v1h-1zM286 9h1v1h-1zM42 10h1v1h-1zM93 10h1v1h-1zM115 10h1v1h-1zM159 10h1v1h-1zM166 10h1v1h-1zM231 10h1v1h-1zM269 10h1v1h-1zM277 10h2v1h-2zM284 10h1v1h-1zM78 11h1v1h-1zM110 11h1v1h-1zM121 11h1v1h-1zM127 11h1v1h-1zM169 11h1v1h-1zM237 11h1v1h-1zM267 11h1v1h-1zM280 11h1v1h-1zM282 11h1v1h-1zM41 12h1v1h-1zM70 12h1v1h-1zM74 12h1v1h-1zM86 12h1v1h-1zM117 12h1v1h-1zM121 12h2v1h-2zM279 12h1v1h-1zM281 12h1v1h-1zM71 13h1v1h-1zM110 13h1v1h-1zM125 13h1v1h-1zM164 13h2v1h-2zM203 13h2v1h-2zM231 13h1v1h-1zM265 13h1v1h-1zM274 13h1v1h-1zM281 13h1v1h-1zM64 14h1v1h-1zM70 14h1v1h-1zM90 14h1v1h-1zM162 14h1v1h-1zM165 14h1v1h-1zM178 14h1v1h-1zM196 14h1v1h-1zM198 14h2v1h-2zM206 14h1v1h-1zM232 14h1v1h-1zM235 14h2v1h-2zM265 14h2v1h-2zM268 14h1v1h-1zM273 14h1v1h-1zM275 14h1v1h-1zM171 15h1v1h-1zM184 15h1v1h-1zM197 15h1v1h-1zM202 15h1v1h-1zM239 15h1v1h-1zM243 15h1v1h-1zM260 15h1v1h-1zM269 15h1v1h-1zM169 16h2v1h-2zM182 16h1v1h-1zM243 16h1v1h-1zM272 16h1v1h-1zM179 17h1v1h-1zM187 17h1v1h-1zM189 17h1v1h-1zM186 18h1v1h-1z"/><path fill="#88d0e8" d="M179 0h2v1h-2zM7 1h1v1h-1zM172 1h1v1h-1zM174 1h1v1h-1zM185 1h1v1h-1zM196 1h1v1h-1zM202 1h1v1h-1zM283 1h1v1h-1zM2 2h1v1h-1zM10 2h1v1h-1zM51 2h1v1h-1zM93 2h2v1h-2zM106 2h1v1h-1zM114 2h1v1h-1zM246 2h1v1h-1zM261 2h1v1h-1zM286 2h1v1h-1zM1 3h1v1h-1zM18 3h1v1h-1zM23 3h1v1h-1zM51 3h2v1h-2zM128 3h1v1h-1zM162 3h1v1h-1zM220 3h1v1h-1zM272 3h1v1h-1zM286 3h1v1h-1zM288 3h1v1h-1zM79 4h1v1h-1zM82 4h1v1h-1zM166 4h1v1h-1zM171 4h1v1h-1zM227 4h1v1h-1zM2 5h1v1h-1zM25 5h1v1h-1zM174 5h1v1h-1zM244 5h1v1h-1zM5 6h1v1h-1zM10 6h1v1h-1zM18 6h1v1h-1zM229 6h1v1h-1zM241 6h1v1h-1zM262 6h1v1h-1zM284 6h2v1h-2zM27 7h1v1h-1zM78 7h1v1h-1zM90 7h1v1h-1zM231 7h1v1h-1zM236 7h1v1h-1zM13 8h1v1h-1zM40 8h1v1h-1zM56 8h1v1h-1zM68 8h1v1h-1zM82 8h1v1h-1zM92 8h1v1h-1zM126 8h2v1h-2zM13 9h1v1h-1zM66 9h1v1h-1zM128 9h1v1h-1zM232 9h2v1h-2zM258 9h1v1h-1zM45 10h1v1h-1zM76 10h1v1h-1zM82 10h1v1h-1zM44 11h1v1h-1zM70 11h1v1h-1zM93 11h1v1h-1zM170 11h1v1h-1zM201 11h1v1h-1zM205 11h1v1h-1zM232 11h1v1h-1zM258 11h1v1h-1zM263 11h1v1h-1zM42 12h2v1h-2zM55 12h1v1h-1zM114 12h1v1h-1zM123 12h1v1h-1zM168 12h1v1h-1zM177 12h1v1h-1zM243 12h1v1h-1zM259 12h1v1h-1zM274 12h1v1h-1zM283 12h1v1h-1zM65 13h1v1h-1zM113 13h1v1h-1zM121 13h1v1h-1zM178 13h1v1h-1zM182 13h1v1h-1zM191 13h1v1h-1zM196 13h1v1h-1zM206 13h1v1h-1zM65 14h1v1h-1zM92 14h1v1h-1zM166 14h1v1h-1zM204 14h1v1h-1zM245 14h1v1h-1zM264 14h1v1h-1zM67 15h1v1h-1zM166 15h1v1h-1zM169 15h1v1h-1zM172 15h1v1h-1zM195 15h1v1h-1zM197 16h1v1h-1zM178 17h1v1h-1z"/><path fill="#80c8e0" d="M181 0h1v1h-1zM246 4h1v1h-1zM14 10h1v1h-1z"/><path fill="#88d0d0" d="M183 0h1v1h-1zM15 2h1v1h-1zM194 2h1v1h-1zM198 2h2v1h-2zM278 2h1v1h-1zM97 3h1v1h-1zM204 3h1v1h-1zM259 3h1v1h-1zM7 4h1v1h-1zM13 4h1v1h-1zM117 4h1v1h-1zM122 4h1v1h-1zM189 4h1v1h-1zM12 5h1v1h-1zM21 5h1v1h-1zM77 5h1v1h-1zM104 5h1v1h-1zM191 5h1v1h-1zM255 5h1v1h-1zM262 5h1v1h-1zM269 5h1v1h-1zM66 6h1v1h-1zM96 6h2v1h-2zM174 6h1v1h-1zM254 6h1v1h-1zM265 6h1v1h-1zM282 6h1v1h-1zM9 7h1v1h-1zM93 7h1v1h-1zM285 8h1v1h-1zM53 9h1v1h-1zM122 9h1v1h-1zM158 9h1v1h-1zM259 9h1v1h-1zM109 10h1v1h-1zM118 10h1v1h-1zM168 10h1v1h-1zM109 11h1v1h-1zM159 11h1v1h-1zM166 11h1v1h-1zM180 11h1v1h-1zM236 11h1v1h-1zM64 12h1v1h-1zM76 12h1v1h-1zM173 12h1v1h-1zM205 13h1v1h-1zM185 14h1v1h-1zM170 15h1v1h-1zM196 16h1v1h-1z"/><path fill="#a0d0f0" d="M185 0h1v1h-1zM21 2h1v1h-1zM222 4h1v1h-1zM41 5h1v1h-1zM226 5h1v1h-1zM290 5h1v1h-1zM45 8h1v1h-1zM105 8h1v1h-1zM208 8h1v1h-1zM265 9h1v1h-1zM58 10h1v1h-1zM269 13h1v1h-1zM162 15h1v1h-1z"/><path fill="#80d0e0" d="M188 0h1v1h-1zM193 0h1v1h-1zM6 1h1v1h-1zM97 1h1v1h-1zM106 1h1v1h-1zM176 1h1v1h-1zM178 1h1v1h-1zM203 1h1v1h-1zM280 1h1v1h-1zM42 2h1v1h-1zM104 2h1v1h-1zM110 2h2v1h-2zM127 2h1v1h-1zM169 2h1v1h-1zM172 2h2v1h-2zM182 2h1v1h-1zM276 2h1v1h-1zM166 3h1v1h-1zM205 3h1v1h-1zM225 3h1v1h-1zM253 3h2v1h-2zM275 3h1v1h-1zM78 4h1v1h-1zM120 4h1v1h-1zM186 4h1v1h-1zM224 4h1v1h-1zM99 5h1v1h-1zM107 5h1v1h-1zM157 5h2v1h-2zM168 5h1v1h-1zM243 5h1v1h-1zM287 5h1v1h-1zM21 6h1v1h-1zM68 6h1v1h-1zM76 6h1v1h-1zM208 6h1v1h-1zM274 6h1v1h-1zM256 7h1v1h-1zM91 8h1v1h-1zM121 8h1v1h-1zM268 8h1v1h-1zM45 9h1v1h-1zM120 9h1v1h-1zM229 9h1v1h-1zM234 9h1v1h-1zM256 9h1v1h-1zM271 9h1v1h-1zM283 9h1v1h-1zM44 10h1v1h-1zM81 10h1v1h-1zM162 10h2v1h-2zM171 10h1v1h-1zM175 10h1v1h-1zM228 10h1v1h-1zM234 10h1v1h-1zM236 10h1v1h-1zM247 10h1v1h-1zM268 10h1v1h-1zM39 11h1v1h-1zM238 11h1v1h-1zM244 11h1v1h-1zM77 12h1v1h-1zM165 12h1v1h-1zM183 13h1v1h-1zM261 13h1v1h-1zM273 13h1v1h-1zM66 14h1v1h-1zM172 14h1v1h-1zM246 14h1v1h-1zM90 15h1v1h-1zM176 15h1v1h-1zM242 15h1v1h-1zM185 17h1v1h-1z"/><path fill="#90e898" d="M192 0h1v1h-1zM200 0h1v1h-1zM179 1h1v1h-1zM200 1h1v1h-1zM9 3h1v1h-1zM118 3h1v1h-1zM168 3h1v1h-1zM189 3h2v1h-2zM162 4h1v1h-1zM187 4h1v1h-1zM201 4h1v1h-1zM204 4h1v1h-1zM247 4h1v1h-1zM22 5h1v1h-1zM180 5h1v1h-1zM205 5h2v1h-2zM278 5h1v1h-1zM65 6h1v1h-1zM163 6h1v1h-1zM168 6h1v1h-1zM273 6h1v1h-1zM22 7h1v1h-1zM43 7h1v1h-1zM124 7h1v1h-1zM43 8h1v1h-1zM94 8h1v1h-1zM195 8h1v1h-1zM203 8h1v1h-1zM279 8h1v1h-1zM68 9h1v1h-1zM80 9h1v1h-1zM110 9h1v1h-1zM203 9h1v1h-1zM181 10h1v1h-1zM67 11h1v1h-1zM91 11h1v1h-1zM119 11h1v1h-1zM185 11h1v1h-1zM233 11h1v1h-1zM240 11h1v1h-1zM197 12h1v1h-1zM267 12h1v1h-1zM67 13h1v1h-1zM88 13h1v1h-1zM195 13h1v1h-1z"/><path fill="#98f080" d="M197 0h1v1h-1zM7 3h1v1h-1zM104 3h1v1h-1zM170 3h1v1h-1zM186 3h1v1h-1zM124 4h1v1h-1zM192 4h1v1h-1zM252 4h1v1h-1zM259 4h1v1h-1zM281 4h1v1h-1zM92 5h1v1h-1zM178 5h1v1h-1zM195 5h1v1h-1zM207 5h1v1h-1zM8 6h1v1h-1zM15 6h1v1h-1zM82 6h1v1h-1zM111 6h1v1h-1zM205 6h1v1h-1zM20 7h1v1h-1zM123 8h1v1h-1zM205 8h1v1h-1zM259 8h1v1h-1zM278 8h1v1h-1zM43 9h1v1h-1zM279 9h1v1h-1zM164 10h1v1h-1zM185 10h1v1h-1zM203 10h1v1h-1zM261 10h1v1h-1zM69 11h1v1h-1zM273 11h1v1h-1zM166 12h1v1h-1zM171 12h1v1h-1zM188 12h1v1h-1zM199 12h1v1h-1zM163 14h1v1h-1zM174 14h1v1h-1zM243 14h1v1h-1z"/><path fill="#90e0a0" d="M202 0h1v1h-1zM204 0h1v1h-1zM199 1h1v1h-1zM204 1h1v1h-1zM80 2h1v1h-1zM103 2h1v1h-1zM105 2h1v1h-1zM123 2h1v1h-1zM181 2h1v1h-1zM193 2h1v1h-1zM12 3h1v1h-1zM121 3h1v1h-1zM187 3h1v1h-1zM191 3h1v1h-1zM278 3h1v1h-1zM17 4h1v1h-1zM83 4h1v1h-1zM261 4h1v1h-1zM13 5h1v1h-1zM24 5h1v1h-1zM167 5h1v1h-1zM179 5h1v1h-1zM193 5h1v1h-1zM272 5h1v1h-1zM165 6h1v1h-1zM245 6h1v1h-1zM275 6h1v1h-1zM54 7h1v1h-1zM109 7h1v1h-1zM160 7h1v1h-1zM259 7h1v1h-1zM283 7h1v1h-1zM161 8h1v1h-1zM177 8h1v1h-1zM194 8h1v1h-1zM170 9h1v1h-1zM189 9h1v1h-1zM172 10h2v1h-2zM259 10h2v1h-2zM203 11h1v1h-1zM65 12h1v1h-1zM112 12h1v1h-1zM116 12h1v1h-1zM163 12h1v1h-1zM192 12h1v1h-1zM197 13h1v1h-1zM239 13h1v1h-1zM194 14h1v1h-1zM185 16h1v1h-1zM189 16h1v1h-1z"/><path fill="#a0f078" d="M203 0h1v1h-1zM203 2h1v1h-1zM98 3h1v1h-1zM165 4h1v1h-1zM198 4h1v1h-1zM200 4h1v1h-1zM244 4h1v1h-1zM283 4h1v1h-1zM8 5h1v1h-1zM18 5h1v1h-1zM106 5h1v1h-1zM118 5h1v1h-1zM186 5h1v1h-1zM284 5h1v1h-1zM288 5h1v1h-1zM161 6h1v1h-1zM164 6h1v1h-1zM169 6h1v1h-1zM187 6h2v1h-2zM193 6h1v1h-1zM266 6h1v1h-1zM82 7h1v1h-1zM159 7h1v1h-1zM204 7h1v1h-1zM274 7h1v1h-1zM276 7h2v1h-2zM79 8h1v1h-1zM107 8h2v1h-2zM115 8h1v1h-1zM166 8h1v1h-1zM169 8h1v1h-1zM171 8h1v1h-1zM202 8h1v1h-1zM241 8h1v1h-1zM274 8h1v1h-1zM44 9h1v1h-1zM173 9h1v1h-1zM201 9h1v1h-1zM275 9h1v1h-1zM125 10h1v1h-1zM182 10h1v1h-1zM186 10h1v1h-1zM190 10h1v1h-1zM201 10h1v1h-1zM265 10h1v1h-1zM42 11h1v1h-1zM193 11h1v1h-1zM200 11h1v1h-1zM170 12h1v1h-1zM184 12h1v1h-1zM190 13h1v1h-1zM262 13h1v1h-1zM186 15h1v1h-1zM193 15h2v1h-2zM186 16h1v1h-1z"/><path fill="#80d0d8" d="M205 0h1v1h-1zM189 1h1v1h-1zM107 2h1v1h-1zM122 2h1v1h-1zM243 2h1v1h-1zM277 2h1v1h-1zM6 3h1v1h-1zM44 3h1v1h-1zM95 3h2v1h-2zM172 3h1v1h-1zM174 3h2v1h-2zM197 3h1v1h-1zM246 3h1v1h-1zM10 4h1v1h-1zM157 4h1v1h-1zM184 4h1v1h-1zM188 4h1v1h-1zM223 4h1v1h-1zM123 5h1v1h-1zM161 5h1v1h-1zM200 5h1v1h-1zM247 5h1v1h-1zM79 6h1v1h-1zM158 6h1v1h-1zM257 6h1v1h-1zM7 7h1v1h-1zM118 7h1v1h-1zM188 7h2v1h-2zM192 7h2v1h-2zM162 8h1v1h-1zM41 9h1v1h-1zM90 9h1v1h-1zM108 9h1v1h-1zM119 9h1v1h-1zM121 9h1v1h-1zM276 9h1v1h-1zM129 10h1v1h-1zM238 10h1v1h-1zM241 10h1v1h-1zM283 10h1v1h-1zM40 11h1v1h-1zM113 11h1v1h-1zM115 11h1v1h-1zM124 11h1v1h-1zM235 11h1v1h-1zM243 11h1v1h-1zM53 12h1v1h-1zM175 12h1v1h-1zM237 12h1v1h-1zM242 12h1v1h-1zM245 12h1v1h-1zM266 12h1v1h-1zM278 12h1v1h-1zM278 13h1v1h-1zM239 14h1v1h-1zM200 15h1v1h-1zM233 15h1v1h-1z"/><path fill="#c8f840" d="M3 1h1v1h-1zM282 3h1v1h-1zM181 4h1v1h-1zM113 5h1v1h-1zM203 5h1v1h-1zM260 5h1v1h-1zM184 7h1v1h-1zM191 7h1v1h-1zM198 7h1v1h-1zM168 8h1v1h-1zM193 8h1v1h-1zM165 9h1v1h-1zM188 9h1v1h-1zM196 9h2v1h-2zM197 10h1v1h-1zM263 10h1v1h-1zM241 11h1v1h-1z"/><path fill="#80d0d0" d="M5 1h1v1h-1zM244 3h1v1h-1zM229 4h1v1h-1zM223 5h1v1h-1zM41 7h1v1h-1zM55 9h1v1h-1zM125 9h1v1h-1zM187 13h1v1h-1z"/><path fill="#90d0f0" d="M37 1h1v1h-1zM175 2h1v1h-1zM224 2h1v1h-1zM62 6h1v1h-1zM156 6h1v1h-1zM206 6h1v1h-1zM75 7h1v1h-1zM121 7h1v1h-1zM71 8h1v1h-1zM82 9h1v1h-1zM54 12h1v1h-1zM118 14h1v1h-1zM275 15h1v1h-1zM170 17h1v1h-1zM189 18h1v1h-1z"/><path fill="#88c8e8" d="M105 1h1v1h-1zM184 1h1v1h-1zM4 2h1v1h-1zM19 2h1v1h-1zM189 2h1v1h-1zM127 3h1v1h-1zM216 3h1v1h-1zM77 4h1v1h-1zM97 4h1v1h-1zM111 4h1v1h-1zM279 4h1v1h-1zM105 5h1v1h-1zM126 5h1v1h-1zM52 6h1v1h-1zM57 6h1v1h-1zM53 7h1v1h-1zM186 7h1v1h-1zM251 7h1v1h-1zM285 7h1v1h-1zM207 8h1v1h-1zM91 9h1v1h-1zM123 9h1v1h-1zM272 11h1v1h-1zM92 12h1v1h-1zM110 12h1v1h-1zM164 12h1v1h-1zM171 13h1v1h-1zM244 13h1v1h-1zM279 13h1v1h-1zM177 15h1v1h-1z"/><path fill="#88d8c8" d="M108 1h1v1h-1zM192 1h1v1h-1zM205 1h1v1h-1zM3 2h1v1h-1zM9 2h1v1h-1zM14 2h1v1h-1zM226 2h1v1h-1zM279 2h1v1h-1zM79 3h1v1h-1zM125 3h1v1h-1zM256 3h1v1h-1zM15 4h1v1h-1zM21 4h1v1h-1zM221 4h1v1h-1zM54 5h1v1h-1zM127 5h1v1h-1zM175 5h1v1h-1zM189 5h1v1h-1zM251 5h1v1h-1zM253 5h1v1h-1zM17 6h1v1h-1zM40 6h1v1h-1zM83 6h1v1h-1zM92 6h1v1h-1zM117 6h1v1h-1zM259 6h1v1h-1zM115 7h1v1h-1zM243 7h2v1h-2zM271 7h1v1h-1zM281 7h2v1h-2zM287 7h1v1h-1zM55 8h1v1h-1zM58 8h1v1h-1zM129 8h1v1h-1zM188 8h1v1h-1zM118 9h1v1h-1zM243 9h1v1h-1zM68 10h1v1h-1zM107 10h1v1h-1zM165 10h1v1h-1zM179 10h1v1h-1zM191 10h1v1h-1zM195 10h1v1h-1zM262 10h1v1h-1zM41 11h1v1h-1zM189 11h1v1h-1zM109 12h1v1h-1zM175 13h1v1h-1zM68 14h1v1h-1zM181 14h1v1h-1zM186 14h1v1h-1zM187 16h1v1h-1zM186 17h1v1h-1z"/><path fill="#a8f068" d="M110 1h1v1h-1zM196 2h1v1h-1zM276 3h1v1h-1zM191 4h1v1h-1zM284 4h1v1h-1zM109 5h1v1h-1zM121 5h1v1h-1zM183 5h1v1h-1zM261 5h1v1h-1zM19 7h1v1h-1zM172 7h1v1h-1zM176 7h1v1h-1zM205 7h1v1h-1zM167 8h1v1h-1zM197 8h1v1h-1zM119 10h1v1h-1zM189 10h1v1h-1zM183 11h1v1h-1zM239 12h1v1h-1zM66 13h1v1h-1z"/><path fill="#a0f070" d="M112 1h1v1h-1zM193 1h1v1h-1zM116 2h1v1h-1zM184 3h1v1h-1zM280 3h1v1h-1zM96 4h1v1h-1zM195 4h1v1h-1zM199 4h1v1h-1zM112 5h1v1h-1zM119 5h1v1h-1zM192 5h1v1h-1zM273 5h1v1h-1zM166 6h1v1h-1zM174 7h1v1h-1zM196 8h1v1h-1zM174 9h1v1h-1zM126 10h1v1h-1zM180 10h1v1h-1zM273 10h1v1h-1zM90 11h1v1h-1zM239 11h1v1h-1zM187 12h1v1h-1zM200 12h1v1h-1zM202 12h1v1h-1zM194 13h1v1h-1zM193 14h1v1h-1z"/><path fill="#88d8c0" d="M173 1h1v1h-1zM186 1h1v1h-1zM284 1h1v1h-1zM96 2h1v1h-1zM174 2h1v1h-1zM287 2h1v1h-1zM78 3h1v1h-1zM167 3h1v1h-1zM23 4h1v1h-1zM54 4h1v1h-1zM105 4h1v1h-1zM164 4h1v1h-1zM11 5h1v1h-1zM14 5h1v1h-1zM43 5h1v1h-1zM173 5h1v1h-1zM256 5h1v1h-1zM275 5h1v1h-1zM171 6h1v1h-1zM202 6h1v1h-1zM256 6h1v1h-1zM264 6h1v1h-1zM66 7h1v1h-1zM94 7h1v1h-1zM127 7h1v1h-1zM163 7h1v1h-1zM273 7h1v1h-1zM16 8h1v1h-1zM130 8h1v1h-1zM233 8h1v1h-1zM40 9h1v1h-1zM42 9h1v1h-1zM57 9h1v1h-1zM64 9h1v1h-1zM129 9h1v1h-1zM171 9h1v1h-1zM122 10h1v1h-1zM167 10h1v1h-1zM282 10h1v1h-1zM168 11h1v1h-1zM177 11h3v1h-3zM181 11h1v1h-1zM195 11h1v1h-1zM202 11h1v1h-1zM279 11h1v1h-1zM162 13h1v1h-1zM259 13h1v1h-1zM164 14h1v1h-1zM237 14h1v1h-1zM274 14h1v1h-1zM89 15h1v1h-1zM178 15h1v1h-1z"/><path fill="#90e890" d="M181 1h1v1h-1zM108 2h1v1h-1zM195 2h1v1h-1zM5 3h1v1h-1zM8 3h1v1h-1zM42 3h1v1h-1zM185 3h1v1h-1zM200 3h1v1h-1zM277 3h1v1h-1zM5 4h1v1h-1zM174 4h1v1h-1zM203 4h1v1h-1zM9 5h1v1h-1zM125 5h1v1h-1zM165 5h1v1h-1zM204 5h1v1h-1zM208 5h1v1h-1zM20 6h1v1h-1zM77 6h1v1h-1zM120 6h1v1h-1zM124 6h1v1h-1zM162 6h1v1h-1zM167 6h1v1h-1zM195 6h1v1h-1zM280 6h2v1h-2zM12 7h1v1h-1zM187 7h1v1h-1zM195 7h1v1h-1zM284 7h1v1h-1zM286 7h1v1h-1zM77 8h1v1h-1zM93 8h1v1h-1zM116 8h1v1h-1zM118 8h1v1h-1zM124 8h1v1h-1zM128 8h1v1h-1zM176 8h1v1h-1zM245 8h1v1h-1zM237 9h1v1h-1zM200 10h1v1h-1zM274 10h2v1h-2zM70 13h1v1h-1zM174 13h1v1h-1zM188 13h1v1h-1zM190 14h1v1h-1zM175 15h1v1h-1zM187 15h1v1h-1z"/><path fill="#80c8e8" d="M191 1h1v1h-1zM201 1h1v1h-1zM117 2h1v1h-1zM125 2h1v1h-1zM197 2h1v1h-1zM217 2h1v1h-1zM272 2h1v1h-1zM283 2h1v1h-1zM188 3h1v1h-1zM255 3h1v1h-1zM3 4h1v1h-1zM220 4h1v1h-1zM44 5h1v1h-1zM170 5h1v1h-1zM196 5h1v1h-1zM55 6h1v1h-1zM64 6h1v1h-1zM106 6h1v1h-1zM109 6h1v1h-1zM119 6h1v1h-1zM263 6h1v1h-1zM15 7h1v1h-1zM63 7h2v1h-2zM92 7h1v1h-1zM119 7h1v1h-1zM130 7h1v1h-1zM161 7h1v1h-1zM270 7h1v1h-1zM289 7h1v1h-1zM67 8h1v1h-1zM106 8h1v1h-1zM184 8h1v1h-1zM283 8h1v1h-1zM287 8h1v1h-1zM69 9h1v1h-1zM78 9h1v1h-1zM107 9h1v1h-1zM242 9h1v1h-1zM257 9h1v1h-1zM285 9h1v1h-1zM80 10h1v1h-1zM174 10h1v1h-1zM205 10h1v1h-1zM279 10h1v1h-1zM108 11h1v1h-1zM111 11h1v1h-1zM260 11h1v1h-1zM87 12h1v1h-1zM126 12h1v1h-1zM167 12h1v1h-1zM204 12h1v1h-1zM282 12h1v1h-1zM40 13h1v1h-1zM170 13h1v1h-1zM201 13h1v1h-1zM260 13h1v1h-1zM268 13h1v1h-1zM179 14h1v1h-1zM182 14h1v1h-1zM184 14h1v1h-1zM191 14h1v1h-1zM197 14h1v1h-1zM66 15h1v1h-1zM88 15h1v1h-1zM173 15h1v1h-1zM180 15h1v1h-1zM190 15h1v1h-1zM236 15h1v1h-1zM171 17h1v1h-1z"/><path fill="#90e8a0" d="M194 1h1v1h-1zM120 3h1v1h-1zM198 3h1v1h-1zM287 4h1v1h-1zM9 6h1v1h-1zM258 10h1v1h-1zM194 11h1v1h-1zM169 13h1v1h-1zM201 14h1v1h-1z"/><path fill="#a8f070" d="M197 1h2v1h-2zM192 2h1v1h-1zM113 4h1v1h-1zM173 4h1v1h-1zM193 4h1v1h-1zM196 4h1v1h-1zM276 4h1v1h-1zM16 5h1v1h-1zM81 6h1v1h-1zM93 6h1v1h-1zM127 6h1v1h-1zM189 6h1v1h-1zM111 8h1v1h-1zM201 8h1v1h-1zM113 9h1v1h-1zM168 9h1v1h-1zM202 9h1v1h-1zM281 9h1v1h-1zM124 10h1v1h-1zM161 11h1v1h-1zM165 11h1v1h-1zM185 12h1v1h-1zM192 16h2v1h-2z"/><path fill="#d0f838" d="M5 2h1v1h-1zM202 2h1v1h-1zM183 3h1v1h-1zM194 3h1v1h-1zM179 4h1v1h-1zM286 4h1v1h-1zM23 5h1v1h-1zM246 6h1v1h-1zM275 7h1v1h-1zM12 9h1v1h-1zM89 9h1v1h-1zM189 13h1v1h-1zM241 13h1v1h-1z"/><path fill="#e0f820" d="M6 2h1v1h-1zM202 5h1v1h-1zM197 6h1v1h-1zM158 7h1v1h-1zM193 9h1v1h-1zM67 12h1v1h-1zM90 13h1v1h-1z"/><path fill="#88e0b0" d="M7 2h1v1h-1zM95 2h1v1h-1zM99 2h1v1h-1zM109 2h1v1h-1zM221 2h1v1h-1zM4 3h1v1h-1zM119 3h1v1h-1zM178 3h2v1h-2zM196 3h1v1h-1zM18 4h1v1h-1zM22 4h1v1h-1zM43 4h1v1h-1zM55 4h1v1h-1zM116 4h1v1h-1zM169 4h1v1h-1zM253 4h2v1h-2zM3 5h1v1h-1zM15 5h1v1h-1zM82 5h1v1h-1zM108 5h1v1h-1zM166 5h1v1h-1zM199 5h1v1h-1zM257 5h1v1h-1zM286 5h1v1h-1zM67 6h1v1h-1zM288 6h1v1h-1zM16 7h1v1h-1zM18 7h1v1h-1zM120 7h1v1h-1zM178 7h1v1h-1zM196 7h1v1h-1zM278 7h1v1h-1zM44 8h1v1h-1zM125 8h1v1h-1zM159 8h1v1h-1zM246 8h1v1h-1zM272 8h1v1h-1zM112 9h1v1h-1zM124 9h1v1h-1zM183 9h1v1h-1zM195 9h1v1h-1zM274 9h1v1h-1zM75 10h1v1h-1zM90 10h1v1h-1zM120 10h1v1h-1zM183 10h1v1h-1zM267 10h1v1h-1zM43 11h1v1h-1zM184 11h1v1h-1zM234 11h1v1h-1zM88 12h1v1h-1zM119 12h1v1h-1zM198 12h1v1h-1zM277 12h1v1h-1zM89 13h1v1h-1zM173 13h1v1h-1zM177 13h1v1h-1zM237 13h1v1h-1zM243 13h1v1h-1zM188 14h1v1h-1zM200 14h1v1h-1zM199 15h1v1h-1zM190 17h1v1h-1z"/><path fill="#b0f060" d="M8 2h1v1h-1zM188 2h1v1h-1zM115 4h1v1h-1zM175 4h1v1h-1zM116 5h1v1h-1zM185 5h1v1h-1zM188 5h1v1h-1zM201 5h1v1h-1zM108 6h1v1h-1zM186 6h1v1h-1zM204 6h1v1h-1zM79 7h1v1h-1zM113 7h2v1h-2zM117 7h1v1h-1zM175 7h1v1h-1zM190 7h1v1h-1zM79 9h1v1h-1zM176 9h1v1h-1zM192 9h1v1h-1zM262 9h2v1h-2zM278 9h1v1h-1zM127 10h1v1h-1zM161 10h1v1h-1zM187 10h2v1h-2zM202 10h1v1h-1zM171 11h2v1h-2zM197 11h1v1h-1zM199 11h1v1h-1zM181 12h1v1h-1zM238 12h1v1h-1zM241 12h1v1h-1zM186 13h1v1h-1zM175 14h1v1h-1z"/><path fill="#98e888" d="M43 2h1v1h-1zM43 3h1v1h-1zM257 3h1v1h-1zM168 4h1v1h-1zM183 4h1v1h-1zM206 4h1v1h-1zM274 4h1v1h-1zM7 5h1v1h-1zM279 5h1v1h-1zM285 5h1v1h-1zM170 6h1v1h-1zM184 6h1v1h-1zM194 6h1v1h-1zM262 7h1v1h-1zM112 8h1v1h-1zM117 8h1v1h-1zM190 8h1v1h-1zM262 8h1v1h-1zM264 8h1v1h-1zM275 8h1v1h-1zM178 9h1v1h-1zM162 11h1v1h-1zM111 12h1v1h-1zM178 12h1v1h-1zM191 12h1v1h-1zM179 13h1v1h-1zM240 13h1v1h-1zM240 14h2v1h-2z"/><path fill="#90e888" d="M118 2h2v1h-2zM204 2h1v1h-1zM106 3h1v1h-1zM126 3h1v1h-1zM226 3h1v1h-1zM20 4h1v1h-1zM106 4h1v1h-1zM109 4h2v1h-2zM93 5h1v1h-1zM120 5h1v1h-1zM197 5h1v1h-1zM276 5h1v1h-1zM282 5h1v1h-1zM84 6h1v1h-1zM95 6h1v1h-1zM157 6h1v1h-1zM190 6h1v1h-1zM17 7h1v1h-1zM46 7h1v1h-1zM108 7h1v1h-1zM126 7h1v1h-1zM199 7h1v1h-1zM255 7h1v1h-1zM288 7h1v1h-1zM160 8h1v1h-1zM191 8h1v1h-1zM261 8h1v1h-1zM276 8h1v1h-1zM284 8h1v1h-1zM166 9h1v1h-1zM280 9h1v1h-1zM92 10h1v1h-1zM113 10h1v1h-1zM128 10h1v1h-1zM177 10h1v1h-1zM196 10h1v1h-1zM275 11h1v1h-1zM68 12h1v1h-1zM168 13h1v1h-1zM202 13h1v1h-1zM244 14h1v1h-1zM185 15h1v1h-1zM192 15h1v1h-1z"/><path fill="#d0f830" d="M184 2h1v1h-1zM122 3h1v1h-1zM81 5h1v1h-1zM276 10h1v1h-1z"/><path fill="#b8f058" d="M187 2h1v1h-1zM2 3h1v1h-1zM107 4h2v1h-2zM182 4h1v1h-1zM285 4h1v1h-1zM79 5h1v1h-1zM114 5h1v1h-1zM171 5h1v1h-1zM201 6h1v1h-1zM186 9h1v1h-1zM200 9h1v1h-1zM91 10h1v1h-1zM199 10h1v1h-1zM66 12h1v1h-1zM89 12h1v1h-1zM91 12h1v1h-1zM195 12h2v1h-2zM185 13h1v1h-1z"/><path fill="#f8ff10" d="M200 2h1v1h-1z"/><path fill="#a0f080" d="M244 2h1v1h-1zM169 3h1v1h-1zM20 5h1v1h-1zM224 5h1v1h-1zM280 5h1v1h-1zM185 6h1v1h-1zM203 6h1v1h-1zM279 6h1v1h-1zM13 7h1v1h-1zM77 7h1v1h-1zM111 7h1v1h-1zM125 7h1v1h-1zM200 7h1v1h-1zM199 8h1v1h-1zM127 9h1v1h-1zM182 9h1v1h-1zM184 10h1v1h-1zM179 12h1v1h-1zM189 14h1v1h-1zM192 14h1v1h-1zM238 14h1v1h-1z"/><path fill="#88e0a8" d="M41 3h1v1h-1zM105 3h1v1h-1zM11 4h1v1h-1zM159 4h1v1h-1zM190 4h1v1h-1zM172 5h1v1h-1zM277 6h2v1h-2zM14 7h1v1h-1zM60 7h1v1h-1zM81 7h1v1h-1zM14 8h1v1h-1zM19 8h1v1h-1zM164 11h1v1h-1zM174 11h1v1h-1zM180 13h1v1h-1zM276 13h1v1h-1zM189 15h1v1h-1zM194 16h1v1h-1z"/><path fill="#d8f830" d="M110 3h1v1h-1zM255 4h1v1h-1zM110 5h1v1h-1zM198 5h1v1h-1zM191 6h1v1h-1zM165 7h1v1h-1zM170 7h1v1h-1zM261 7h1v1h-1zM175 8h1v1h-1zM280 8h2v1h-2zM187 9h1v1h-1zM198 9h1v1h-1z"/><path fill="#c0f050" d="M111 3h1v1h-1zM177 3h1v1h-1zM78 5h1v1h-1zM125 6h1v1h-1zM175 6h1v1h-1zM182 6h1v1h-1zM110 7h1v1h-1zM185 7h1v1h-1zM242 8h1v1h-1zM169 9h1v1h-1zM261 9h1v1h-1zM173 11h1v1h-1zM182 11h1v1h-1zM69 13h1v1h-1zM238 13h1v1h-1z"/><path fill="#90e0a8" d="M112 3h1v1h-1zM274 3h1v1h-1zM16 4h1v1h-1zM42 4h1v1h-1zM125 4h1v1h-1zM185 8h1v1h-1zM81 9h1v1h-1zM185 9h1v1h-1zM204 9h1v1h-1zM204 10h1v1h-1zM91 14h1v1h-1zM203 14h1v1h-1zM198 15h1v1h-1z"/><path fill="#e0f828" d="M171 3h1v1h-1zM4 4h1v1h-1zM113 6h1v1h-1zM167 7h1v1h-1zM113 8h1v1h-1zM194 9h1v1h-1z"/><path fill="#c0f848" d="M181 3h1v1h-1zM281 3h1v1h-1zM202 4h1v1h-1zM6 5h1v1h-1zM19 6h1v1h-1zM199 6h1v1h-1zM273 8h1v1h-1zM189 12h1v1h-1zM201 12h1v1h-1zM240 12h1v1h-1z"/><path fill="#f8ff08" d="M182 3h1v1h-1zM126 6h1v1h-1zM183 8h1v1h-1z"/><path fill="#e8f818" d="M193 3h1v1h-1zM203 3h1v1h-1zM123 4h1v1h-1zM176 4h1v1h-1zM184 5h1v1h-1zM200 8h1v1h-1zM264 9h1v1h-1zM198 11h1v1h-1z"/><path fill="#b8f050" d="M195 3h1v1h-1zM114 4h1v1h-1zM159 6h1v1h-1zM196 6h1v1h-1zM122 8h1v1h-1zM263 8h1v1h-1zM121 10h1v1h-1zM198 10h1v1h-1zM186 11h1v1h-1z"/><path fill="#c0e8f0" d="M265 3h1v1h-1zM24 8h1v1h-1zM62 8h1v1h-1zM114 8h1v1h-1zM224 8h1v1h-1zM132 9h1v1h-1zM72 13h1v1h-1zM248 16h1v1h-1z"/><path fill="#88d8b8" d="M283 3h1v1h-1zM255 6h1v1h-1zM42 7h1v1h-1zM44 7h1v1h-1zM263 7h1v1h-1zM163 8h1v1h-1zM258 8h1v1h-1zM282 8h1v1h-1zM169 12h1v1h-1zM182 12h1v1h-1zM235 13h1v1h-1zM240 15h1v1h-1z"/><path fill="#b0f068" d="M112 4h1v1h-1zM205 4h1v1h-1zM16 6h1v1h-1zM173 6h1v1h-1zM276 6h1v1h-1zM173 7h1v1h-1zM172 8h1v1h-1zM68 11h1v1h-1zM187 11h1v1h-1zM193 12h1v1h-1z"/><path fill="#f0ff10" d="M178 4h1v1h-1zM245 4h1v1h-1zM112 6h1v1h-1zM172 6h1v1h-1zM198 6h1v1h-1zM191 9h1v1h-1zM199 9h1v1h-1zM90 12h1v1h-1z"/><path fill="#f8b018" d="M194 4h1v1h-1zM183 6h1v1h-1zM181 8h1v1h-1z"/><path fill="#e8f820" d="M124 5h1v1h-1zM191 11h1v1h-1zM274 11h1v1h-1z"/><path fill="#ffff00" d="M181 5h1v1h-1zM171 7h1v1h-1zM197 7h1v1h-1zM277 8h1v1h-1zM179 9h2v1h-2zM190 12h1v1h-1z"/><path fill="#ffe008" d="M194 5h1v1h-1z"/><path fill="#d8f828" d="M245 5h1v1h-1zM114 6h1v1h-1zM260 6h1v1h-1zM112 7h1v1h-1z"/><path fill="#ffe808" d="M80 6h1v1h-1zM180 12h1v1h-1z"/><path fill="#c0f048" d="M115 6h1v1h-1z"/><path fill="#f8d010" d="M178 6h1v1h-1zM201 7h1v1h-1z"/><path fill="#f8b010" d="M179 6h1v1h-1zM181 6h1v1h-1zM182 7h1v1h-1z"/><path fill="#fff008" d="M286 6h1v1h-1z"/><path fill="#f8a018" d="M287 6h1v1h-1z"/><path fill="#f89020" d="M80 7h1v1h-1zM179 7h1v1h-1z"/><path fill="#f89820" d="M166 7h1v1h-1zM181 7h1v1h-1z"/><path fill="#d0f840" d="M168 7h1v1h-1z"/><path fill="#f8d808" d="M177 7h1v1h-1zM202 7h1v1h-1z"/><path fill="#f04830" d="M180 7h1v1h-1z"/><path fill="#f8c010" d="M178 8h1v1h-1zM190 11h1v1h-1z"/><path fill="#f09020" d="M179 8h1v1h-1z"/><path fill="#f04030" d="M180 8h1v1h-1z"/><path fill="#fff800" d="M182 8h1v1h-1zM277 9h1v1h-1z"/><path fill="#c8f848" d="M164 9h1v1h-1zM194 12h1v1h-1z"/><path fill="#f8e008" d="M181 9h1v1h-1z"/></g><g fill="#000"><rect x="135" y="1379" width="1196" height="169" fill="none" stroke="#555" stroke-width="1.3"/><line x1="135" y1="1379" x2="135" y2="1548" stroke="#111" stroke-width="1.3"/><line x1="124.5" y1="1548.0" x2="135" y2="1548.0" stroke="#555" stroke-width="1.3"/><line x1="1331" y1="1548.0" x2="1341.5" y2="1548.0" stroke="#555" stroke-width="1.3"/><text transform="translate(64.5,1556.8)" font-size="26" text-anchor="end">0</text><line x1="124.5" y1="1505.8" x2="135" y2="1505.8" stroke="#555" stroke-width="1.3"/><line x1="1331" y1="1505.8" x2="1341.5" y2="1505.8" stroke="#555" stroke-width="1.3"/><text transform="translate(64.5,1514.5)" font-size="26" text-anchor="end">5</text><line x1="124.5" y1="1463.5" x2="135" y2="1463.5" stroke="#555" stroke-width="1.3"/><line x1="1331" y1="1463.5" x2="1341.5" y2="1463.5" stroke="#555" stroke-width="1.3"/><text transform="translate(64.5,1472.3)" font-size="26" text-anchor="end">10</text><line x1="124.5" y1="1421.2" x2="135" y2="1421.2" stroke="#555" stroke-width="1.3"/><line x1="1331" y1="1421.2" x2="1341.5" y2="1421.2" stroke="#555" stroke-width="1.3"/><text transform="translate(64.5,1430.0)" font-size="26" text-anchor="end">15</text><line x1="124.5" y1="1379.0" x2="135" y2="1379.0" stroke="#555" stroke-width="1.3"/><line x1="1331" y1="1379.0" x2="1341.5" y2="1379.0" stroke="#555" stroke-width="1.3"/><text transform="translate(64.5,1387.8)" font-size="26" text-anchor="end">20</text><line x1="135.0" y1="1377.2" x2="135.0" y2="1379" stroke="#555" stroke-width="1.2"/><line x1="135.0" y1="1548" x2="135.0" y2="1549.8" stroke="#555" stroke-width="1.2"/><text transform="translate(138.3,1572.2)" font-size="26" text-anchor="middle">0</text><line x1="334.3" y1="1377.2" x2="334.3" y2="1379" stroke="#555" stroke-width="1.2"/><line x1="334.3" y1="1548" x2="334.3" y2="1549.8" stroke="#555" stroke-width="1.2"/><text transform="translate(337.6,1572.2)" font-size="26" text-anchor="middle">50</text><line x1="533.7" y1="1377.2" x2="533.7" y2="1379" stroke="#555" stroke-width="1.2"/><line x1="533.7" y1="1548" x2="533.7" y2="1549.8" stroke="#555" stroke-width="1.2"/><text transform="translate(537.0,1572.2)" font-size="26" text-anchor="middle">100</text><line x1="733.0" y1="1377.2" x2="733.0" y2="1379" stroke="#555" stroke-width="1.2"/><line x1="733.0" y1="1548" x2="733.0" y2="1549.8" stroke="#555" stroke-width="1.2"/><text transform="translate(736.3,1572.2)" font-size="26" text-anchor="middle">150</text><line x1="932.3" y1="1377.2" x2="932.3" y2="1379" stroke="#555" stroke-width="1.2"/><line x1="932.3" y1="1548" x2="932.3" y2="1549.8" stroke="#555" stroke-width="1.2"/><text transform="translate(935.6,1572.2)" font-size="26" text-anchor="middle">200</text><line x1="1131.7" y1="1377.2" x2="1131.7" y2="1379" stroke="#555" stroke-width="1.2"/><line x1="1131.7" y1="1548" x2="1131.7" y2="1549.8" stroke="#555" stroke-width="1.2"/><text transform="translate(1135.0,1572.2)" font-size="26" text-anchor="middle">250</text><line x1="1331.0" y1="1377.2" x2="1331.0" y2="1379" stroke="#555" stroke-width="1.2"/><line x1="1331.0" y1="1548" x2="1331.0" y2="1549.8" stroke="#555" stroke-width="1.2"/><text transform="translate(1334.3,1572.2)" font-size="26" text-anchor="middle">300</text><rect x="134.3" y="1713.7" width="1190.0" height="168.5999999999999" fill="none" stroke="#222" stroke-width="1.3"/><line x1="134.3" y1="1713.7" x2="134.3" y2="1882.3" stroke="#111" stroke-width="1.3"/><line x1="123.80000000000001" y1="1882.3" x2="134.3" y2="1882.3" stroke="#222" stroke-width="1.3"/><line x1="1324.3" y1="1882.3" x2="1334.8" y2="1882.3" stroke="#222" stroke-width="1.3"/><text transform="translate(64.5,1891.1)" font-size="26" text-anchor="end">0</text><line x1="123.80000000000001" y1="1840.2" x2="134.3" y2="1840.2" stroke="#222" stroke-width="1.3"/><line x1="1324.3" y1="1840.2" x2="1334.8" y2="1840.2" stroke="#222" stroke-width="1.3"/><text transform="translate(64.5,1849.0)" font-size="26" text-anchor="end">5</text><line x1="123.80000000000001" y1="1798.0" x2="134.3" y2="1798.0" stroke="#222" stroke-width="1.3"/><line x1="1324.3" y1="1798.0" x2="1334.8" y2="1798.0" stroke="#222" stroke-width="1.3"/><text transform="translate(64.5,1806.8)" font-size="26" text-anchor="end">10</text><line x1="123.80000000000001" y1="1755.8" x2="134.3" y2="1755.8" stroke="#222" stroke-width="1.3"/><line x1="1324.3" y1="1755.8" x2="1334.8" y2="1755.8" stroke="#222" stroke-width="1.3"/><text transform="translate(64.5,1764.6)" font-size="26" text-anchor="end">15</text><line x1="123.80000000000001" y1="1713.7" x2="134.3" y2="1713.7" stroke="#222" stroke-width="1.3"/><line x1="1324.3" y1="1713.7" x2="1334.8" y2="1713.7" stroke="#222" stroke-width="1.3"/><text transform="translate(64.5,1722.5)" font-size="26" text-anchor="end">20</text><line x1="134.3" y1="1711.9" x2="134.3" y2="1713.7" stroke="#222" stroke-width="1.2"/><line x1="134.3" y1="1882.3" x2="134.3" y2="1884.1" stroke="#222" stroke-width="1.2"/><text transform="translate(137.6,1906.4)" font-size="26" text-anchor="middle">0</text><line x1="332.6" y1="1711.9" x2="332.6" y2="1713.7" stroke="#222" stroke-width="1.2"/><line x1="332.6" y1="1882.3" x2="332.6" y2="1884.1" stroke="#222" stroke-width="1.2"/><text transform="translate(335.9,1906.4)" font-size="26" text-anchor="middle">50</text><line x1="531.0" y1="1711.9" x2="531.0" y2="1713.7" stroke="#222" stroke-width="1.2"/><line x1="531.0" y1="1882.3" x2="531.0" y2="1884.1" stroke="#222" stroke-width="1.2"/><text transform="translate(534.3,1906.4)" font-size="26" text-anchor="middle">100</text><line x1="729.3" y1="1711.9" x2="729.3" y2="1713.7" stroke="#222" stroke-width="1.2"/><line x1="729.3" y1="1882.3" x2="729.3" y2="1884.1" stroke="#222" stroke-width="1.2"/><text transform="translate(732.6,1906.4)" font-size="26" text-anchor="middle">150</text><line x1="927.6" y1="1711.9" x2="927.6" y2="1713.7" stroke="#222" stroke-width="1.2"/><line x1="927.6" y1="1882.3" x2="927.6" y2="1884.1" stroke="#222" stroke-width="1.2"/><text transform="translate(930.9,1906.4)" font-size="26" text-anchor="middle">200</text><line x1="1126.0" y1="1711.9" x2="1126.0" y2="1713.7" stroke="#222" stroke-width="1.2"/><line x1="1126.0" y1="1882.3" x2="1126.0" y2="1884.1" stroke="#222" stroke-width="1.2"/><text transform="translate(1129.3,1906.4)" font-size="26" text-anchor="middle">250</text><line x1="1324.3" y1="1711.9" x2="1324.3" y2="1713.7" stroke="#222" stroke-width="1.2"/><line x1="1324.3" y1="1882.3" x2="1324.3" y2="1884.1" stroke="#222" stroke-width="1.2"/><text transform="translate(1327.6,1906.4)" font-size="26" text-anchor="middle">300</text></g><g fill="#000"><linearGradient id="gb" x1="0" y1="1" x2="0" y2="0"><stop offset="0.0" stop-color="#fdfeff"/><stop offset="0.02" stop-color="#f0f7fb"/><stop offset="0.06" stop-color="#d7ecf7"/><stop offset="0.12" stop-color="#b4def1"/><stop offset="0.17" stop-color="#96d2ec"/><stop offset="0.21" stop-color="#82cae8"/><stop offset="0.25" stop-color="#87dabe"/><stop offset="0.3" stop-color="#91ea8c"/><stop offset="0.37" stop-color="#aaf069"/><stop offset="0.45" stop-color="#c8f641"/><stop offset="0.52" stop-color="#e4fa20"/><stop offset="0.6" stop-color="#ffff00"/><stop offset="0.67" stop-color="#fad20c"/><stop offset="0.76" stop-color="#f6a518"/><stop offset="0.85" stop-color="#f37d23"/><stop offset="0.93" stop-color="#f05a2a"/><stop offset="1.0" stop-color="#ee3730"/></linearGradient><rect x="1363.4" y="1379.2" width="59.899999999999864" height="168.39999999999986" fill="url(#gb)" stroke="#333" stroke-width="1.3"/><text transform="translate(1446.3,1556.6)" font-size="25.5">0</text><line x1="1363.4" y1="1463.4" x2="1376.4" y2="1463.4" stroke="#222" stroke-width="1.3"/><line x1="1410.3" y1="1463.4" x2="1423.3" y2="1463.4" stroke="#222" stroke-width="1.3"/><text transform="translate(1446.3,1472.4)" font-size="25.5">6</text><text transform="translate(1446.3,1388.2)" font-size="25.5">12</text><linearGradient id="gc" x1="0" y1="1" x2="0" y2="0"><stop offset="0.0" stop-color="#fdfeff"/><stop offset="0.02" stop-color="#f0f7fb"/><stop offset="0.06" stop-color="#d7ecf7"/><stop offset="0.12" stop-color="#b4def1"/><stop offset="0.17" stop-color="#96d2ec"/><stop offset="0.21" stop-color="#82cae8"/><stop offset="0.25" stop-color="#87dabe"/><stop offset="0.3" stop-color="#91ea8c"/><stop offset="0.37" stop-color="#aaf069"/><stop offset="0.45" stop-color="#c8f641"/><stop offset="0.52" stop-color="#e4fa20"/><stop offset="0.6" stop-color="#ffff00"/><stop offset="0.67" stop-color="#fad20c"/><stop offset="0.76" stop-color="#f6a518"/><stop offset="0.85" stop-color="#f37d23"/><stop offset="0.93" stop-color="#f05a2a"/><stop offset="1.0" stop-color="#ee3730"/></linearGradient><rect x="1356.6" y="1714.3" width="59.5" height="168.0" fill="url(#gc)" stroke="#333" stroke-width="1.3"/><text transform="translate(1439.0,1891.3)" font-size="25.5">0</text><line x1="1356.6" y1="1848.7" x2="1369.6" y2="1848.7" stroke="#222" stroke-width="1.3"/><line x1="1403.1" y1="1848.7" x2="1416.1" y2="1848.7" stroke="#222" stroke-width="1.3"/><text transform="translate(1439.0,1857.7)" font-size="25.5">5</text><line x1="1356.6" y1="1815.1" x2="1369.6" y2="1815.1" stroke="#222" stroke-width="1.3"/><line x1="1403.1" y1="1815.1" x2="1416.1" y2="1815.1" stroke="#222" stroke-width="1.3"/><text transform="translate(1439.0,1824.1)" font-size="25.5">10</text><line x1="1356.6" y1="1781.5" x2="1369.6" y2="1781.5" stroke="#222" stroke-width="1.3"/><line x1="1403.1" y1="1781.5" x2="1416.1" y2="1781.5" stroke="#222" stroke-width="1.3"/><text transform="translate(1439.0,1790.5)" font-size="25.5">15</text><line x1="1356.6" y1="1747.9" x2="1369.6" y2="1747.9" stroke="#222" stroke-width="1.3"/><line x1="1403.1" y1="1747.9" x2="1416.1" y2="1747.9" stroke="#222" stroke-width="1.3"/><text transform="translate(1439.0,1756.9)" font-size="25.5">20</text><text transform="translate(1439.0,1723.3)" font-size="25.5">25</text></g><g font-size="26" fill="#000"><text transform="translate(635.1,1610.9) scale(1,1.05)" font-size="26" textLength="195.3" lengthAdjust="spacingAndGlyphs">Along strike (km)</text><text transform="translate(633.2,1945.3) scale(1,1.05)" font-size="26" textLength="193.6" lengthAdjust="spacingAndGlyphs">Along strike (km)</text><text transform="translate(19.2,1463.7) rotate(-90) scale(1,1.05)" font-size="26" text-anchor="middle">Along dip (km)</text><text transform="translate(19.2,1798.3) rotate(-90) scale(1,1.05)" font-size="26" text-anchor="middle">Along dip (km)</text><text transform="translate(1494.6,1463.6) rotate(-90) scale(1,1.05)" font-size="26" text-anchor="middle">Slip (m)</text><text transform="translate(1494.9,1798.3) rotate(-90) scale(1,1.05)" font-size="26" text-anchor="middle">Slip (m)</text><text transform="translate(107.9,1356.6) scale(1,1.03)" font-size="26.5" textLength="42.6" lengthAdjust="spacingAndGlyphs">SW</text><text transform="translate(107.9,1681.7) scale(1,1.03)" font-size="26.5" textLength="42.6" lengthAdjust="spacingAndGlyphs">SW</text><text transform="translate(1314.1,1357.1) scale(1,1.03)" font-size="26.5" textLength="38.3" lengthAdjust="spacingAndGlyphs">NE</text><text transform="translate(1313.0,1682.4) scale(1,1.03)" font-size="26.5" textLength="40.0" lengthAdjust="spacingAndGlyphs">NE</text></g><g font-size="72" fill="#1a1a1a"><text transform="translate(393.0,1470.0)" font-size="72" fill="#1a1a1a">F</text><text transform="translate(573.0,1470.0)" font-size="72" fill="#1a1a1a">E</text><text transform="translate(825.0,1470.0)" font-size="72" fill="#1a1a1a">A+B</text><text transform="translate(1105.0,1470.0)" font-size="72" fill="#1a1a1a">C</text><text transform="translate(1226.0,1470.0)" font-size="72" fill="#1a1a1a">D</text></g><line x1="732.5" y1="1379" x2="732.5" y2="1882" stroke="#bdbdbd" stroke-width="4.2" stroke-dasharray="7 4.6"/><line x1="822.6" y1="1378" x2="822.6" y2="1882" stroke="#000" stroke-width="4.2"/><line x1="154" y1="1964" x2="818.3" y2="1964" stroke="#e2380f" stroke-width="4.4"/><polygon fill="#e2380f" points="130,1964 156,1951 156,1977"/><line x1="828" y1="1963.5" x2="1306" y2="1963.5" stroke="#e2380f" stroke-width="4.4"/><polygon fill="#e2380f" points="1329.7,1963.7 1304,1951 1304,1976.7"/><text transform="translate(295.9,2018.0) scale(1,1.04)" font-size="50" fill="#1a1a1a" textLength="355.2" lengthAdjust="spacingAndGlyphs">RT + 10 s +15 s</text><text transform="translate(1004.5,2017.7) scale(1,1.04)" font-size="50" fill="#1a1a1a" textLength="216.5" lengthAdjust="spacingAndGlyphs">RT + 10 s</text></svg></body></html>
